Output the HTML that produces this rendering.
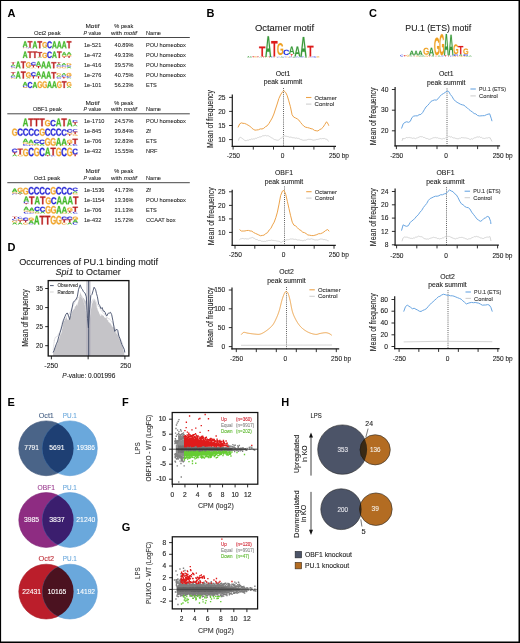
<!DOCTYPE html>
<html><head><meta charset="utf-8"><style>
html,body{margin:0;padding:0;background:#fff;width:520px;height:643px;overflow:hidden}
svg{display:block;will-change:transform}
text{font-family:"Liberation Sans", sans-serif}
</style></head><body>
<svg width="520" height="643" viewBox="0 0 520 643">
<defs><path id="gA" vector-effect="non-scaling-stroke" d="M1133 0 1008 360H471L346 0H51L565 1409H913L1425 0ZM739 1192 733 1170Q723 1134 709.0 1088.0Q695 1042 537 582H942L803 987L760 1123Z"/><path id="gC" vector-effect="non-scaling-stroke" d="M795 212Q1062 212 1166 480L1423 383Q1340 179 1179.5 79.5Q1019 -20 795 -20Q455 -20 269.5 172.5Q84 365 84 711Q84 1058 263.0 1244.0Q442 1430 782 1430Q1030 1430 1186.0 1330.5Q1342 1231 1405 1038L1145 967Q1112 1073 1015.5 1135.5Q919 1198 788 1198Q588 1198 484.5 1074.0Q381 950 381 711Q381 468 487.5 340.0Q594 212 795 212Z"/><path id="gG" vector-effect="non-scaling-stroke" d="M806 211Q921 211 1029.0 244.5Q1137 278 1196 330V525H852V743H1466V225Q1354 110 1174.5 45.0Q995 -20 798 -20Q454 -20 269.0 170.5Q84 361 84 711Q84 1059 270.0 1244.5Q456 1430 805 1430Q1301 1430 1436 1063L1164 981Q1120 1088 1026.0 1143.0Q932 1198 805 1198Q597 1198 489.0 1072.0Q381 946 381 711Q381 472 492.5 341.5Q604 211 806 211Z"/><path id="gT" vector-effect="non-scaling-stroke" d="M773 1181V0H478V1181H23V1409H1229V1181Z"/></defs>
<rect x="0" y="0" width="520" height="643" fill="#fff"/>
<text x="7.60" y="16.80" font-size="11" fill="#000" font-weight="bold">A</text>
<text x="34.00" y="35.20" font-size="5.8" fill="#222" stroke="#222" stroke-width="0.07" textLength="26.58" lengthAdjust="spacingAndGlyphs">Oct2 peak</text>
<text x="92.50" y="28.20" font-size="5.8" fill="#222" stroke="#222" stroke-width="0.07" text-anchor="middle" textLength="13.98" lengthAdjust="spacingAndGlyphs">Motif</text>
<text x="92.40" y="35.20" font-size="5.8" fill="#222" stroke="#222" stroke-width="0.07" text-anchor="middle" textLength="17.8" lengthAdjust="spacingAndGlyphs"><tspan font-style="italic">P</tspan> value</text>
<text x="123.80" y="28.20" font-size="5.8" fill="#222" stroke="#222" stroke-width="0.07" text-anchor="middle" textLength="18.88" lengthAdjust="spacingAndGlyphs">% peak</text>
<text x="124.00" y="35.20" font-size="5.8" fill="#222" stroke="#222" stroke-width="0.07" text-anchor="middle" textLength="26.0" lengthAdjust="spacingAndGlyphs">with <tspan font-style="italic">motif</tspan></text>
<text x="146.00" y="35.20" font-size="5.8" fill="#222" stroke="#222" stroke-width="0.07" textLength="14.98" lengthAdjust="spacingAndGlyphs">Name</text>
<line x1="7.30" y1="37.50" x2="189.80" y2="37.50" stroke="#333" stroke-width="0.9"/>
<text x="83.90" y="47.10" font-size="5.8" fill="#222" stroke="#222" stroke-width="0.07" textLength="17.46" lengthAdjust="spacingAndGlyphs">1e-521</text>
<text x="114.60" y="47.10" font-size="5.8" fill="#222" stroke="#222" stroke-width="0.07" textLength="18.88" lengthAdjust="spacingAndGlyphs">40.89%</text>
<text x="145.90" y="47.10" font-size="5.8" fill="#222" stroke="#222" stroke-width="0.07" textLength="39.90" lengthAdjust="spacingAndGlyphs">POU homeobox</text>
<text x="83.90" y="57.10" font-size="5.8" fill="#222" stroke="#222" stroke-width="0.07" textLength="17.46" lengthAdjust="spacingAndGlyphs">1e-472</text>
<text x="114.60" y="57.10" font-size="5.8" fill="#222" stroke="#222" stroke-width="0.07" textLength="18.88" lengthAdjust="spacingAndGlyphs">49.33%</text>
<text x="145.90" y="57.10" font-size="5.8" fill="#222" stroke="#222" stroke-width="0.07" textLength="39.90" lengthAdjust="spacingAndGlyphs">POU homeobox</text>
<text x="83.90" y="67.20" font-size="5.8" fill="#222" stroke="#222" stroke-width="0.07" textLength="17.46" lengthAdjust="spacingAndGlyphs">1e-416</text>
<text x="114.60" y="67.20" font-size="5.8" fill="#222" stroke="#222" stroke-width="0.07" textLength="18.88" lengthAdjust="spacingAndGlyphs">39.57%</text>
<text x="145.90" y="67.20" font-size="5.8" fill="#222" stroke="#222" stroke-width="0.07" textLength="39.90" lengthAdjust="spacingAndGlyphs">POU homeobox</text>
<text x="83.90" y="77.20" font-size="5.8" fill="#222" stroke="#222" stroke-width="0.07" textLength="17.46" lengthAdjust="spacingAndGlyphs">1e-276</text>
<text x="114.60" y="77.20" font-size="5.8" fill="#222" stroke="#222" stroke-width="0.07" textLength="18.88" lengthAdjust="spacingAndGlyphs">40.75%</text>
<text x="145.90" y="77.20" font-size="5.8" fill="#222" stroke="#222" stroke-width="0.07" textLength="39.90" lengthAdjust="spacingAndGlyphs">POU homeobox</text>
<text x="83.90" y="87.00" font-size="5.8" fill="#222" stroke="#222" stroke-width="0.07" textLength="17.46" lengthAdjust="spacingAndGlyphs">1e-101</text>
<text x="114.60" y="87.00" font-size="5.8" fill="#222" stroke="#222" stroke-width="0.07" textLength="18.88" lengthAdjust="spacingAndGlyphs">56.23%</text>
<text x="145.90" y="87.00" font-size="5.8" fill="#222" stroke="#222" stroke-width="0.07" textLength="10.91" lengthAdjust="spacingAndGlyphs">ETS</text>
<text x="32.70" y="111.30" font-size="5.8" fill="#222" stroke="#222" stroke-width="0.07" textLength="29.08" lengthAdjust="spacingAndGlyphs">OBF1 peak</text>
<text x="92.50" y="104.80" font-size="5.8" fill="#222" stroke="#222" stroke-width="0.07" text-anchor="middle" textLength="13.98" lengthAdjust="spacingAndGlyphs">Motif</text>
<text x="92.40" y="111.30" font-size="5.8" fill="#222" stroke="#222" stroke-width="0.07" text-anchor="middle" textLength="17.8" lengthAdjust="spacingAndGlyphs"><tspan font-style="italic">P</tspan> value</text>
<text x="123.80" y="104.80" font-size="5.8" fill="#222" stroke="#222" stroke-width="0.07" text-anchor="middle" textLength="18.88" lengthAdjust="spacingAndGlyphs">% peak</text>
<text x="124.00" y="111.30" font-size="5.8" fill="#222" stroke="#222" stroke-width="0.07" text-anchor="middle" textLength="26.0" lengthAdjust="spacingAndGlyphs">with <tspan font-style="italic">motif</tspan></text>
<text x="146.00" y="111.30" font-size="5.8" fill="#222" stroke="#222" stroke-width="0.07" textLength="14.98" lengthAdjust="spacingAndGlyphs">Name</text>
<line x1="7.30" y1="113.80" x2="189.80" y2="113.80" stroke="#333" stroke-width="0.9"/>
<text x="83.90" y="123.40" font-size="5.8" fill="#222" stroke="#222" stroke-width="0.07" textLength="20.58" lengthAdjust="spacingAndGlyphs">1e-1710</text>
<text x="114.60" y="123.40" font-size="5.8" fill="#222" stroke="#222" stroke-width="0.07" textLength="18.88" lengthAdjust="spacingAndGlyphs">24.57%</text>
<text x="145.90" y="123.40" font-size="5.8" fill="#222" stroke="#222" stroke-width="0.07" textLength="39.90" lengthAdjust="spacingAndGlyphs">POU homeobox</text>
<text x="83.90" y="133.20" font-size="5.8" fill="#222" stroke="#222" stroke-width="0.07" textLength="17.46" lengthAdjust="spacingAndGlyphs">1e-845</text>
<text x="114.60" y="133.20" font-size="5.8" fill="#222" stroke="#222" stroke-width="0.07" textLength="18.88" lengthAdjust="spacingAndGlyphs">39.84%</text>
<text x="145.90" y="133.20" font-size="5.8" fill="#222" stroke="#222" stroke-width="0.07" textLength="4.98" lengthAdjust="spacingAndGlyphs">Zf</text>
<text x="83.90" y="143.10" font-size="5.8" fill="#222" stroke="#222" stroke-width="0.07" textLength="17.46" lengthAdjust="spacingAndGlyphs">1e-706</text>
<text x="114.60" y="143.10" font-size="5.8" fill="#222" stroke="#222" stroke-width="0.07" textLength="18.88" lengthAdjust="spacingAndGlyphs">32.83%</text>
<text x="145.90" y="143.10" font-size="5.8" fill="#222" stroke="#222" stroke-width="0.07" textLength="10.91" lengthAdjust="spacingAndGlyphs">ETS</text>
<text x="83.90" y="152.80" font-size="5.8" fill="#222" stroke="#222" stroke-width="0.07" textLength="17.46" lengthAdjust="spacingAndGlyphs">1e-432</text>
<text x="114.60" y="152.80" font-size="5.8" fill="#222" stroke="#222" stroke-width="0.07" textLength="18.88" lengthAdjust="spacingAndGlyphs">15.55%</text>
<text x="145.90" y="152.80" font-size="5.8" fill="#222" stroke="#222" stroke-width="0.07" textLength="11.53" lengthAdjust="spacingAndGlyphs">NRF</text>
<text x="33.70" y="180.30" font-size="5.8" fill="#222" stroke="#222" stroke-width="0.07" textLength="26.48" lengthAdjust="spacingAndGlyphs">Oct1 peak</text>
<text x="92.50" y="173.20" font-size="5.8" fill="#222" stroke="#222" stroke-width="0.07" text-anchor="middle" textLength="13.98" lengthAdjust="spacingAndGlyphs">Motif</text>
<text x="92.40" y="180.30" font-size="5.8" fill="#222" stroke="#222" stroke-width="0.07" text-anchor="middle" textLength="17.8" lengthAdjust="spacingAndGlyphs"><tspan font-style="italic">P</tspan> value</text>
<text x="123.80" y="173.20" font-size="5.8" fill="#222" stroke="#222" stroke-width="0.07" text-anchor="middle" textLength="18.88" lengthAdjust="spacingAndGlyphs">% peak</text>
<text x="124.00" y="180.30" font-size="5.8" fill="#222" stroke="#222" stroke-width="0.07" text-anchor="middle" textLength="26.0" lengthAdjust="spacingAndGlyphs">with <tspan font-style="italic">motif</tspan></text>
<text x="146.00" y="180.30" font-size="5.8" fill="#222" stroke="#222" stroke-width="0.07" textLength="14.98" lengthAdjust="spacingAndGlyphs">Name</text>
<line x1="7.30" y1="182.70" x2="189.80" y2="182.70" stroke="#333" stroke-width="0.9"/>
<text x="83.90" y="191.70" font-size="5.8" fill="#222" stroke="#222" stroke-width="0.07" textLength="20.58" lengthAdjust="spacingAndGlyphs">1e-1536</text>
<text x="114.60" y="191.70" font-size="5.8" fill="#222" stroke="#222" stroke-width="0.07" textLength="18.88" lengthAdjust="spacingAndGlyphs">41.73%</text>
<text x="145.90" y="191.70" font-size="5.8" fill="#222" stroke="#222" stroke-width="0.07" textLength="4.98" lengthAdjust="spacingAndGlyphs">Zf</text>
<text x="83.90" y="201.80" font-size="5.8" fill="#222" stroke="#222" stroke-width="0.07" textLength="20.58" lengthAdjust="spacingAndGlyphs">1e-1154</text>
<text x="114.60" y="201.80" font-size="5.8" fill="#222" stroke="#222" stroke-width="0.07" textLength="18.88" lengthAdjust="spacingAndGlyphs">13.36%</text>
<text x="145.90" y="201.80" font-size="5.8" fill="#222" stroke="#222" stroke-width="0.07" textLength="39.90" lengthAdjust="spacingAndGlyphs">POU homeobox</text>
<text x="83.90" y="211.60" font-size="5.8" fill="#222" stroke="#222" stroke-width="0.07" textLength="17.46" lengthAdjust="spacingAndGlyphs">1e-706</text>
<text x="114.60" y="211.60" font-size="5.8" fill="#222" stroke="#222" stroke-width="0.07" textLength="18.88" lengthAdjust="spacingAndGlyphs">31.13%</text>
<text x="145.90" y="211.60" font-size="5.8" fill="#222" stroke="#222" stroke-width="0.07" textLength="10.91" lengthAdjust="spacingAndGlyphs">ETS</text>
<text x="83.90" y="221.60" font-size="5.8" fill="#222" stroke="#222" stroke-width="0.07" textLength="17.46" lengthAdjust="spacingAndGlyphs">1e-432</text>
<text x="114.60" y="221.60" font-size="5.8" fill="#222" stroke="#222" stroke-width="0.07" textLength="18.88" lengthAdjust="spacingAndGlyphs">15.72%</text>
<text x="145.90" y="221.60" font-size="5.8" fill="#222" stroke="#222" stroke-width="0.07" textLength="29.61" lengthAdjust="spacingAndGlyphs">CCAAT box</text>
<use href="#gA" transform="matrix(0.00334,0,0,-0.00397,22.676,46.900)" fill="#44b82a" stroke="#44b82a" stroke-width="0.3"/>
<use href="#gC" transform="matrix(0.00343,0,0,-0.00048,22.559,47.590)" fill="#2a2ad6"/>
<use href="#gG" transform="matrix(0.00332,0,0,-0.00048,22.568,48.290)" fill="#f0a62e"/>
<use href="#gT" transform="matrix(0.00380,0,0,-0.00447,27.639,47.600)" fill="#bb1e1e" stroke="#bb1e1e" stroke-width="0.3"/>
<use href="#gC" transform="matrix(0.00343,0,0,-0.00048,27.439,48.290)" fill="#2a2ad6"/>
<use href="#gA" transform="matrix(0.00334,0,0,-0.00497,32.436,48.300)" fill="#44b82a" stroke="#44b82a" stroke-width="0.3"/>
<use href="#gT" transform="matrix(0.00380,0,0,-0.00497,37.399,48.300)" fill="#bb1e1e" stroke="#bb1e1e" stroke-width="0.3"/>
<use href="#gG" transform="matrix(0.00332,0,0,-0.00386,42.088,47.523)" fill="#f0a62e" stroke="#f0a62e" stroke-width="0.3"/>
<use href="#gA" transform="matrix(0.00334,0,0,-0.00050,42.196,48.300)" fill="#44b82a"/>
<use href="#gC" transform="matrix(0.00343,0,0,-0.00483,46.959,48.203)" fill="#2a2ad6" stroke="#2a2ad6" stroke-width="0.3"/>
<use href="#gA" transform="matrix(0.00334,0,0,-0.00497,51.956,48.300)" fill="#44b82a" stroke="#44b82a" stroke-width="0.3"/>
<use href="#gA" transform="matrix(0.00334,0,0,-0.00497,56.836,48.300)" fill="#44b82a" stroke="#44b82a" stroke-width="0.3"/>
<use href="#gA" transform="matrix(0.00334,0,0,-0.00497,61.716,48.300)" fill="#44b82a" stroke="#44b82a" stroke-width="0.3"/>
<use href="#gT" transform="matrix(0.00380,0,0,-0.00497,66.679,48.300)" fill="#bb1e1e" stroke="#bb1e1e" stroke-width="0.3"/>
<use href="#gA" transform="matrix(0.00334,0,0,-0.00461,22.676,58.000)" fill="#44b82a" stroke="#44b82a" stroke-width="0.3"/>
<use href="#gT" transform="matrix(0.00380,0,0,-0.00461,27.639,58.000)" fill="#bb1e1e" stroke="#bb1e1e" stroke-width="0.3"/>
<use href="#gT" transform="matrix(0.00380,0,0,-0.00461,32.519,58.000)" fill="#bb1e1e" stroke="#bb1e1e" stroke-width="0.3"/>
<use href="#gT" transform="matrix(0.00380,0,0,-0.00323,37.399,56.700)" fill="#bb1e1e" stroke="#bb1e1e" stroke-width="0.3"/>
<use href="#gG" transform="matrix(0.00332,0,0,-0.00045,37.208,57.341)" fill="#f0a62e"/>
<use href="#gA" transform="matrix(0.00334,0,0,-0.00046,37.316,58.000)" fill="#44b82a"/>
<use href="#gG" transform="matrix(0.00332,0,0,-0.00359,42.088,57.928)" fill="#f0a62e" stroke="#f0a62e" stroke-width="0.3"/>
<use href="#gC" transform="matrix(0.00343,0,0,-0.00448,46.959,57.910)" fill="#2a2ad6" stroke="#2a2ad6" stroke-width="0.3"/>
<use href="#gA" transform="matrix(0.00334,0,0,-0.00461,51.956,58.000)" fill="#44b82a" stroke="#44b82a" stroke-width="0.3"/>
<use href="#gT" transform="matrix(0.00380,0,0,-0.00461,56.919,58.000)" fill="#bb1e1e" stroke="#bb1e1e" stroke-width="0.3"/>
<use href="#gA" transform="matrix(0.00334,0,0,-0.00231,61.716,55.400)" fill="#44b82a" stroke="#44b82a" stroke-width="0.3"/>
<use href="#gG" transform="matrix(0.00332,0,0,-0.00090,61.608,56.682)" fill="#f0a62e"/>
<use href="#gT" transform="matrix(0.00380,0,0,-0.00092,61.799,58.000)" fill="#bb1e1e"/>
<use href="#gA" transform="matrix(0.00334,0,0,-0.00185,66.596,54.750)" fill="#44b82a" stroke="#44b82a" stroke-width="0.3"/>
<use href="#gG" transform="matrix(0.00332,0,0,-0.00090,66.488,56.032)" fill="#f0a62e"/>
<use href="#gT" transform="matrix(0.00380,0,0,-0.00138,66.679,58.000)" fill="#bb1e1e"/>
<use href="#gT" transform="matrix(0.00396,0,0,-0.00161,10.661,64.522)" fill="#bb1e1e"/>
<use href="#gA" transform="matrix(0.00347,0,0,-0.00107,10.575,66.033)" fill="#44b82a"/>
<use href="#gC" transform="matrix(0.00356,0,0,-0.00104,10.453,67.524)" fill="#2a2ad6"/>
<use href="#gG" transform="matrix(0.00345,0,0,-0.00052,10.462,68.290)" fill="#f0a62e"/>
<use href="#gA" transform="matrix(0.00347,0,0,-0.00483,15.650,68.300)" fill="#44b82a" stroke="#44b82a" stroke-width="0.3"/>
<use href="#gT" transform="matrix(0.00396,0,0,-0.00483,20.811,68.300)" fill="#bb1e1e" stroke="#bb1e1e" stroke-width="0.3"/>
<use href="#gG" transform="matrix(0.00345,0,0,-0.00365,25.687,67.471)" fill="#f0a62e" stroke="#f0a62e" stroke-width="0.3"/>
<use href="#gA" transform="matrix(0.00347,0,0,-0.00054,25.800,68.300)" fill="#44b82a"/>
<use href="#gC" transform="matrix(0.00356,0,0,-0.00208,30.753,65.236)" fill="#2a2ad6" stroke="#2a2ad6" stroke-width="0.3"/>
<use href="#gT" transform="matrix(0.00396,0,0,-0.00161,30.961,67.544)" fill="#bb1e1e"/>
<use href="#gG" transform="matrix(0.00345,0,0,-0.00052,30.762,68.290)" fill="#f0a62e"/>
<use href="#gA" transform="matrix(0.00347,0,0,-0.00322,35.950,66.033)" fill="#44b82a" stroke="#44b82a" stroke-width="0.3"/>
<use href="#gT" transform="matrix(0.00396,0,0,-0.00161,36.036,68.300)" fill="#bb1e1e"/>
<use href="#gA" transform="matrix(0.00347,0,0,-0.00483,41.025,68.300)" fill="#44b82a" stroke="#44b82a" stroke-width="0.3"/>
<use href="#gA" transform="matrix(0.00347,0,0,-0.00483,46.100,68.300)" fill="#44b82a" stroke="#44b82a" stroke-width="0.3"/>
<use href="#gT" transform="matrix(0.00396,0,0,-0.00429,51.261,68.300)" fill="#bb1e1e" stroke="#bb1e1e" stroke-width="0.3"/>
<use href="#gT" transform="matrix(0.00396,0,0,-0.00107,56.336,63.767)" fill="#bb1e1e"/>
<use href="#gA" transform="matrix(0.00347,0,0,-0.00107,56.250,65.278)" fill="#44b82a"/>
<use href="#gC" transform="matrix(0.00356,0,0,-0.00104,56.128,66.768)" fill="#2a2ad6"/>
<use href="#gG" transform="matrix(0.00345,0,0,-0.00104,56.137,68.279)" fill="#f0a62e"/>
<use href="#gA" transform="matrix(0.00347,0,0,-0.00161,61.325,65.278)" fill="#44b82a"/>
<use href="#gC" transform="matrix(0.00356,0,0,-0.00104,61.203,66.768)" fill="#2a2ad6"/>
<use href="#gG" transform="matrix(0.00345,0,0,-0.00104,61.212,68.279)" fill="#f0a62e"/>
<use href="#gG" transform="matrix(0.00345,0,0,-0.00156,66.287,65.247)" fill="#f0a62e"/>
<use href="#gC" transform="matrix(0.00356,0,0,-0.00104,66.278,66.768)" fill="#2a2ad6"/>
<use href="#gA" transform="matrix(0.00347,0,0,-0.00107,66.400,68.300)" fill="#44b82a"/>
<use href="#gT" transform="matrix(0.00396,0,0,-0.00166,10.661,74.611)" fill="#bb1e1e"/>
<use href="#gA" transform="matrix(0.00347,0,0,-0.00110,10.575,76.167)" fill="#44b82a"/>
<use href="#gC" transform="matrix(0.00356,0,0,-0.00107,10.453,77.701)" fill="#2a2ad6"/>
<use href="#gG" transform="matrix(0.00345,0,0,-0.00054,10.462,78.489)" fill="#f0a62e"/>
<use href="#gA" transform="matrix(0.00347,0,0,-0.00497,15.650,78.500)" fill="#44b82a" stroke="#44b82a" stroke-width="0.3"/>
<use href="#gT" transform="matrix(0.00396,0,0,-0.00497,20.811,78.500)" fill="#bb1e1e" stroke="#bb1e1e" stroke-width="0.3"/>
<use href="#gG" transform="matrix(0.00345,0,0,-0.00375,25.687,77.647)" fill="#f0a62e" stroke="#f0a62e" stroke-width="0.3"/>
<use href="#gA" transform="matrix(0.00347,0,0,-0.00055,25.800,78.500)" fill="#44b82a"/>
<use href="#gC" transform="matrix(0.00356,0,0,-0.00268,30.753,76.113)" fill="#2a2ad6" stroke="#2a2ad6" stroke-width="0.3"/>
<use href="#gT" transform="matrix(0.00396,0,0,-0.00166,30.961,78.500)" fill="#bb1e1e"/>
<use href="#gA" transform="matrix(0.00347,0,0,-0.00331,35.950,76.167)" fill="#44b82a" stroke="#44b82a" stroke-width="0.3"/>
<use href="#gT" transform="matrix(0.00396,0,0,-0.00166,36.036,78.500)" fill="#bb1e1e"/>
<use href="#gA" transform="matrix(0.00347,0,0,-0.00497,41.025,78.500)" fill="#44b82a" stroke="#44b82a" stroke-width="0.3"/>
<use href="#gA" transform="matrix(0.00347,0,0,-0.00497,46.100,78.500)" fill="#44b82a" stroke="#44b82a" stroke-width="0.3"/>
<use href="#gT" transform="matrix(0.00396,0,0,-0.00442,51.261,78.500)" fill="#bb1e1e" stroke="#bb1e1e" stroke-width="0.3"/>
<use href="#gG" transform="matrix(0.00345,0,0,-0.00161,56.137,75.357)" fill="#f0a62e"/>
<use href="#gA" transform="matrix(0.00347,0,0,-0.00110,56.250,76.944)" fill="#44b82a"/>
<use href="#gC" transform="matrix(0.00356,0,0,-0.00107,56.128,78.479)" fill="#2a2ad6"/>
<use href="#gA" transform="matrix(0.00347,0,0,-0.00166,61.325,75.389)" fill="#44b82a"/>
<use href="#gC" transform="matrix(0.00356,0,0,-0.00107,61.203,76.923)" fill="#2a2ad6"/>
<use href="#gT" transform="matrix(0.00396,0,0,-0.00110,61.411,78.500)" fill="#bb1e1e"/>
<use href="#gG" transform="matrix(0.00345,0,0,-0.00215,66.287,76.124)" fill="#f0a62e" stroke="#f0a62e" stroke-width="0.3"/>
<use href="#gC" transform="matrix(0.00356,0,0,-0.00107,66.278,77.701)" fill="#2a2ad6"/>
<use href="#gA" transform="matrix(0.00347,0,0,-0.00055,66.400,78.500)" fill="#44b82a"/>
<use href="#gA" transform="matrix(0.00334,0,0,-0.00264,22.676,85.767)" fill="#44b82a" stroke="#44b82a" stroke-width="0.3"/>
<use href="#gC" transform="matrix(0.00343,0,0,-0.00103,22.559,87.235)" fill="#2a2ad6"/>
<use href="#gG" transform="matrix(0.00332,0,0,-0.00051,22.568,87.990)" fill="#f0a62e"/>
<use href="#gC" transform="matrix(0.00343,0,0,-0.00411,27.439,87.918)" fill="#2a2ad6" stroke="#2a2ad6" stroke-width="0.3"/>
<use href="#gA" transform="matrix(0.00334,0,0,-0.00423,32.436,88.000)" fill="#44b82a" stroke="#44b82a" stroke-width="0.3"/>
<use href="#gG" transform="matrix(0.00332,0,0,-0.00462,37.208,87.908)" fill="#f0a62e" stroke="#f0a62e" stroke-width="0.3"/>
<use href="#gG" transform="matrix(0.00332,0,0,-0.00462,42.088,87.908)" fill="#f0a62e" stroke="#f0a62e" stroke-width="0.3"/>
<use href="#gA" transform="matrix(0.00334,0,0,-0.00476,47.076,88.000)" fill="#44b82a" stroke="#44b82a" stroke-width="0.3"/>
<use href="#gA" transform="matrix(0.00334,0,0,-0.00476,51.956,88.000)" fill="#44b82a" stroke="#44b82a" stroke-width="0.3"/>
<use href="#gG" transform="matrix(0.00332,0,0,-0.00462,56.728,87.908)" fill="#f0a62e" stroke="#f0a62e" stroke-width="0.3"/>
<use href="#gT" transform="matrix(0.00380,0,0,-0.00476,61.799,88.000)" fill="#bb1e1e" stroke="#bb1e1e" stroke-width="0.3"/>
<use href="#gG" transform="matrix(0.00332,0,0,-0.00308,66.488,86.450)" fill="#f0a62e" stroke="#f0a62e" stroke-width="0.3"/>
<use href="#gA" transform="matrix(0.00334,0,0,-0.00106,66.596,88.000)" fill="#44b82a"/>
<use href="#gA" transform="matrix(0.00378,0,0,-0.00546,22.673,126.200)" fill="#44b82a" stroke="#44b82a" stroke-width="0.3"/>
<use href="#gT" transform="matrix(0.00430,0,0,-0.00546,28.287,126.200)" fill="#bb1e1e" stroke="#bb1e1e" stroke-width="0.3"/>
<use href="#gT" transform="matrix(0.00430,0,0,-0.00546,33.807,126.200)" fill="#bb1e1e" stroke="#bb1e1e" stroke-width="0.3"/>
<use href="#gT" transform="matrix(0.00430,0,0,-0.00546,39.327,126.200)" fill="#bb1e1e" stroke="#bb1e1e" stroke-width="0.3"/>
<use href="#gG" transform="matrix(0.00375,0,0,-0.00425,44.630,126.115)" fill="#f0a62e" stroke="#f0a62e" stroke-width="0.3"/>
<use href="#gC" transform="matrix(0.00388,0,0,-0.00425,50.140,126.115)" fill="#2a2ad6" stroke="#2a2ad6" stroke-width="0.3"/>
<use href="#gA" transform="matrix(0.00378,0,0,-0.00546,55.793,126.200)" fill="#44b82a" stroke="#44b82a" stroke-width="0.3"/>
<use href="#gT" transform="matrix(0.00430,0,0,-0.00546,61.407,126.200)" fill="#bb1e1e" stroke="#bb1e1e" stroke-width="0.3"/>
<use href="#gA" transform="matrix(0.00378,0,0,-0.00492,66.833,126.200)" fill="#44b82a" stroke="#44b82a" stroke-width="0.3"/>
<use href="#gC" transform="matrix(0.00388,0,0,-0.00159,72.220,122.318)" fill="#2a2ad6"/>
<use href="#gT" transform="matrix(0.00430,0,0,-0.00164,72.447,124.660)" fill="#bb1e1e"/>
<use href="#gA" transform="matrix(0.00378,0,0,-0.00109,72.353,126.200)" fill="#44b82a"/>
<use href="#gG" transform="matrix(0.00374,0,0,-0.00503,11.751,135.699)" fill="#f0a62e" stroke="#f0a62e" stroke-width="0.3"/>
<use href="#gC" transform="matrix(0.00386,0,0,-0.00503,17.241,135.699)" fill="#2a2ad6" stroke="#2a2ad6" stroke-width="0.3"/>
<use href="#gC" transform="matrix(0.00386,0,0,-0.00503,22.741,135.699)" fill="#2a2ad6" stroke="#2a2ad6" stroke-width="0.3"/>
<use href="#gC" transform="matrix(0.00386,0,0,-0.00503,28.241,135.699)" fill="#2a2ad6" stroke="#2a2ad6" stroke-width="0.3"/>
<use href="#gC" transform="matrix(0.00386,0,0,-0.00448,33.741,135.710)" fill="#2a2ad6" stroke="#2a2ad6" stroke-width="0.3"/>
<use href="#gG" transform="matrix(0.00374,0,0,-0.00503,39.251,135.699)" fill="#f0a62e" stroke="#f0a62e" stroke-width="0.3"/>
<use href="#gC" transform="matrix(0.00386,0,0,-0.00503,44.741,135.699)" fill="#2a2ad6" stroke="#2a2ad6" stroke-width="0.3"/>
<use href="#gC" transform="matrix(0.00386,0,0,-0.00503,50.241,135.699)" fill="#2a2ad6" stroke="#2a2ad6" stroke-width="0.3"/>
<use href="#gC" transform="matrix(0.00386,0,0,-0.00503,55.741,135.699)" fill="#2a2ad6" stroke="#2a2ad6" stroke-width="0.3"/>
<use href="#gC" transform="matrix(0.00386,0,0,-0.00448,61.241,135.710)" fill="#2a2ad6" stroke="#2a2ad6" stroke-width="0.3"/>
<use href="#gC" transform="matrix(0.00386,0,0,-0.00224,66.741,132.511)" fill="#2a2ad6" stroke="#2a2ad6" stroke-width="0.3"/>
<use href="#gG" transform="matrix(0.00374,0,0,-0.00112,66.751,134.155)" fill="#f0a62e"/>
<use href="#gT" transform="matrix(0.00429,0,0,-0.00115,66.966,135.800)" fill="#bb1e1e"/>
<use href="#gC" transform="matrix(0.00386,0,0,-0.00168,72.241,131.711)" fill="#2a2ad6"/>
<use href="#gT" transform="matrix(0.00429,0,0,-0.00173,72.466,134.178)" fill="#bb1e1e"/>
<use href="#gG" transform="matrix(0.00374,0,0,-0.00112,72.251,135.778)" fill="#f0a62e"/>
<use href="#gA" transform="matrix(0.00378,0,0,-0.00246,22.673,142.333)" fill="#44b82a" stroke="#44b82a" stroke-width="0.3"/>
<use href="#gG" transform="matrix(0.00375,0,0,-0.00120,22.550,144.043)" fill="#f0a62e"/>
<use href="#gC" transform="matrix(0.00388,0,0,-0.00120,22.540,145.776)" fill="#2a2ad6"/>
<use href="#gA" transform="matrix(0.00378,0,0,-0.00246,28.193,143.200)" fill="#44b82a" stroke="#44b82a" stroke-width="0.3"/>
<use href="#gG" transform="matrix(0.00375,0,0,-0.00120,28.070,144.909)" fill="#f0a62e"/>
<use href="#gC" transform="matrix(0.00388,0,0,-0.00060,28.060,145.788)" fill="#2a2ad6"/>
<use href="#gC" transform="matrix(0.00388,0,0,-0.00239,33.580,143.152)" fill="#2a2ad6" stroke="#2a2ad6" stroke-width="0.3"/>
<use href="#gA" transform="matrix(0.00378,0,0,-0.00123,33.713,144.933)" fill="#44b82a"/>
<use href="#gG" transform="matrix(0.00375,0,0,-0.00060,33.590,145.788)" fill="#f0a62e"/>
<use href="#gC" transform="matrix(0.00388,0,0,-0.00299,39.100,144.007)" fill="#2a2ad6" stroke="#2a2ad6" stroke-width="0.3"/>
<use href="#gA" transform="matrix(0.00378,0,0,-0.00123,39.233,145.800)" fill="#44b82a"/>
<use href="#gG" transform="matrix(0.00375,0,0,-0.00538,44.630,145.692)" fill="#f0a62e" stroke="#f0a62e" stroke-width="0.3"/>
<use href="#gG" transform="matrix(0.00375,0,0,-0.00538,50.150,145.692)" fill="#f0a62e" stroke="#f0a62e" stroke-width="0.3"/>
<use href="#gA" transform="matrix(0.00378,0,0,-0.00554,55.793,145.800)" fill="#44b82a" stroke="#44b82a" stroke-width="0.3"/>
<use href="#gA" transform="matrix(0.00378,0,0,-0.00431,61.313,144.933)" fill="#44b82a" stroke="#44b82a" stroke-width="0.3"/>
<use href="#gG" transform="matrix(0.00375,0,0,-0.00060,61.190,145.788)" fill="#f0a62e"/>
<use href="#gG" transform="matrix(0.00375,0,0,-0.00239,66.710,143.152)" fill="#f0a62e" stroke="#f0a62e" stroke-width="0.3"/>
<use href="#gT" transform="matrix(0.00430,0,0,-0.00123,66.927,144.933)" fill="#bb1e1e"/>
<use href="#gA" transform="matrix(0.00378,0,0,-0.00062,66.833,145.800)" fill="#44b82a"/>
<use href="#gT" transform="matrix(0.00430,0,0,-0.00369,72.447,144.067)" fill="#bb1e1e" stroke="#bb1e1e" stroke-width="0.3"/>
<use href="#gC" transform="matrix(0.00388,0,0,-0.00120,72.220,145.776)" fill="#2a2ad6"/>
<use href="#gC" transform="matrix(0.00386,0,0,-0.00264,11.741,152.425)" fill="#2a2ad6" stroke="#2a2ad6" stroke-width="0.3"/>
<use href="#gT" transform="matrix(0.00429,0,0,-0.00136,11.966,154.389)" fill="#bb1e1e"/>
<use href="#gA" transform="matrix(0.00376,0,0,-0.00136,11.873,156.300)" fill="#44b82a"/>
<use href="#gT" transform="matrix(0.00429,0,0,-0.00407,17.466,154.389)" fill="#bb1e1e" stroke="#bb1e1e" stroke-width="0.3"/>
<use href="#gG" transform="matrix(0.00374,0,0,-0.00132,17.251,156.274)" fill="#f0a62e"/>
<use href="#gG" transform="matrix(0.00374,0,0,-0.00527,22.751,156.195)" fill="#f0a62e" stroke="#f0a62e" stroke-width="0.3"/>
<use href="#gC" transform="matrix(0.00386,0,0,-0.00593,28.241,156.181)" fill="#2a2ad6" stroke="#2a2ad6" stroke-width="0.3"/>
<use href="#gG" transform="matrix(0.00374,0,0,-0.00593,33.751,156.181)" fill="#f0a62e" stroke="#f0a62e" stroke-width="0.3"/>
<use href="#gC" transform="matrix(0.00386,0,0,-0.00593,39.241,156.181)" fill="#2a2ad6" stroke="#2a2ad6" stroke-width="0.3"/>
<use href="#gA" transform="matrix(0.00376,0,0,-0.00543,44.873,155.344)" fill="#44b82a" stroke="#44b82a" stroke-width="0.3"/>
<use href="#gT" transform="matrix(0.00429,0,0,-0.00068,44.966,156.300)" fill="#bb1e1e"/>
<use href="#gT" transform="matrix(0.00429,0,0,-0.00543,50.466,155.344)" fill="#bb1e1e" stroke="#bb1e1e" stroke-width="0.3"/>
<use href="#gC" transform="matrix(0.00386,0,0,-0.00066,50.241,156.287)" fill="#2a2ad6"/>
<use href="#gG" transform="matrix(0.00374,0,0,-0.00593,55.751,156.181)" fill="#f0a62e" stroke="#f0a62e" stroke-width="0.3"/>
<use href="#gC" transform="matrix(0.00386,0,0,-0.00593,61.241,156.181)" fill="#2a2ad6" stroke="#2a2ad6" stroke-width="0.3"/>
<use href="#gG" transform="matrix(0.00374,0,0,-0.00593,66.751,156.181)" fill="#f0a62e" stroke="#f0a62e" stroke-width="0.3"/>
<use href="#gC" transform="matrix(0.00386,0,0,-0.00395,72.241,154.310)" fill="#2a2ad6" stroke="#2a2ad6" stroke-width="0.3"/>
<use href="#gT" transform="matrix(0.00429,0,0,-0.00136,72.466,156.300)" fill="#bb1e1e"/>
<use href="#gA" transform="matrix(0.00376,0,0,-0.00243,11.873,192.033)" fill="#44b82a" stroke="#44b82a" stroke-width="0.3"/>
<use href="#gG" transform="matrix(0.00374,0,0,-0.00118,11.751,193.721)" fill="#f0a62e"/>
<use href="#gC" transform="matrix(0.00386,0,0,-0.00059,11.741,194.588)" fill="#2a2ad6"/>
<use href="#gG" transform="matrix(0.00374,0,0,-0.00295,17.251,191.974)" fill="#f0a62e" stroke="#f0a62e" stroke-width="0.3"/>
<use href="#gA" transform="matrix(0.00376,0,0,-0.00121,17.373,193.744)" fill="#44b82a"/>
<use href="#gT" transform="matrix(0.00429,0,0,-0.00061,17.466,194.600)" fill="#bb1e1e"/>
<use href="#gG" transform="matrix(0.00374,0,0,-0.00472,22.751,194.506)" fill="#f0a62e" stroke="#f0a62e" stroke-width="0.3"/>
<use href="#gC" transform="matrix(0.00386,0,0,-0.00531,28.241,194.494)" fill="#2a2ad6" stroke="#2a2ad6" stroke-width="0.3"/>
<use href="#gC" transform="matrix(0.00386,0,0,-0.00531,33.741,194.494)" fill="#2a2ad6" stroke="#2a2ad6" stroke-width="0.3"/>
<use href="#gC" transform="matrix(0.00386,0,0,-0.00531,39.241,194.494)" fill="#2a2ad6" stroke="#2a2ad6" stroke-width="0.3"/>
<use href="#gC" transform="matrix(0.00386,0,0,-0.00472,44.741,194.506)" fill="#2a2ad6" stroke="#2a2ad6" stroke-width="0.3"/>
<use href="#gG" transform="matrix(0.00374,0,0,-0.00531,50.251,194.494)" fill="#f0a62e" stroke="#f0a62e" stroke-width="0.3"/>
<use href="#gC" transform="matrix(0.00386,0,0,-0.00531,55.741,194.494)" fill="#2a2ad6" stroke="#2a2ad6" stroke-width="0.3"/>
<use href="#gC" transform="matrix(0.00386,0,0,-0.00531,61.241,194.494)" fill="#2a2ad6" stroke="#2a2ad6" stroke-width="0.3"/>
<use href="#gC" transform="matrix(0.00386,0,0,-0.00472,66.741,194.506)" fill="#2a2ad6" stroke="#2a2ad6" stroke-width="0.3"/>
<use href="#gC" transform="matrix(0.00386,0,0,-0.00236,72.241,191.131)" fill="#2a2ad6" stroke="#2a2ad6" stroke-width="0.3"/>
<use href="#gA" transform="matrix(0.00376,0,0,-0.00121,72.373,192.889)" fill="#44b82a"/>
<use href="#gG" transform="matrix(0.00374,0,0,-0.00118,72.251,194.576)" fill="#f0a62e"/>
<use href="#gA" transform="matrix(0.00376,0,0,-0.00364,23.473,201.633)" fill="#44b82a" stroke="#44b82a" stroke-width="0.3"/>
<use href="#gC" transform="matrix(0.00386,0,0,-0.00118,23.341,203.321)" fill="#2a2ad6"/>
<use href="#gT" transform="matrix(0.00429,0,0,-0.00061,23.566,204.200)" fill="#bb1e1e"/>
<use href="#gT" transform="matrix(0.00429,0,0,-0.00546,29.066,204.200)" fill="#bb1e1e" stroke="#bb1e1e" stroke-width="0.3"/>
<use href="#gA" transform="matrix(0.00376,0,0,-0.00546,34.473,204.200)" fill="#44b82a" stroke="#44b82a" stroke-width="0.3"/>
<use href="#gT" transform="matrix(0.00429,0,0,-0.00546,40.066,204.200)" fill="#bb1e1e" stroke="#bb1e1e" stroke-width="0.3"/>
<use href="#gG" transform="matrix(0.00374,0,0,-0.00472,45.351,204.106)" fill="#f0a62e" stroke="#f0a62e" stroke-width="0.3"/>
<use href="#gC" transform="matrix(0.00386,0,0,-0.00472,50.841,204.106)" fill="#2a2ad6" stroke="#2a2ad6" stroke-width="0.3"/>
<use href="#gA" transform="matrix(0.00376,0,0,-0.00546,56.473,204.200)" fill="#44b82a" stroke="#44b82a" stroke-width="0.3"/>
<use href="#gA" transform="matrix(0.00376,0,0,-0.00546,61.973,204.200)" fill="#44b82a" stroke="#44b82a" stroke-width="0.3"/>
<use href="#gA" transform="matrix(0.00376,0,0,-0.00546,67.473,204.200)" fill="#44b82a" stroke="#44b82a" stroke-width="0.3"/>
<use href="#gT" transform="matrix(0.00429,0,0,-0.00546,73.066,204.200)" fill="#bb1e1e" stroke="#bb1e1e" stroke-width="0.3"/>
<use href="#gA" transform="matrix(0.00373,0,0,-0.00237,23.473,210.167)" fill="#44b82a" stroke="#44b82a" stroke-width="0.3"/>
<use href="#gG" transform="matrix(0.00371,0,0,-0.00115,23.352,211.810)" fill="#f0a62e"/>
<use href="#gC" transform="matrix(0.00383,0,0,-0.00115,23.342,213.477)" fill="#2a2ad6"/>
<use href="#gA" transform="matrix(0.00373,0,0,-0.00237,28.923,211.000)" fill="#44b82a" stroke="#44b82a" stroke-width="0.3"/>
<use href="#gG" transform="matrix(0.00371,0,0,-0.00115,28.802,212.644)" fill="#f0a62e"/>
<use href="#gC" transform="matrix(0.00383,0,0,-0.00057,28.792,213.489)" fill="#2a2ad6"/>
<use href="#gC" transform="matrix(0.00383,0,0,-0.00287,34.242,210.943)" fill="#2a2ad6" stroke="#2a2ad6" stroke-width="0.3"/>
<use href="#gA" transform="matrix(0.00373,0,0,-0.00118,34.373,212.667)" fill="#44b82a"/>
<use href="#gG" transform="matrix(0.00371,0,0,-0.00057,34.252,213.489)" fill="#f0a62e"/>
<use href="#gC" transform="matrix(0.00383,0,0,-0.00345,39.692,211.764)" fill="#2a2ad6" stroke="#2a2ad6" stroke-width="0.3"/>
<use href="#gA" transform="matrix(0.00373,0,0,-0.00118,39.823,213.500)" fill="#44b82a"/>
<use href="#gG" transform="matrix(0.00371,0,0,-0.00517,45.152,213.397)" fill="#f0a62e" stroke="#f0a62e" stroke-width="0.3"/>
<use href="#gG" transform="matrix(0.00371,0,0,-0.00517,50.602,213.397)" fill="#f0a62e" stroke="#f0a62e" stroke-width="0.3"/>
<use href="#gA" transform="matrix(0.00373,0,0,-0.00532,56.173,213.500)" fill="#44b82a" stroke="#44b82a" stroke-width="0.3"/>
<use href="#gA" transform="matrix(0.00373,0,0,-0.00414,61.623,212.667)" fill="#44b82a" stroke="#44b82a" stroke-width="0.3"/>
<use href="#gG" transform="matrix(0.00371,0,0,-0.00057,61.502,213.489)" fill="#f0a62e"/>
<use href="#gG" transform="matrix(0.00371,0,0,-0.00230,66.952,210.954)" fill="#f0a62e" stroke="#f0a62e" stroke-width="0.3"/>
<use href="#gT" transform="matrix(0.00425,0,0,-0.00118,67.166,212.667)" fill="#bb1e1e"/>
<use href="#gA" transform="matrix(0.00373,0,0,-0.00059,67.073,213.500)" fill="#44b82a"/>
<use href="#gT" transform="matrix(0.00425,0,0,-0.00355,72.616,211.833)" fill="#bb1e1e" stroke="#bb1e1e" stroke-width="0.3"/>
<use href="#gC" transform="matrix(0.00383,0,0,-0.00115,72.392,213.477)" fill="#2a2ad6"/>
<use href="#gT" transform="matrix(0.00429,0,0,-0.00136,11.967,218.667)" fill="#bb1e1e"/>
<use href="#gC" transform="matrix(0.00387,0,0,-0.00132,11.740,220.551)" fill="#2a2ad6"/>
<use href="#gG" transform="matrix(0.00375,0,0,-0.00132,11.751,222.463)" fill="#f0a62e"/>
<use href="#gA" transform="matrix(0.00377,0,0,-0.00136,11.873,224.400)" fill="#44b82a"/>
<use href="#gC" transform="matrix(0.00387,0,0,-0.00132,17.249,218.640)" fill="#2a2ad6"/>
<use href="#gG" transform="matrix(0.00375,0,0,-0.00132,17.259,220.551)" fill="#f0a62e"/>
<use href="#gT" transform="matrix(0.00429,0,0,-0.00136,17.475,222.489)" fill="#bb1e1e"/>
<use href="#gA" transform="matrix(0.00377,0,0,-0.00136,17.381,224.400)" fill="#44b82a"/>
<use href="#gC" transform="matrix(0.00387,0,0,-0.00198,22.757,220.538)" fill="#2a2ad6" stroke="#2a2ad6" stroke-width="0.3"/>
<use href="#gT" transform="matrix(0.00429,0,0,-0.00136,22.983,222.489)" fill="#bb1e1e"/>
<use href="#gG" transform="matrix(0.00375,0,0,-0.00132,22.767,224.374)" fill="#f0a62e"/>
<use href="#gG" transform="matrix(0.00375,0,0,-0.00198,28.276,220.538)" fill="#f0a62e" stroke="#f0a62e" stroke-width="0.3"/>
<use href="#gA" transform="matrix(0.00377,0,0,-0.00203,28.398,223.444)" fill="#44b82a" stroke="#44b82a" stroke-width="0.3"/>
<use href="#gC" transform="matrix(0.00387,0,0,-0.00066,28.265,224.387)" fill="#2a2ad6"/>
<use href="#gA" transform="matrix(0.00377,0,0,-0.00610,33.906,224.400)" fill="#44b82a" stroke="#44b82a" stroke-width="0.3"/>
<use href="#gT" transform="matrix(0.00429,0,0,-0.00610,39.508,224.400)" fill="#bb1e1e" stroke="#bb1e1e" stroke-width="0.3"/>
<use href="#gT" transform="matrix(0.00429,0,0,-0.00610,45.017,224.400)" fill="#bb1e1e" stroke="#bb1e1e" stroke-width="0.3"/>
<use href="#gG" transform="matrix(0.00375,0,0,-0.00593,50.309,224.281)" fill="#f0a62e" stroke="#f0a62e" stroke-width="0.3"/>
<use href="#gG" transform="matrix(0.00375,0,0,-0.00593,55.817,224.281)" fill="#f0a62e" stroke="#f0a62e" stroke-width="0.3"/>
<use href="#gC" transform="matrix(0.00387,0,0,-0.00198,61.315,219.583)" fill="#2a2ad6" stroke="#2a2ad6" stroke-width="0.3"/>
<use href="#gT" transform="matrix(0.00429,0,0,-0.00203,61.542,222.489)" fill="#bb1e1e" stroke="#bb1e1e" stroke-width="0.3"/>
<use href="#gG" transform="matrix(0.00375,0,0,-0.00132,61.326,224.374)" fill="#f0a62e"/>
<use href="#gC" transform="matrix(0.00387,0,0,-0.00198,66.824,219.583)" fill="#2a2ad6" stroke="#2a2ad6" stroke-width="0.3"/>
<use href="#gT" transform="matrix(0.00429,0,0,-0.00203,67.050,222.489)" fill="#bb1e1e" stroke="#bb1e1e" stroke-width="0.3"/>
<use href="#gA" transform="matrix(0.00377,0,0,-0.00136,66.956,224.400)" fill="#44b82a"/>
<use href="#gG" transform="matrix(0.00375,0,0,-0.00198,72.342,219.583)" fill="#f0a62e" stroke="#f0a62e" stroke-width="0.3"/>
<use href="#gA" transform="matrix(0.00377,0,0,-0.00203,72.465,222.489)" fill="#44b82a" stroke="#44b82a" stroke-width="0.3"/>
<use href="#gC" transform="matrix(0.00387,0,0,-0.00132,72.332,224.374)" fill="#2a2ad6"/>
<text x="206.60" y="17.00" font-size="11" fill="#000" font-weight="bold">B</text>
<text x="369.00" y="17.00" font-size="11" fill="#000" font-weight="bold">C</text>
<text x="284.50" y="30.60" font-size="8.6" fill="#222" stroke="#222" stroke-width="0.1" text-anchor="middle" textLength="59.16" lengthAdjust="spacingAndGlyphs">Octamer motif</text>
<text x="438.30" y="30.60" font-size="8.6" fill="#222" stroke="#222" stroke-width="0.1" text-anchor="middle" textLength="65.86" lengthAdjust="spacingAndGlyphs">PU.1 (ETS) motif</text>
<use href="#gA" transform="matrix(0.00159,0,0,-0.00107,247.219,57.600)" fill="#3a9a3a"/>
<use href="#gA" transform="matrix(0.00159,0,0,-0.00096,249.599,57.600)" fill="#3a9a3a"/>
<use href="#gT" transform="matrix(0.00181,0,0,-0.00109,252.018,57.600)" fill="#dd1c1c"/>
<use href="#gG" transform="matrix(0.00158,0,0,-0.00105,254.307,57.579)" fill="#eea020"/>
<use href="#gT" transform="matrix(0.00181,0,0,-0.00090,256.778,57.600)" fill="#dd1c1c"/>
<use href="#gA" transform="matrix(0.00205,0,0,-0.00067,259.095,57.600)" fill="#3a9a3a"/>
<use href="#gT" transform="matrix(0.00234,0,0,-0.00073,262.168,57.600)" fill="#dd1c1c"/>
<use href="#gG" transform="matrix(0.00204,0,0,-0.00056,265.073,57.589)" fill="#eea020"/>
<use href="#gT" transform="matrix(0.00234,0,0,-0.00076,268.213,57.600)" fill="#dd1c1c"/>
<use href="#gC" transform="matrix(0.00211,0,0,-0.00082,271.112,57.584)" fill="#1f2fe0"/>
<use href="#gG" transform="matrix(0.00204,0,0,-0.00062,274.140,57.588)" fill="#eea020"/>
<use href="#gC" transform="matrix(0.00211,0,0,-0.00064,277.156,57.587)" fill="#1f2fe0"/>
<use href="#gA" transform="matrix(0.00205,0,0,-0.00086,280.251,57.600)" fill="#3a9a3a"/>
<use href="#gC" transform="matrix(0.00211,0,0,-0.00061,283.201,57.588)" fill="#1f2fe0"/>
<use href="#gG" transform="matrix(0.00204,0,0,-0.00084,286.228,57.583)" fill="#eea020"/>
<use href="#gC" transform="matrix(0.00211,0,0,-0.00082,289.245,57.584)" fill="#1f2fe0"/>
<use href="#gA" transform="matrix(0.00205,0,0,-0.00061,292.340,57.600)" fill="#3a9a3a"/>
<use href="#gC" transform="matrix(0.00211,0,0,-0.00076,295.290,57.585)" fill="#1f2fe0"/>
<use href="#gC" transform="matrix(0.00211,0,0,-0.00057,298.312,57.589)" fill="#1f2fe0"/>
<use href="#gC" transform="matrix(0.00211,0,0,-0.00078,301.334,57.584)" fill="#1f2fe0"/>
<use href="#gA" transform="matrix(0.00205,0,0,-0.00062,304.429,57.600)" fill="#3a9a3a"/>
<use href="#gT" transform="matrix(0.00234,0,0,-0.00066,307.502,57.600)" fill="#dd1c1c"/>
<use href="#gC" transform="matrix(0.00211,0,0,-0.00054,310.401,57.589)" fill="#1f2fe0"/>
<use href="#gT" transform="matrix(0.00514,0,0,-0.00696,258.982,56.400)" fill="#dd1c1c" stroke="#dd1c1c" stroke-width="0.15"/>
<use href="#gA" transform="matrix(0.00429,0,0,-0.01476,265.081,57.000)" fill="#3a9a3a" stroke="#3a9a3a" stroke-width="0.15"/>
<use href="#gT" transform="matrix(0.00522,0,0,-0.01086,271.080,56.400)" fill="#dd1c1c" stroke="#dd1c1c" stroke-width="0.15"/>
<use href="#gG" transform="matrix(0.00434,0,0,-0.00821,276.835,54.836)" fill="#eea020" stroke="#eea020" stroke-width="0.15"/>
<use href="#gC" transform="matrix(0.00418,0,0,-0.00366,283.149,54.927)" fill="#1f2fe0" stroke="#1f2fe0" stroke-width="0.15"/>
<use href="#gA" transform="matrix(0.00393,0,0,-0.00525,288.800,54.000)" fill="#3a9a3a" stroke="#3a9a3a" stroke-width="0.15"/>
<use href="#gT" transform="matrix(0.00207,0,0,-0.00170,290.452,56.400)" fill="#dd1c1c"/>
<use href="#gA" transform="matrix(0.00422,0,0,-0.00696,294.285,56.400)" fill="#3a9a3a" stroke="#3a9a3a" stroke-width="0.15"/>
<use href="#gA" transform="matrix(0.00451,0,0,-0.01412,300.170,56.800)" fill="#3a9a3a" stroke="#3a9a3a" stroke-width="0.15"/>
<use href="#gT" transform="matrix(0.00514,0,0,-0.00752,307.182,56.400)" fill="#dd1c1c" stroke="#dd1c1c" stroke-width="0.15"/>
<use href="#gC" transform="matrix(0.00209,0,0,-0.00099,313.424,57.580)" fill="#1f2fe0"/>
<use href="#gG" transform="matrix(0.00203,0,0,-0.00103,316.430,57.579)" fill="#eea020"/>
<use href="#gC" transform="matrix(0.00214,0,0,-0.00122,400.120,56.476)" fill="#1f2fe0"/>
<use href="#gT" transform="matrix(0.00238,0,0,-0.00110,403.312,56.500)" fill="#dd1c1c"/>
<use href="#gG" transform="matrix(0.00207,0,0,-0.00115,406.259,56.477)" fill="#eea020"/>
<use href="#gA" transform="matrix(0.00213,0,0,-0.00064,409.391,56.500)" fill="#3a9a3a"/>
<use href="#gT" transform="matrix(0.00243,0,0,-0.00055,412.569,56.500)" fill="#dd1c1c"/>
<use href="#gG" transform="matrix(0.00212,0,0,-0.00052,415.572,56.490)" fill="#eea020"/>
<use href="#gA" transform="matrix(0.00213,0,0,-0.00079,418.766,56.500)" fill="#3a9a3a"/>
<use href="#gA" transform="matrix(0.00213,0,0,-0.00065,421.891,56.500)" fill="#3a9a3a"/>
<use href="#gG" transform="matrix(0.00212,0,0,-0.00065,424.947,56.487)" fill="#eea020"/>
<use href="#gT" transform="matrix(0.00243,0,0,-0.00064,428.194,56.500)" fill="#dd1c1c"/>
<use href="#gA" transform="matrix(0.00213,0,0,-0.00082,431.266,56.500)" fill="#3a9a3a"/>
<use href="#gT" transform="matrix(0.00243,0,0,-0.00054,434.444,56.500)" fill="#dd1c1c"/>
<use href="#gA" transform="matrix(0.00213,0,0,-0.00077,437.516,56.500)" fill="#3a9a3a"/>
<use href="#gC" transform="matrix(0.00218,0,0,-0.00067,440.567,56.487)" fill="#1f2fe0"/>
<use href="#gT" transform="matrix(0.00243,0,0,-0.00082,443.819,56.500)" fill="#dd1c1c"/>
<use href="#gT" transform="matrix(0.00243,0,0,-0.00076,446.944,56.500)" fill="#dd1c1c"/>
<use href="#gC" transform="matrix(0.00218,0,0,-0.00053,449.942,56.489)" fill="#1f2fe0"/>
<use href="#gG" transform="matrix(0.00212,0,0,-0.00062,453.072,56.488)" fill="#eea020"/>
<use href="#gT" transform="matrix(0.00243,0,0,-0.00055,456.319,56.500)" fill="#dd1c1c"/>
<use href="#gG" transform="matrix(0.00212,0,0,-0.00061,459.322,56.488)" fill="#eea020"/>
<use href="#gG" transform="matrix(0.00212,0,0,-0.00066,462.447,56.487)" fill="#eea020"/>
<use href="#gA" transform="matrix(0.00213,0,0,-0.00071,465.641,56.500)" fill="#3a9a3a"/>
<use href="#gA" transform="matrix(0.00213,0,0,-0.00072,468.766,56.500)" fill="#3a9a3a"/>
<use href="#gA" transform="matrix(0.00328,0,0,-0.00319,409.333,55.300)" fill="#3a9a3a" stroke="#3a9a3a" stroke-width="0.15"/>
<use href="#gA" transform="matrix(0.00284,0,0,-0.00319,413.955,55.300)" fill="#3a9a3a" stroke="#3a9a3a" stroke-width="0.15"/>
<use href="#gA" transform="matrix(0.00328,0,0,-0.00319,417.933,55.300)" fill="#3a9a3a" stroke="#3a9a3a" stroke-width="0.15"/>
<use href="#gG" transform="matrix(0.00391,0,0,-0.00483,423.072,54.603)" fill="#eea020" stroke="#eea020" stroke-width="0.15"/>
<use href="#gA" transform="matrix(0.00371,0,0,-0.00539,428.711,55.300)" fill="#3a9a3a" stroke="#3a9a3a" stroke-width="0.15"/>
<use href="#gG" transform="matrix(0.00376,0,0,-0.01221,433.884,55.056)" fill="#eea020" stroke="#eea020" stroke-width="0.15"/>
<use href="#gG" transform="matrix(0.00333,0,0,-0.01476,439.120,55.005)" fill="#eea020" stroke="#eea020" stroke-width="0.15"/>
<use href="#gA" transform="matrix(0.00342,0,0,-0.01519,443.826,55.300)" fill="#3a9a3a" stroke="#3a9a3a" stroke-width="0.15"/>
<use href="#gA" transform="matrix(0.00342,0,0,-0.01455,448.526,55.300)" fill="#3a9a3a" stroke="#3a9a3a" stroke-width="0.15"/>
<use href="#gG" transform="matrix(0.00340,0,0,-0.00683,453.214,54.063)" fill="#eea020" stroke="#eea020" stroke-width="0.15"/>
<use href="#gC" transform="matrix(0.00351,0,0,-0.00124,453.205,55.975)" fill="#1f2fe0"/>
<use href="#gT" transform="matrix(0.00415,0,0,-0.00582,458.105,54.200)" fill="#dd1c1c" stroke="#dd1c1c" stroke-width="0.15"/>
<use href="#gA" transform="matrix(0.00247,0,0,-0.00114,458.874,55.800)" fill="#3a9a3a"/>
<use href="#gG" transform="matrix(0.00355,0,0,-0.00386,463.002,54.123)" fill="#eea020" stroke="#eea020" stroke-width="0.15"/>
<use href="#gC" transform="matrix(0.00366,0,0,-0.00124,462.993,55.975)" fill="#1f2fe0"/>
<line x1="232.30" y1="94.50" x2="232.30" y2="146.90" stroke="#1a1a1a" stroke-width="1.2"/>
<line x1="231.70" y1="146.30" x2="336.00" y2="146.30" stroke="#1a1a1a" stroke-width="1.2"/>
<line x1="229.10" y1="97.40" x2="232.30" y2="97.40" stroke="#1a1a1a" stroke-width="0.9"/>
<text x="225.60" y="99.60" font-size="6.9" fill="#222" stroke="#222" stroke-width="0.1" text-anchor="end" textLength="7.44" lengthAdjust="spacingAndGlyphs">25</text>
<line x1="229.10" y1="111.40" x2="232.30" y2="111.40" stroke="#1a1a1a" stroke-width="0.9"/>
<text x="225.60" y="113.60" font-size="6.9" fill="#222" stroke="#222" stroke-width="0.1" text-anchor="end" textLength="7.44" lengthAdjust="spacingAndGlyphs">20</text>
<line x1="229.10" y1="125.50" x2="232.30" y2="125.50" stroke="#1a1a1a" stroke-width="0.9"/>
<text x="225.60" y="127.70" font-size="6.9" fill="#222" stroke="#222" stroke-width="0.1" text-anchor="end" textLength="7.44" lengthAdjust="spacingAndGlyphs">15</text>
<line x1="229.10" y1="139.60" x2="232.30" y2="139.60" stroke="#1a1a1a" stroke-width="0.9"/>
<text x="225.60" y="141.80" font-size="6.9" fill="#222" stroke="#222" stroke-width="0.1" text-anchor="end" textLength="7.44" lengthAdjust="spacingAndGlyphs">10</text>
<line x1="233.10" y1="146.30" x2="233.10" y2="149.60" stroke="#1a1a1a" stroke-width="0.9"/>
<line x1="253.30" y1="146.30" x2="253.30" y2="149.60" stroke="#1a1a1a" stroke-width="0.9"/>
<line x1="273.50" y1="146.30" x2="273.50" y2="149.60" stroke="#1a1a1a" stroke-width="0.9"/>
<line x1="293.70" y1="146.30" x2="293.70" y2="149.60" stroke="#1a1a1a" stroke-width="0.9"/>
<line x1="313.90" y1="146.30" x2="313.90" y2="149.60" stroke="#1a1a1a" stroke-width="0.9"/>
<line x1="334.10" y1="146.30" x2="334.10" y2="149.60" stroke="#1a1a1a" stroke-width="0.9"/>
<text x="233.40" y="158.20" font-size="6.9" fill="#222" stroke="#222" stroke-width="0.1" text-anchor="middle" textLength="13.12" lengthAdjust="spacingAndGlyphs">-250</text>
<text x="282.60" y="158.20" font-size="6.9" fill="#222" stroke="#222" stroke-width="0.1" text-anchor="middle" textLength="3.65" lengthAdjust="spacingAndGlyphs">0</text>
<text x="328.90" y="158.20" font-size="6.9" fill="#222" stroke="#222" stroke-width="0.1" textLength="20.05" lengthAdjust="spacingAndGlyphs">250 bp</text>
<text x="213.00" y="118.95" font-size="8.6" fill="#222" stroke="#222" stroke-width="0.1" text-anchor="middle" textLength="57.96" lengthAdjust="spacingAndGlyphs" transform="rotate(-90 213.00 118.95)">Mean of frequency</text>
<text x="283.00" y="76.00" font-size="7.4" fill="#222" stroke="#222" stroke-width="0.1" text-anchor="middle" textLength="14.53" lengthAdjust="spacingAndGlyphs">Oct1</text>
<text x="283.00" y="84.20" font-size="7.3" fill="#222" stroke="#222" stroke-width="0.1" text-anchor="middle" textLength="38.48" lengthAdjust="spacingAndGlyphs">peak summit</text>
<line x1="283.50" y1="88.00" x2="283.50" y2="146.30" stroke="#222" stroke-width="0.8" stroke-dasharray="0.9,1.2"/>
<polyline points="238.50,140.50 238.68,139.90 238.92,139.01 239.22,138.11 239.58,137.83 240.00,137.25 240.64,137.41 241.41,137.83 242.21,138.37 243.00,139.14 243.71,139.53 244.39,140.16 245.12,140.50 246.00,140.80 246.59,140.54 247.25,140.25 247.94,140.06 248.66,140.17 249.39,139.60 250.11,139.67 250.80,139.47 251.58,138.98 252.35,139.27 253.11,138.69 253.87,139.06 254.64,138.89 255.40,138.33 256.17,138.41 256.93,138.15 257.70,137.50 258.47,137.54 259.23,136.93 260.00,137.15 260.77,136.76 261.53,136.66 262.30,135.84 263.07,135.76 263.83,135.77 264.60,135.66 265.37,135.38 266.13,135.84 266.90,135.90 267.67,135.71 268.43,135.82 269.20,136.40 269.86,136.56 270.51,137.13 271.17,137.50 271.82,137.93 272.48,138.17 273.14,138.66 273.80,139.18 274.60,139.63 275.42,139.69 276.25,140.07 277.06,140.06 277.81,140.29 278.50,140.09 279.21,139.64 279.82,139.10 280.37,138.53 280.92,137.99 281.50,138.02 282.09,137.60 282.66,137.07 283.25,136.27 283.88,136.28 284.60,135.78 285.28,136.23 286.02,136.19 286.81,136.43 287.61,136.57 288.42,136.67 289.20,137.11 289.97,137.33 290.73,137.05 291.49,137.32 292.26,137.65 293.03,137.77 293.80,137.75 294.56,137.88 295.31,138.28 296.06,137.95 296.83,138.01 297.63,138.43 298.50,138.37 299.12,138.91 299.79,138.79 300.49,139.41 301.20,139.35 301.91,139.92 302.63,140.09 303.32,140.29 303.98,140.14 304.60,140.20 305.45,140.10 306.24,140.03 306.99,140.08 307.72,139.46 308.45,139.35 309.20,139.44 309.97,139.22 310.73,139.44 311.49,139.54 312.26,139.96 313.03,139.75 313.80,140.30 314.58,139.98 315.37,139.89 316.16,139.60 316.94,139.35 317.73,139.44 318.50,139.24 319.27,139.06 320.04,138.46 320.81,138.68 321.56,138.81 322.29,138.58 323.00,138.51 323.84,138.66 324.67,138.51 325.46,139.02 326.18,139.29 326.80,139.14 327.61,140.09 328.21,140.97 328.60,141.50" fill="none" stroke="#d0d0d0" stroke-width="0.9" stroke-linejoin="round"/>
<polyline points="238.00,127.40 239.69,123.90 241.34,122.86 243.00,123.34 244.68,123.46 246.47,124.25 248.07,125.18 249.75,126.06 251.57,127.91 253.26,129.25 254.98,130.16 256.70,129.98 258.48,129.75 260.27,128.89 262.01,128.99 263.74,128.29 265.45,126.73 267.10,125.89 268.87,123.60 270.51,120.92 272.17,118.04 273.87,114.04 275.51,109.01 277.18,104.00 278.83,98.62 280.52,94.90 282.14,92.25 283.83,90.63 285.54,92.31 287.16,95.46 288.79,100.88 290.43,106.72 292.08,114.79 293.83,117.21 295.47,117.92 297.24,118.88 298.84,120.08 300.54,122.41 302.15,124.32 303.85,126.17 305.66,127.24 307.49,127.59 309.26,128.04 311.05,128.69 312.68,129.04 314.39,130.35 316.15,130.76 317.90,130.96 319.68,129.63 321.40,128.82 323.11,127.20 324.80,124.47 326.56,121.74 328.22,124.16 328.80,125.70" fill="none" stroke="#eda34a" stroke-width="1.0" stroke-linejoin="round"/>
<line x1="306.00" y1="97.50" x2="311.40" y2="97.50" stroke="#eda34a" stroke-width="1.1"/>
<line x1="306.00" y1="104.10" x2="311.40" y2="104.10" stroke="#d0d0d0" stroke-width="1.1"/>
<text x="314.60" y="99.60" font-size="6.0" fill="#333" stroke="#333" stroke-width="0.1" textLength="22.20" lengthAdjust="spacingAndGlyphs">Octamer</text>
<text x="314.60" y="106.20" font-size="6.0" fill="#333" stroke="#333" stroke-width="0.1" textLength="19.50" lengthAdjust="spacingAndGlyphs">Control</text>
<line x1="232.20" y1="189.80" x2="232.20" y2="246.00" stroke="#1a1a1a" stroke-width="1.2"/>
<line x1="231.60" y1="245.40" x2="335.80" y2="245.40" stroke="#1a1a1a" stroke-width="1.2"/>
<line x1="229.00" y1="191.80" x2="232.20" y2="191.80" stroke="#1a1a1a" stroke-width="0.9"/>
<text x="225.50" y="194.00" font-size="6.9" fill="#222" stroke="#222" stroke-width="0.1" text-anchor="end" textLength="7.44" lengthAdjust="spacingAndGlyphs">25</text>
<line x1="229.00" y1="205.40" x2="232.20" y2="205.40" stroke="#1a1a1a" stroke-width="0.9"/>
<text x="225.50" y="207.60" font-size="6.9" fill="#222" stroke="#222" stroke-width="0.1" text-anchor="end" textLength="7.44" lengthAdjust="spacingAndGlyphs">20</text>
<line x1="229.00" y1="218.90" x2="232.20" y2="218.90" stroke="#1a1a1a" stroke-width="0.9"/>
<text x="225.50" y="221.10" font-size="6.9" fill="#222" stroke="#222" stroke-width="0.1" text-anchor="end" textLength="7.44" lengthAdjust="spacingAndGlyphs">15</text>
<line x1="229.00" y1="232.40" x2="232.20" y2="232.40" stroke="#1a1a1a" stroke-width="0.9"/>
<text x="225.50" y="234.60" font-size="6.9" fill="#222" stroke="#222" stroke-width="0.1" text-anchor="end" textLength="7.44" lengthAdjust="spacingAndGlyphs">10</text>
<line x1="235.00" y1="245.40" x2="235.00" y2="248.70" stroke="#1a1a1a" stroke-width="0.9"/>
<line x1="254.80" y1="245.40" x2="254.80" y2="248.70" stroke="#1a1a1a" stroke-width="0.9"/>
<line x1="274.60" y1="245.40" x2="274.60" y2="248.70" stroke="#1a1a1a" stroke-width="0.9"/>
<line x1="294.40" y1="245.40" x2="294.40" y2="248.70" stroke="#1a1a1a" stroke-width="0.9"/>
<line x1="314.20" y1="245.40" x2="314.20" y2="248.70" stroke="#1a1a1a" stroke-width="0.9"/>
<line x1="334.00" y1="245.40" x2="334.00" y2="248.70" stroke="#1a1a1a" stroke-width="0.9"/>
<text x="235.30" y="257.30" font-size="6.9" fill="#222" stroke="#222" stroke-width="0.1" text-anchor="middle" textLength="13.12" lengthAdjust="spacingAndGlyphs">-250</text>
<text x="283.50" y="257.30" font-size="6.9" fill="#222" stroke="#222" stroke-width="0.1" text-anchor="middle" textLength="3.65" lengthAdjust="spacingAndGlyphs">0</text>
<text x="328.80" y="257.30" font-size="6.9" fill="#222" stroke="#222" stroke-width="0.1" textLength="20.05" lengthAdjust="spacingAndGlyphs">250 bp</text>
<text x="213.50" y="216.25" font-size="8.6" fill="#222" stroke="#222" stroke-width="0.1" text-anchor="middle" textLength="57.96" lengthAdjust="spacingAndGlyphs" transform="rotate(-90 213.50 216.25)">Mean of frequency</text>
<text x="284.00" y="175.30" font-size="7.4" fill="#222" stroke="#222" stroke-width="0.1" text-anchor="middle" textLength="17.97" lengthAdjust="spacingAndGlyphs">OBF1</text>
<text x="284.00" y="183.80" font-size="7.3" fill="#222" stroke="#222" stroke-width="0.1" text-anchor="middle" textLength="38.48" lengthAdjust="spacingAndGlyphs">peak summit</text>
<line x1="284.50" y1="186.50" x2="284.50" y2="245.40" stroke="#222" stroke-width="0.8" stroke-dasharray="0.9,1.2"/>
<polyline points="239.40,239.60 239.89,239.51 240.57,238.87 241.38,238.74 242.24,238.46 243.10,238.64 243.81,238.63 244.57,238.89 245.34,238.58 246.13,238.95 246.92,238.82 247.70,238.93 248.48,238.94 249.29,238.36 250.09,238.11 250.88,238.05 251.62,237.73 252.30,237.43 253.15,237.82 253.85,238.34 254.55,238.35 255.40,239.28 256.08,239.49 256.82,239.57 257.61,239.75 258.41,240.51 259.22,240.39 260.00,240.46 260.77,240.63 261.53,241.24 262.30,241.22 263.07,241.44 263.83,241.44 264.60,241.32 265.37,241.49 266.13,240.96 266.90,240.84 267.67,240.79 268.43,240.48 269.20,240.52 269.97,240.33 270.73,240.44 271.49,240.13 272.26,240.34 273.03,240.48 273.80,240.45 274.60,240.62 275.42,240.63 276.25,240.84 277.06,241.15 277.81,241.10 278.50,241.22 279.37,241.40 280.10,241.77 280.78,242.43 281.50,242.29 282.09,242.05 282.66,241.40 283.25,241.26 283.88,240.46 284.60,240.23 285.28,240.38 286.02,239.99 286.81,239.78 287.61,239.73 288.42,239.71 289.20,239.57 289.97,239.14 290.73,238.93 291.49,239.03 292.26,238.95 293.03,238.90 293.80,239.37 294.58,239.41 295.36,239.21 296.15,239.59 296.94,239.62 297.72,240.10 298.50,239.98 299.27,240.00 300.04,240.14 300.81,240.47 301.57,240.40 302.33,240.66 303.10,240.84 303.87,240.43 304.63,240.13 305.40,240.35 306.17,239.81 306.93,239.32 307.70,239.13 308.47,239.05 309.23,239.27 310.00,239.29 310.77,239.03 311.53,238.81 312.30,239.03 313.07,239.50 313.83,239.40 314.60,239.87 315.37,240.01 316.13,239.65 316.90,240.13 317.67,240.04 318.43,239.79 319.19,239.41 319.96,239.42 320.73,238.93 321.50,239.06 322.30,239.12 323.14,239.54 323.99,239.67 324.80,239.50 325.55,239.84 326.20,239.81 327.26,240.55 328.06,240.82 328.60,240.80" fill="none" stroke="#d0d0d0" stroke-width="0.9" stroke-linejoin="round"/>
<polyline points="239.60,229.60 241.28,231.03 243.13,231.04 245.00,230.96 246.76,230.50 248.41,230.44 250.05,230.93 251.83,231.17 253.53,232.44 255.38,233.39 257.06,234.11 258.81,234.97 260.60,235.78 262.29,235.43 263.94,235.16 265.77,233.60 267.47,232.72 269.18,230.00 270.88,228.44 272.56,224.92 274.19,222.11 275.80,217.69 277.42,212.12 279.04,204.11 280.65,195.47 282.44,191.09 284.11,190.41 285.73,194.37 287.37,201.40 289.00,208.72 290.63,215.77 292.26,222.20 293.88,225.11 295.73,226.02 297.50,227.78 299.18,229.55 300.95,230.50 302.80,232.25 304.48,232.63 306.15,233.61 307.83,234.96 309.55,235.20 311.34,235.53 313.19,235.62 314.94,235.20 316.83,234.63 318.72,233.70 320.48,233.70 322.25,232.99 324.01,231.88 325.61,230.56 327.61,229.51 329.20,231.30" fill="none" stroke="#eda34a" stroke-width="1.0" stroke-linejoin="round"/>
<line x1="306.20" y1="191.70" x2="311.60" y2="191.70" stroke="#eda34a" stroke-width="1.1"/>
<line x1="306.20" y1="198.10" x2="311.60" y2="198.10" stroke="#d0d0d0" stroke-width="1.1"/>
<text x="314.80" y="193.80" font-size="6.0" fill="#333" stroke="#333" stroke-width="0.1" textLength="22.20" lengthAdjust="spacingAndGlyphs">Octamer</text>
<text x="314.80" y="200.20" font-size="6.0" fill="#333" stroke="#333" stroke-width="0.1" textLength="19.50" lengthAdjust="spacingAndGlyphs">Control</text>
<line x1="232.00" y1="287.60" x2="232.00" y2="349.40" stroke="#1a1a1a" stroke-width="1.2"/>
<line x1="231.40" y1="348.80" x2="339.20" y2="348.80" stroke="#1a1a1a" stroke-width="1.2"/>
<line x1="228.80" y1="290.00" x2="232.00" y2="290.00" stroke="#1a1a1a" stroke-width="0.9"/>
<text x="225.30" y="292.20" font-size="6.9" fill="#222" stroke="#222" stroke-width="0.1" text-anchor="end" textLength="11.17" lengthAdjust="spacingAndGlyphs">150</text>
<line x1="228.80" y1="308.80" x2="232.00" y2="308.80" stroke="#1a1a1a" stroke-width="0.9"/>
<text x="225.30" y="311.00" font-size="6.9" fill="#222" stroke="#222" stroke-width="0.1" text-anchor="end" textLength="11.17" lengthAdjust="spacingAndGlyphs">100</text>
<line x1="228.80" y1="327.60" x2="232.00" y2="327.60" stroke="#1a1a1a" stroke-width="0.9"/>
<text x="225.30" y="329.80" font-size="6.9" fill="#222" stroke="#222" stroke-width="0.1" text-anchor="end" textLength="7.44" lengthAdjust="spacingAndGlyphs">50</text>
<line x1="228.80" y1="346.60" x2="232.00" y2="346.60" stroke="#1a1a1a" stroke-width="0.9"/>
<text x="225.30" y="348.80" font-size="6.9" fill="#222" stroke="#222" stroke-width="0.1" text-anchor="end" textLength="3.72" lengthAdjust="spacingAndGlyphs">0</text>
<line x1="236.30" y1="348.80" x2="236.30" y2="352.10" stroke="#1a1a1a" stroke-width="0.9"/>
<line x1="256.30" y1="348.80" x2="256.30" y2="352.10" stroke="#1a1a1a" stroke-width="0.9"/>
<line x1="276.30" y1="348.80" x2="276.30" y2="352.10" stroke="#1a1a1a" stroke-width="0.9"/>
<line x1="296.30" y1="348.80" x2="296.30" y2="352.10" stroke="#1a1a1a" stroke-width="0.9"/>
<line x1="316.30" y1="348.80" x2="316.30" y2="352.10" stroke="#1a1a1a" stroke-width="0.9"/>
<line x1="336.30" y1="348.80" x2="336.30" y2="352.10" stroke="#1a1a1a" stroke-width="0.9"/>
<text x="236.60" y="361.00" font-size="6.9" fill="#222" stroke="#222" stroke-width="0.1" text-anchor="middle" textLength="13.12" lengthAdjust="spacingAndGlyphs">-250</text>
<text x="285.30" y="361.00" font-size="6.9" fill="#222" stroke="#222" stroke-width="0.1" text-anchor="middle" textLength="3.65" lengthAdjust="spacingAndGlyphs">0</text>
<text x="331.10" y="361.00" font-size="6.9" fill="#222" stroke="#222" stroke-width="0.1" textLength="20.05" lengthAdjust="spacingAndGlyphs">250 bp</text>
<text x="212.80" y="317.10" font-size="8.6" fill="#222" stroke="#222" stroke-width="0.1" text-anchor="middle" textLength="59.66" lengthAdjust="spacingAndGlyphs" transform="rotate(-90 212.80 317.10)">Mean of frequency</text>
<text x="286.50" y="274.30" font-size="7.4" fill="#222" stroke="#222" stroke-width="0.1" text-anchor="middle" textLength="14.53" lengthAdjust="spacingAndGlyphs">Oct2</text>
<text x="286.50" y="282.80" font-size="7.3" fill="#222" stroke="#222" stroke-width="0.1" text-anchor="middle" textLength="38.48" lengthAdjust="spacingAndGlyphs">peak summit</text>
<line x1="286.50" y1="287.00" x2="286.50" y2="348.80" stroke="#222" stroke-width="0.8" stroke-dasharray="0.9,1.2"/>
<polyline points="241.00,345.30 332.00,345.00" fill="none" stroke="#d0d0d0" stroke-width="0.9" stroke-linejoin="round"/>
<polyline points="241.20,334.70 241.51,334.34 241.93,333.80 242.45,333.21 243.04,332.70 243.70,332.40 244.20,332.35 244.72,332.40 245.28,332.52 245.87,332.69 246.52,332.87 247.23,333.05 248.00,333.20 248.54,333.28 249.13,333.37 249.76,333.46 250.42,333.56 251.10,333.65 251.79,333.75 252.47,333.83 253.15,333.92 253.80,333.99 254.42,334.05 255.00,334.10 255.73,334.16 256.41,334.24 257.06,334.30 257.67,334.35 258.29,334.37 258.90,334.34 259.53,334.25 260.20,334.10 260.75,333.93 261.31,333.72 261.88,333.47 262.45,333.20 263.03,332.89 263.62,332.56 264.20,332.20 264.80,331.82 265.40,331.42 266.00,331.00 266.48,330.66 266.97,330.30 267.47,329.92 267.99,329.52 268.51,329.10 269.02,328.68 269.54,328.24 270.04,327.80 270.54,327.34 271.01,326.89 271.47,326.43 271.90,325.96 272.30,325.50 272.70,325.00 273.07,324.49 273.42,323.99 273.74,323.47 274.05,322.95 274.34,322.42 274.63,321.88 274.90,321.33 275.17,320.77 275.44,320.19 275.72,319.60 276.00,319.00 276.24,318.47 276.49,317.94 276.73,317.40 276.96,316.86 277.20,316.30 277.43,315.74 277.66,315.17 277.88,314.59 278.11,313.99 278.33,313.38 278.55,312.76 278.77,312.12 278.98,311.47 279.20,310.80 279.37,310.26 279.53,309.69 279.69,309.10 279.85,308.50 280.02,307.88 280.17,307.24 280.33,306.60 280.49,305.96 280.64,305.31 280.80,304.67 280.95,304.03 281.10,303.40 281.26,302.78 281.41,302.18 281.56,301.60 281.70,301.04 281.85,300.50 282.00,300.00 282.22,299.28 282.44,298.57 282.66,297.90 282.89,297.24 283.10,296.62 283.32,296.03 283.53,295.46 283.74,294.93 283.94,294.44 284.13,293.99 284.32,293.57 284.50,293.20 285.12,292.16 285.66,291.70 286.20,291.60 286.64,291.65 287.08,291.88 287.53,292.36 288.00,293.20 288.17,293.60 288.34,294.05 288.52,294.54 288.69,295.08 288.87,295.65 289.05,296.27 289.23,296.93 289.41,297.64 289.60,298.38 289.80,299.17 290.00,300.00 290.11,300.48 290.23,301.00 290.34,301.54 290.45,302.11 290.57,302.71 290.68,303.31 290.80,303.94 290.92,304.58 291.04,305.22 291.16,305.87 291.28,306.52 291.40,307.17 291.53,307.81 291.66,308.45 291.79,309.07 291.93,309.68 292.07,310.27 292.21,310.84 292.35,311.38 292.50,311.90 292.72,312.60 292.94,313.27 293.17,313.92 293.41,314.55 293.66,315.16 293.90,315.75 294.16,316.32 294.41,316.87 294.67,317.42 294.93,317.95 295.20,318.47 295.47,318.99 295.73,319.50 296.00,320.00 296.31,320.58 296.63,321.14 296.95,321.69 297.27,322.23 297.60,322.75 297.93,323.25 298.27,323.74 298.60,324.22 298.95,324.68 299.29,325.13 299.64,325.57 300.00,326.00 300.43,326.49 300.87,326.96 301.31,327.41 301.76,327.83 302.21,328.24 302.67,328.64 303.14,329.02 303.62,329.39 304.10,329.75 304.60,330.10 305.11,330.45 305.62,330.78 306.15,331.11 306.68,331.42 307.22,331.72 307.77,332.01 308.32,332.28 308.88,332.54 309.44,332.78 310.00,333.00 310.58,333.21 311.18,333.41 311.79,333.60 312.41,333.78 313.03,333.94 313.65,334.08 314.25,334.20 314.83,334.29 315.38,334.36 315.90,334.40 316.67,334.38 317.35,334.27 317.98,334.09 318.60,333.88 319.26,333.67 320.00,333.50 320.55,333.40 321.15,333.28 321.77,333.17 322.41,333.05 323.05,332.94 323.69,332.84 324.30,332.77 324.87,332.72 325.40,332.70 326.11,332.73 326.76,332.81 327.36,332.94 327.93,333.10 328.47,333.29 329.00,333.50 329.66,333.82 330.31,334.23 330.92,334.66 331.43,335.04 331.80,335.30" fill="none" stroke="#eda34a" stroke-width="1.0" stroke-linejoin="round"/>
<line x1="309.40" y1="289.80" x2="314.80" y2="289.80" stroke="#eda34a" stroke-width="1.1"/>
<line x1="309.40" y1="296.30" x2="314.80" y2="296.30" stroke="#d0d0d0" stroke-width="1.1"/>
<text x="318.00" y="291.90" font-size="6.0" fill="#333" stroke="#333" stroke-width="0.1" textLength="22.60" lengthAdjust="spacingAndGlyphs">Octamer</text>
<text x="318.00" y="298.40" font-size="6.0" fill="#333" stroke="#333" stroke-width="0.1" textLength="19.50" lengthAdjust="spacingAndGlyphs">Control</text>
<line x1="395.10" y1="86.90" x2="395.10" y2="146.40" stroke="#1a1a1a" stroke-width="1.2"/>
<line x1="394.50" y1="145.80" x2="500.10" y2="145.80" stroke="#1a1a1a" stroke-width="1.2"/>
<line x1="391.90" y1="89.50" x2="395.10" y2="89.50" stroke="#1a1a1a" stroke-width="0.9"/>
<text x="388.40" y="91.70" font-size="6.9" fill="#222" stroke="#222" stroke-width="0.1" text-anchor="end" textLength="7.44" lengthAdjust="spacingAndGlyphs">40</text>
<line x1="391.90" y1="110.20" x2="395.10" y2="110.20" stroke="#1a1a1a" stroke-width="0.9"/>
<text x="388.40" y="112.40" font-size="6.9" fill="#222" stroke="#222" stroke-width="0.1" text-anchor="end" textLength="7.44" lengthAdjust="spacingAndGlyphs">30</text>
<line x1="391.90" y1="130.80" x2="395.10" y2="130.80" stroke="#1a1a1a" stroke-width="0.9"/>
<text x="388.40" y="133.00" font-size="6.9" fill="#222" stroke="#222" stroke-width="0.1" text-anchor="end" textLength="7.44" lengthAdjust="spacingAndGlyphs">20</text>
<line x1="396.40" y1="145.80" x2="396.40" y2="149.10" stroke="#1a1a1a" stroke-width="0.9"/>
<line x1="416.70" y1="145.80" x2="416.70" y2="149.10" stroke="#1a1a1a" stroke-width="0.9"/>
<line x1="437.00" y1="145.80" x2="437.00" y2="149.10" stroke="#1a1a1a" stroke-width="0.9"/>
<line x1="457.30" y1="145.80" x2="457.30" y2="149.10" stroke="#1a1a1a" stroke-width="0.9"/>
<line x1="477.60" y1="145.80" x2="477.60" y2="149.10" stroke="#1a1a1a" stroke-width="0.9"/>
<line x1="497.90" y1="145.80" x2="497.90" y2="149.10" stroke="#1a1a1a" stroke-width="0.9"/>
<text x="396.70" y="158.20" font-size="6.9" fill="#222" stroke="#222" stroke-width="0.1" text-anchor="middle" textLength="13.12" lengthAdjust="spacingAndGlyphs">-250</text>
<text x="446.15" y="158.20" font-size="6.9" fill="#222" stroke="#222" stroke-width="0.1" text-anchor="middle" textLength="3.65" lengthAdjust="spacingAndGlyphs">0</text>
<text x="492.70" y="158.20" font-size="6.9" fill="#222" stroke="#222" stroke-width="0.1" textLength="20.05" lengthAdjust="spacingAndGlyphs">250 bp</text>
<text x="375.80" y="116.35" font-size="8.6" fill="#222" stroke="#222" stroke-width="0.1" text-anchor="middle" textLength="57.96" lengthAdjust="spacingAndGlyphs" transform="rotate(-90 375.80 116.35)">Mean of frequency</text>
<text x="446.20" y="76.20" font-size="7.4" fill="#222" stroke="#222" stroke-width="0.1" text-anchor="middle" textLength="14.53" lengthAdjust="spacingAndGlyphs">Oct1</text>
<text x="446.20" y="84.60" font-size="7.3" fill="#222" stroke="#222" stroke-width="0.1" text-anchor="middle" textLength="38.48" lengthAdjust="spacingAndGlyphs">peak summit</text>
<line x1="447.00" y1="88.50" x2="447.00" y2="145.80" stroke="#222" stroke-width="0.8" stroke-dasharray="0.9,1.2"/>
<polyline points="402.00,140.90 403.00,138.00 403.50,138.96 404.20,138.80 404.91,138.39 405.61,138.26 406.31,137.41 407.02,137.55 407.72,137.78 408.42,137.55 409.13,137.78 409.83,137.34 410.53,137.74 411.24,137.77 411.94,138.16 412.64,138.34 413.35,138.07 414.05,138.28 414.75,138.31 415.46,138.68 416.16,138.42 416.86,137.79 417.57,138.00 418.27,137.28 418.97,137.36 419.67,136.80 420.38,136.55 421.08,137.06 421.78,136.59 422.49,136.67 423.19,137.37 423.89,137.53 424.60,137.40 425.30,138.18 426.00,138.20 426.71,138.58 427.41,138.49 428.11,139.18 428.82,139.11 429.52,139.32 430.22,139.20 430.93,138.65 431.63,138.52 432.33,138.17 433.04,137.93 433.74,137.68 434.44,137.68 435.15,137.78 435.85,137.33 436.55,137.83 437.26,137.69 437.96,137.82 438.66,138.36 439.37,138.33 440.07,138.41 440.77,138.69 441.48,138.95 442.18,138.54 442.88,139.15 443.59,138.36 444.29,138.68 444.99,138.50 445.70,137.63 446.40,137.87 447.10,137.28 447.80,137.16 448.51,136.56 449.21,136.46 449.91,136.51 450.62,137.10 451.32,136.69 452.02,137.28 452.73,137.65 453.43,137.93 454.13,137.79 454.84,138.06 455.54,138.39 456.24,138.71 456.95,138.33 457.65,138.78 458.35,138.75 459.06,138.66 459.76,137.92 460.46,138.37 461.17,137.59 461.87,137.61 462.57,137.69 463.28,137.86 463.98,137.48 464.68,137.99 465.39,137.88 466.09,137.93 466.79,138.18 467.50,138.33 468.20,138.49 468.90,138.74 469.61,139.25 470.31,139.52 471.01,138.91 471.72,138.72 472.42,139.18 473.12,138.61 473.83,138.23 474.53,137.79 475.23,137.74 475.93,137.62 476.64,137.14 477.34,136.97 478.04,136.64 478.75,137.26 479.45,136.73 480.15,137.21 480.86,137.66 481.56,137.39 482.26,138.03 482.97,138.38 483.67,138.31 484.37,138.52 485.08,138.07 485.78,138.25 486.48,137.94 487.19,138.27 487.89,137.70 488.59,137.61 489.30,137.81 490.00,137.57 492.00,141.50" fill="none" stroke="#d0d0d0" stroke-width="0.9" stroke-linejoin="round"/>
<polyline points="401.50,128.50 403.24,123.76 405.01,122.40 406.73,121.76 408.56,122.33 410.30,121.30 411.91,117.60 413.70,116.11 415.62,115.82 417.28,115.89 419.07,114.73 420.85,114.46 422.62,112.58 424.27,109.74 426.00,106.92 427.73,105.40 429.38,103.51 431.06,101.34 432.70,100.59 434.53,99.91 436.30,100.14 438.09,98.76 439.87,96.39 441.57,94.61 443.44,93.58 445.28,92.38 447.14,91.00 448.76,91.52 450.36,94.49 451.96,96.39 453.57,99.17 455.34,101.10 457.08,102.31 458.92,103.32 460.57,104.26 462.24,104.82 463.97,105.23 465.72,106.81 467.45,107.99 469.06,109.64 470.70,110.83 472.40,112.06 474.23,113.56 475.88,113.95 477.51,115.48 479.30,115.94 480.91,115.86 482.73,115.70 484.45,115.66 486.33,114.76 487.96,114.21 489.70,113.82 491.36,118.80 492.00,121.20" fill="none" stroke="#6aa6e2" stroke-width="1.0" stroke-linejoin="round"/>
<line x1="470.40" y1="89.00" x2="475.80" y2="89.00" stroke="#6aa6e2" stroke-width="1.1"/>
<line x1="470.40" y1="95.90" x2="475.80" y2="95.90" stroke="#d0d0d0" stroke-width="1.1"/>
<text x="479.00" y="91.10" font-size="6.0" fill="#333" stroke="#333" stroke-width="0.1" textLength="26.90" lengthAdjust="spacingAndGlyphs">PU.1 (ETS)</text>
<text x="479.00" y="98.00" font-size="6.0" fill="#333" stroke="#333" stroke-width="0.1" textLength="18.70" lengthAdjust="spacingAndGlyphs">Control</text>
<line x1="395.10" y1="188.60" x2="395.10" y2="245.70" stroke="#1a1a1a" stroke-width="1.2"/>
<line x1="394.50" y1="245.10" x2="498.90" y2="245.10" stroke="#1a1a1a" stroke-width="1.2"/>
<line x1="391.90" y1="191.50" x2="395.10" y2="191.50" stroke="#1a1a1a" stroke-width="0.9"/>
<text x="388.40" y="193.70" font-size="6.9" fill="#222" stroke="#222" stroke-width="0.1" text-anchor="end" textLength="7.44" lengthAdjust="spacingAndGlyphs">24</text>
<line x1="391.90" y1="204.80" x2="395.10" y2="204.80" stroke="#1a1a1a" stroke-width="0.9"/>
<text x="388.40" y="207.00" font-size="6.9" fill="#222" stroke="#222" stroke-width="0.1" text-anchor="end" textLength="7.44" lengthAdjust="spacingAndGlyphs">20</text>
<line x1="391.90" y1="218.10" x2="395.10" y2="218.10" stroke="#1a1a1a" stroke-width="0.9"/>
<text x="388.40" y="220.30" font-size="6.9" fill="#222" stroke="#222" stroke-width="0.1" text-anchor="end" textLength="7.44" lengthAdjust="spacingAndGlyphs">16</text>
<line x1="391.90" y1="231.40" x2="395.10" y2="231.40" stroke="#1a1a1a" stroke-width="0.9"/>
<text x="388.40" y="233.60" font-size="6.9" fill="#222" stroke="#222" stroke-width="0.1" text-anchor="end" textLength="7.44" lengthAdjust="spacingAndGlyphs">12</text>
<line x1="391.90" y1="244.80" x2="395.10" y2="244.80" stroke="#1a1a1a" stroke-width="0.9"/>
<text x="388.40" y="247.00" font-size="6.9" fill="#222" stroke="#222" stroke-width="0.1" text-anchor="end" textLength="3.72" lengthAdjust="spacingAndGlyphs">8</text>
<line x1="396.60" y1="245.10" x2="396.60" y2="248.40" stroke="#1a1a1a" stroke-width="0.9"/>
<line x1="416.80" y1="245.10" x2="416.80" y2="248.40" stroke="#1a1a1a" stroke-width="0.9"/>
<line x1="437.00" y1="245.10" x2="437.00" y2="248.40" stroke="#1a1a1a" stroke-width="0.9"/>
<line x1="457.20" y1="245.10" x2="457.20" y2="248.40" stroke="#1a1a1a" stroke-width="0.9"/>
<line x1="477.40" y1="245.10" x2="477.40" y2="248.40" stroke="#1a1a1a" stroke-width="0.9"/>
<line x1="497.60" y1="245.10" x2="497.60" y2="248.40" stroke="#1a1a1a" stroke-width="0.9"/>
<text x="396.90" y="257.60" font-size="6.9" fill="#222" stroke="#222" stroke-width="0.1" text-anchor="middle" textLength="13.12" lengthAdjust="spacingAndGlyphs">-250</text>
<text x="446.10" y="257.60" font-size="6.9" fill="#222" stroke="#222" stroke-width="0.1" text-anchor="middle" textLength="3.65" lengthAdjust="spacingAndGlyphs">0</text>
<text x="492.40" y="257.60" font-size="6.9" fill="#222" stroke="#222" stroke-width="0.1" textLength="20.05" lengthAdjust="spacingAndGlyphs">250 bp</text>
<text x="376.30" y="217.15" font-size="8.6" fill="#222" stroke="#222" stroke-width="0.1" text-anchor="middle" textLength="57.96" lengthAdjust="spacingAndGlyphs" transform="rotate(-90 376.30 217.15)">Mean of frequency</text>
<text x="445.50" y="175.20" font-size="7.4" fill="#222" stroke="#222" stroke-width="0.1" text-anchor="middle" textLength="17.97" lengthAdjust="spacingAndGlyphs">OBF1</text>
<text x="445.50" y="183.80" font-size="7.3" fill="#222" stroke="#222" stroke-width="0.1" text-anchor="middle" textLength="38.48" lengthAdjust="spacingAndGlyphs">peak summit</text>
<line x1="446.50" y1="187.30" x2="446.50" y2="245.10" stroke="#222" stroke-width="0.8" stroke-dasharray="0.9,1.2"/>
<polyline points="402.00,241.30 403.00,238.00 403.50,237.61 404.20,237.20 404.91,236.84 405.61,237.21 406.31,237.08 407.02,237.38 407.72,237.27 408.42,237.76 409.13,237.64 409.83,238.23 410.53,238.37 411.24,238.28 411.94,238.41 412.64,238.47 413.35,237.99 414.05,238.03 414.75,237.93 415.46,237.24 416.16,237.30 416.86,236.91 417.57,236.78 418.27,236.25 418.97,236.01 419.67,236.54 420.38,236.69 421.08,236.68 421.78,236.75 422.49,237.19 423.19,237.89 423.89,238.03 424.60,238.84 425.30,238.85 426.00,238.77 426.71,239.17 427.41,238.94 428.11,239.22 428.82,239.01 429.52,238.49 430.22,238.30 430.93,238.07 431.63,237.91 432.33,237.85 433.04,237.08 433.74,237.29 434.44,237.53 435.15,237.47 435.85,237.88 436.55,237.77 437.26,238.58 437.96,238.56 438.66,238.45 439.37,238.93 440.07,238.70 440.77,238.54 441.48,238.55 442.18,238.05 442.88,237.76 443.59,237.85 444.29,237.36 444.99,236.52 445.70,236.76 446.40,236.01 447.10,236.11 447.80,236.51 448.51,236.41 449.21,236.38 449.91,236.71 450.62,237.05 451.32,237.22 452.02,238.17 452.73,237.81 453.43,238.31 454.13,238.69 454.84,238.51 455.54,238.89 456.24,238.26 456.95,238.60 457.65,238.31 458.35,237.92 459.06,237.86 459.76,237.37 460.46,237.53 461.17,237.48 461.87,237.35 462.57,237.47 463.28,237.86 463.98,237.93 464.68,238.01 465.39,238.78 466.09,238.72 466.79,239.09 467.50,239.42 468.20,239.02 468.90,238.84 469.61,238.73 470.31,238.78 471.01,238.28 471.72,237.82 472.42,237.56 473.12,237.52 473.83,236.73 474.53,236.60 475.23,236.78 475.93,236.55 476.64,236.37 477.34,236.66 478.04,236.89 478.75,236.92 479.45,237.38 480.15,237.60 480.86,238.18 481.56,238.02 482.26,238.34 482.97,238.56 483.67,238.44 484.37,237.89 485.08,237.84 485.78,237.40 486.48,237.21 487.19,237.07 487.89,237.13 488.59,237.15 489.30,236.72 490.00,236.64 491.00,241.00" fill="none" stroke="#d0d0d0" stroke-width="0.9" stroke-linejoin="round"/>
<polyline points="401.50,230.60 403.12,224.84 404.96,225.85 406.64,226.32 408.36,225.69 410.00,222.74 411.66,221.04 413.30,219.96 414.99,218.23 416.78,216.06 418.40,214.66 420.01,212.20 421.70,210.42 423.45,207.46 425.09,205.42 426.71,203.48 428.38,200.40 430.20,198.50 431.86,197.81 433.60,196.90 435.42,196.21 437.18,196.22 438.89,195.78 440.65,194.73 442.44,194.81 444.31,193.87 446.20,193.52 447.95,191.44 449.60,189.97 451.25,191.00 452.99,191.63 454.64,193.69 456.35,194.86 458.06,197.66 459.74,201.24 461.45,203.84 463.07,204.78 464.74,206.42 466.45,207.36 468.29,207.69 469.95,209.01 471.66,212.12 473.37,214.25 475.06,216.38 476.70,218.75 478.50,220.07 480.27,221.31 482.05,220.48 483.83,218.51 485.55,217.80 487.24,216.42 489.02,217.06 490.66,221.61 490.90,224.00" fill="none" stroke="#6aa6e2" stroke-width="1.0" stroke-linejoin="round"/>
<line x1="464.60" y1="191.20" x2="470.00" y2="191.20" stroke="#6aa6e2" stroke-width="1.1"/>
<line x1="464.60" y1="197.70" x2="470.00" y2="197.70" stroke="#d0d0d0" stroke-width="1.1"/>
<text x="473.20" y="193.30" font-size="6.0" fill="#333" stroke="#333" stroke-width="0.1" textLength="27.40" lengthAdjust="spacingAndGlyphs">PU.1 (ETS)</text>
<text x="473.20" y="199.80" font-size="6.0" fill="#333" stroke="#333" stroke-width="0.1" textLength="18.70" lengthAdjust="spacingAndGlyphs">Control</text>
<line x1="394.70" y1="296.30" x2="394.70" y2="349.20" stroke="#1a1a1a" stroke-width="1.2"/>
<line x1="394.10" y1="348.60" x2="499.60" y2="348.60" stroke="#1a1a1a" stroke-width="1.2"/>
<line x1="391.50" y1="299.50" x2="394.70" y2="299.50" stroke="#1a1a1a" stroke-width="0.9"/>
<text x="388.00" y="301.70" font-size="6.9" fill="#222" stroke="#222" stroke-width="0.1" text-anchor="end" textLength="7.44" lengthAdjust="spacingAndGlyphs">80</text>
<line x1="391.50" y1="311.20" x2="394.70" y2="311.20" stroke="#1a1a1a" stroke-width="0.9"/>
<text x="388.00" y="313.40" font-size="6.9" fill="#222" stroke="#222" stroke-width="0.1" text-anchor="end" textLength="7.44" lengthAdjust="spacingAndGlyphs">60</text>
<line x1="391.50" y1="323.00" x2="394.70" y2="323.00" stroke="#1a1a1a" stroke-width="0.9"/>
<text x="388.00" y="325.20" font-size="6.9" fill="#222" stroke="#222" stroke-width="0.1" text-anchor="end" textLength="7.44" lengthAdjust="spacingAndGlyphs">40</text>
<line x1="391.50" y1="334.80" x2="394.70" y2="334.80" stroke="#1a1a1a" stroke-width="0.9"/>
<text x="388.00" y="337.00" font-size="6.9" fill="#222" stroke="#222" stroke-width="0.1" text-anchor="end" textLength="7.44" lengthAdjust="spacingAndGlyphs">20</text>
<line x1="391.50" y1="346.50" x2="394.70" y2="346.50" stroke="#1a1a1a" stroke-width="0.9"/>
<text x="388.00" y="348.70" font-size="6.9" fill="#222" stroke="#222" stroke-width="0.1" text-anchor="end" textLength="3.72" lengthAdjust="spacingAndGlyphs">0</text>
<line x1="399.10" y1="348.60" x2="399.10" y2="351.90" stroke="#1a1a1a" stroke-width="0.9"/>
<line x1="418.85" y1="348.60" x2="418.85" y2="351.90" stroke="#1a1a1a" stroke-width="0.9"/>
<line x1="438.60" y1="348.60" x2="438.60" y2="351.90" stroke="#1a1a1a" stroke-width="0.9"/>
<line x1="458.35" y1="348.60" x2="458.35" y2="351.90" stroke="#1a1a1a" stroke-width="0.9"/>
<line x1="478.10" y1="348.60" x2="478.10" y2="351.90" stroke="#1a1a1a" stroke-width="0.9"/>
<line x1="497.85" y1="348.60" x2="497.85" y2="351.90" stroke="#1a1a1a" stroke-width="0.9"/>
<text x="399.40" y="361.00" font-size="6.9" fill="#222" stroke="#222" stroke-width="0.1" text-anchor="middle" textLength="13.12" lengthAdjust="spacingAndGlyphs">-250</text>
<text x="447.48" y="361.00" font-size="6.9" fill="#222" stroke="#222" stroke-width="0.1" text-anchor="middle" textLength="3.65" lengthAdjust="spacingAndGlyphs">0</text>
<text x="492.65" y="361.00" font-size="6.9" fill="#222" stroke="#222" stroke-width="0.1" textLength="20.05" lengthAdjust="spacingAndGlyphs">250 bp</text>
<text x="376.30" y="322.30" font-size="8.6" fill="#222" stroke="#222" stroke-width="0.1" text-anchor="middle" textLength="58.06" lengthAdjust="spacingAndGlyphs" transform="rotate(-90 376.30 322.30)">Mean of frequency</text>
<text x="447.50" y="278.70" font-size="7.4" fill="#222" stroke="#222" stroke-width="0.1" text-anchor="middle" textLength="14.53" lengthAdjust="spacingAndGlyphs">Oct2</text>
<text x="447.50" y="287.40" font-size="7.3" fill="#222" stroke="#222" stroke-width="0.1" text-anchor="middle" textLength="38.48" lengthAdjust="spacingAndGlyphs">peak summit</text>
<line x1="448.00" y1="290.20" x2="448.00" y2="348.60" stroke="#222" stroke-width="0.8" stroke-dasharray="0.9,1.2"/>
<polyline points="403.70,341.90 440.00,341.30 492.30,341.70" fill="none" stroke="#d0d0d0" stroke-width="0.9" stroke-linejoin="round"/>
<polyline points="403.70,311.60 405.38,306.96 407.29,304.99 408.90,306.23 410.67,307.32 412.34,308.76 414.17,308.25 416.00,309.30 417.65,310.09 419.30,311.20 421.01,311.46 422.74,310.45 424.52,309.71 426.27,308.80 428.00,306.74 429.73,304.82 431.45,303.01 433.09,301.73 434.83,300.01 436.50,298.59 438.30,296.80 439.93,296.28 441.75,294.96 443.38,294.25 445.16,294.65 446.90,295.22 448.74,295.26 450.60,295.81 452.21,295.79 454.02,296.19 455.86,297.01 457.66,297.73 459.49,298.44 461.20,299.19 462.81,300.83 464.51,302.18 466.30,303.96 468.10,303.25 470.00,302.71 471.64,302.43 473.49,302.71 475.19,302.47 476.97,302.84 478.73,303.17 480.56,304.15 482.34,305.20 484.04,305.04 485.74,305.01 487.63,304.62 489.25,305.03 490.87,307.33 492.30,311.60" fill="none" stroke="#6aa6e2" stroke-width="1.0" stroke-linejoin="round"/>
<line x1="465.50" y1="292.00" x2="470.90" y2="292.00" stroke="#6aa6e2" stroke-width="1.1"/>
<line x1="465.50" y1="298.40" x2="470.90" y2="298.40" stroke="#d0d0d0" stroke-width="1.1"/>
<text x="474.10" y="294.10" font-size="6.0" fill="#333" stroke="#333" stroke-width="0.1" textLength="27.10" lengthAdjust="spacingAndGlyphs">PU.1 (ETS)</text>
<text x="474.10" y="300.50" font-size="6.0" fill="#333" stroke="#333" stroke-width="0.1" textLength="18.70" lengthAdjust="spacingAndGlyphs">Control</text>
<text x="7.60" y="251.20" font-size="11" fill="#000" font-weight="bold">D</text>
<text x="19.20" y="265.20" font-size="8.6" fill="#222" stroke="#222" stroke-width="0.1" textLength="138.76" lengthAdjust="spacingAndGlyphs">Occurrences of PU.1 binding motif</text>
<text x="55.5" y="275.4" font-size="8.6" fill="#222" stroke="#222" stroke-width="0.1" textLength="65.2" lengthAdjust="spacingAndGlyphs"><tspan font-style="italic">Spi1</tspan> to Octamer</text>
<polygon points="53.10,356.00 53.10,351.43 53.21,352.86 53.33,352.41 53.46,351.60 53.61,350.42 53.76,351.90 53.93,351.57 54.11,350.21 54.30,349.76 54.50,348.45 54.70,347.23 54.91,347.93 55.13,348.12 55.35,345.96 55.58,347.75 55.81,345.42 56.04,344.89 56.28,343.73 56.52,346.24 56.76,344.86 57.00,344.75 57.23,343.37 57.47,340.96 57.70,341.36 57.93,341.36 58.16,339.60 58.38,341.76 58.59,339.38 58.80,338.20 59.00,339.83 59.19,337.15 59.37,339.26 59.55,337.31 59.71,337.22 59.86,336.16 60.00,336.25 60.26,334.60 60.50,333.46 60.71,335.49 60.90,332.89 61.07,334.08 61.23,331.73 61.37,333.67 61.50,332.95 61.61,332.05 61.72,331.64 61.82,330.63 61.92,330.69 62.01,328.34 62.11,329.06 62.20,329.78 62.30,327.36 62.40,329.25 62.54,328.55 62.66,326.44 62.76,325.74 62.84,325.48 62.92,324.74 63.00,326.18 63.08,323.75 63.16,322.12 63.24,321.87 63.34,323.43 63.46,323.89 63.60,321.89 63.84,321.28 64.10,320.88 64.39,320.96 64.69,318.76 65.00,319.54 65.33,318.99 65.66,318.90 66.00,317.28 66.48,317.24 67.00,318.08 67.54,320.34 68.07,318.88 68.56,319.90 69.00,318.88 69.23,317.99 69.43,317.53 69.61,319.50 69.78,318.90 69.94,317.07 70.10,317.49 70.26,316.89 70.43,317.03 70.61,316.67 70.80,314.40 71.01,315.78 71.23,315.19 71.45,313.49 71.68,313.92 71.91,312.16 72.15,311.29 72.39,310.40 72.63,311.95 72.86,309.23 73.10,308.52 73.44,310.35 73.80,309.79 74.15,308.43 74.51,309.16 74.86,306.26 75.19,306.53 75.50,306.23 75.84,306.18 76.15,304.94 76.45,304.18 76.74,304.59 77.02,305.87 77.30,305.55 77.47,304.39 77.64,303.11 77.80,301.94 77.96,303.74 78.13,301.88 78.28,302.03 78.44,299.28 78.60,299.35 78.75,300.82 78.90,300.14 79.02,299.94 79.14,298.50 79.26,297.35 79.38,297.24 79.49,297.48 79.61,295.14 79.72,295.28 79.83,293.91 79.95,295.00 80.06,292.16 80.18,294.00 80.30,294.65 80.59,291.60 80.89,293.80 81.20,294.61 81.50,296.03 81.80,295.87 82.01,295.30 82.22,296.31 82.43,298.65 82.64,299.06 82.85,297.14 83.07,297.50 83.30,297.90 83.74,298.09 84.22,299.63 84.69,298.84 85.10,301.58 85.30,301.09 85.46,299.41 85.61,300.72 85.75,300.20 85.91,301.25 86.09,301.39 86.30,302.93 86.33,303.29 86.36,304.24 86.40,305.66 86.43,305.54 86.47,304.34 86.50,306.90 86.54,307.88 86.58,308.05 86.61,308.60 86.65,306.62 86.69,308.62 86.73,307.90 86.77,310.71 86.81,309.41 86.85,311.73 86.89,310.87 86.93,312.91 86.97,312.32 87.01,312.08 87.06,313.84 87.10,314.23 87.14,316.78 87.18,315.49 87.23,316.81 87.27,317.61 87.31,319.54 87.36,317.47 87.40,319.72 87.44,320.06 87.49,321.42 87.53,322.78 87.57,321.29 87.62,323.14 87.66,323.17 87.70,323.86 87.75,322.83 87.79,325.77 87.83,326.82 87.87,325.33 87.92,325.70 87.96,328.32 88.00,325.93 88.04,326.24 88.08,326.62 88.13,329.35 88.17,329.51 88.21,328.82 88.25,329.64 88.29,327.96 88.32,330.16 88.36,329.68 88.40,330.06 88.47,329.81 88.54,329.91 88.61,329.31 88.67,328.63 88.74,329.66 88.81,328.78 88.87,329.90 88.94,329.85 89.00,329.08 89.06,327.70 89.13,326.42 89.19,326.29 89.26,325.96 89.32,325.75 89.38,326.10 89.44,322.57 89.51,323.10 89.57,322.40 89.63,322.38 89.69,322.19 89.76,321.11 89.82,319.91 89.88,319.64 89.95,318.69 90.01,318.68 90.07,317.57 90.14,316.98 90.20,315.08 90.27,316.69 90.35,314.44 90.42,314.61 90.49,314.73 90.56,314.61 90.64,314.13 90.71,310.43 90.78,310.86 90.85,310.30 90.92,310.01 90.99,308.68 91.06,309.45 91.13,307.41 91.21,307.61 91.28,309.16 91.36,308.02 91.43,306.65 91.51,305.05 91.59,307.31 91.67,306.08 91.75,304.07 91.83,304.09 91.91,304.70 92.00,304.48 92.24,302.28 92.50,303.73 92.78,301.04 93.06,300.25 93.34,301.67 93.62,299.08 93.90,300.50 94.16,298.79 94.40,300.01 94.63,299.07 94.84,299.62 95.04,301.78 95.24,300.72 95.43,301.16 95.62,302.34 95.81,301.90 96.00,302.21 96.20,303.53 96.33,303.60 96.45,303.81 96.57,306.78 96.70,304.35 96.82,307.39 96.94,308.36 97.06,308.19 97.19,306.57 97.31,308.68 97.44,307.74 97.57,310.09 97.71,310.88 97.85,309.86 98.00,309.52 98.27,311.88 98.56,311.01 98.86,312.21 99.17,313.13 99.48,314.95 99.79,313.64 100.10,313.22 100.40,315.63 100.86,316.13 101.29,315.45 101.73,314.09 102.20,314.70 102.70,315.59 103.17,316.24 103.67,315.33 104.19,317.32 104.72,317.62 105.23,318.12 105.70,318.33 106.03,315.90 106.36,318.12 106.67,316.98 106.97,320.10 107.27,320.12 107.56,320.66 107.83,319.29 108.10,319.29 108.43,322.17 108.72,321.89 109.00,322.29 109.28,322.17 109.57,323.61 109.90,322.58 110.17,322.75 110.46,323.43 110.76,323.68 111.06,325.18 111.37,326.48 111.69,324.32 112.00,324.77 112.30,326.64 112.60,327.61 112.90,326.50 113.20,327.21 113.50,326.98 113.80,327.36 114.10,329.28 114.40,330.33 114.70,330.69 115.00,329.55 115.30,329.81 115.60,332.88 115.90,332.05 116.20,332.07 116.50,333.43 116.80,334.02 117.10,333.88 117.34,332.88 117.58,335.71 117.82,334.20 118.06,334.11 118.30,335.58 118.54,336.64 118.78,337.44 119.02,336.50 119.26,338.74 119.50,338.58 119.70,337.98 119.91,340.65 120.11,341.00 120.32,341.81 120.53,341.59 120.74,340.62 120.94,342.93 121.14,343.84 121.34,343.18 121.53,344.89 121.72,345.60 121.90,344.25 122.07,346.53 122.25,347.05 122.42,347.14 122.59,345.19 122.75,346.83 122.91,348.22 123.07,348.73 123.21,349.72 123.35,349.86 123.48,348.75 123.59,351.62 123.70,350.72 124.01,352.83 124.19,351.22 124.30,354.09 124.50,356.00" fill="#c5c4c8"/>
<rect x="86.10" y="280.60" width="4.60" height="75.40" fill="#aeadba" fill-opacity="0.55"/>
<polyline points="53.10,350.00 53.14,349.13 53.18,348.91 53.23,348.85 53.29,348.75 53.35,347.61 53.41,347.05 53.48,346.64 53.55,346.69 53.63,345.37 53.71,345.48 53.79,344.78 53.87,343.54 53.95,343.42 54.03,342.74 54.11,342.14 54.19,342.31 54.27,340.73 54.35,340.19 54.43,340.88 54.50,339.88 54.74,338.71 54.99,338.20 55.24,337.78 55.50,338.14 55.75,336.96 56.00,336.66 56.52,336.66 57.04,336.39 57.50,336.54 57.77,335.98 58.00,334.89 58.23,334.17 58.50,334.40 58.77,334.27 59.06,332.88 59.38,333.44 59.69,333.16 60.00,332.18 60.11,331.31 60.21,331.59 60.32,331.05 60.43,329.91 60.54,329.92 60.64,328.86 60.75,328.07 60.86,327.86 60.96,327.28 61.07,326.80 61.18,326.57 61.29,326.29 61.39,325.97 61.50,325.57 61.68,324.94 61.86,324.10 62.04,322.98 62.22,322.33 62.40,322.41 62.59,321.88 62.79,321.62 63.00,320.51 63.30,320.13 63.63,320.56 63.97,319.78 64.31,319.51 64.66,318.41 65.00,318.38 65.33,318.57 65.67,317.83 66.00,317.81 66.33,316.43 66.67,316.33 67.00,316.36 67.40,315.53 67.80,315.61 68.20,314.99 68.60,314.06 69.00,313.52 69.25,314.18 69.50,312.68 69.75,312.28 70.00,311.93 70.25,311.84 70.50,311.47 70.75,310.48 71.00,310.00 71.25,309.85 71.50,308.73 71.75,308.35 72.00,308.14 72.25,307.66 72.50,306.45 72.75,306.03 73.00,305.57 73.25,305.76 73.50,305.20 73.75,305.00 74.00,304.23 74.25,303.10 74.50,303.21 74.75,303.01 75.00,301.82 75.33,300.91 75.67,300.91 76.00,300.40 76.33,299.89 76.67,299.35 77.00,299.05 77.33,299.50 77.67,298.05 78.00,298.26 78.33,297.33 78.67,296.93 79.00,297.38 79.51,296.45 80.03,296.12 80.54,296.38 81.00,296.73 81.41,296.71 81.78,297.40 82.14,297.28 82.50,298.03 82.69,298.63 82.88,298.75 83.06,299.53 83.25,299.74 83.44,299.88 83.62,300.42 83.81,301.77 84.00,302.29 84.15,302.99 84.31,303.16 84.47,303.52 84.62,303.53 84.78,304.86 84.94,304.49 85.09,305.38 85.23,305.55 85.37,306.35 85.50,306.77 85.62,307.41 85.72,308.24 85.81,308.52 85.89,308.64 85.97,309.77 86.05,310.21 86.14,310.82 86.24,310.38 86.36,311.60 86.50,312.47 86.63,312.23 86.78,312.79 86.93,314.23 87.09,314.43 87.26,315.22 87.44,316.44 87.62,316.59 87.80,316.93 87.98,317.40 88.16,317.84 88.33,318.36 88.50,317.84 88.58,318.16 88.67,317.09 88.75,317.01 88.84,317.11 88.93,316.53 89.01,316.10 89.10,316.13 89.19,314.81 89.27,314.13 89.36,313.36 89.45,313.29 89.53,312.44 89.62,312.02 89.70,310.82 89.79,310.18 89.87,310.00 89.95,309.84 90.04,308.69 90.12,308.85 90.20,307.90 90.27,307.17 90.35,307.14 90.43,306.06 90.50,306.13 90.67,305.62 90.82,304.55 90.97,303.67 91.11,302.87 91.25,302.96 91.39,302.07 91.53,301.91 91.68,301.75 91.83,301.88 92.00,301.21 92.37,300.35 92.76,300.17 93.18,299.07 93.59,298.90 94.00,299.21 94.29,299.23 94.57,299.14 94.86,299.80 95.14,300.81 95.43,300.65 95.71,301.75 96.00,301.46 96.25,302.96 96.50,303.07 96.75,303.09 97.00,304.33 97.25,304.56 97.50,304.12 97.75,304.78 98.00,305.49 98.29,306.55 98.57,305.96 98.86,306.28 99.14,307.02 99.43,307.11 99.71,307.97 100.00,308.55 100.29,308.87 100.57,308.96 100.86,309.27 101.14,310.65 101.43,310.64 101.71,311.10 102.00,311.47 102.40,312.18 102.80,312.83 103.20,313.10 103.60,313.36 104.00,313.31 104.33,313.50 104.67,313.82 105.00,315.18 105.33,314.65 105.67,315.69 106.00,316.49 106.40,316.23 106.80,316.73 107.20,317.16 107.60,318.17 108.00,318.22 108.40,318.72 108.80,318.03 109.20,319.13 109.60,319.09 110.00,319.38 110.33,320.22 110.67,320.49 111.00,321.09 111.33,321.30 111.67,321.98 112.00,321.91 112.25,322.50 112.50,323.24 112.75,323.33 113.00,323.47 113.25,324.54 113.50,325.41 113.75,325.93 114.00,325.55 114.25,326.36 114.50,326.67 114.75,327.31 115.00,328.55 115.25,328.41 115.50,328.78 115.75,329.23 116.00,329.93 116.25,330.70 116.50,330.80 116.75,331.10 117.00,331.64 117.25,332.18 117.50,333.45 117.75,333.08 118.00,334.30 118.22,334.02 118.45,335.35 118.69,335.26 118.92,336.41 119.15,336.53 119.37,336.62 119.59,337.14 119.80,338.44 120.00,338.55 120.34,339.11 120.66,339.47 120.96,340.33 121.24,340.51 121.50,340.47 121.73,341.59 121.94,341.68 122.12,342.77 122.31,342.93 122.50,343.83 122.61,343.46 122.72,344.62 122.83,345.00 122.94,345.81 123.06,346.39 123.17,346.52 123.28,347.11 123.39,347.83 123.50,347.72 123.63,348.61 123.77,349.47 123.92,349.83 124.06,350.33 124.20,351.24 124.32,351.86 124.42,351.41 124.50,352.00" fill="none" stroke="#dcdbe0" stroke-width="0.9" stroke-linejoin="round"/>
<polyline points="53.10,352.50 54.15,350.22 55.20,347.10 56.40,343.86 57.60,341.10 58.80,336.54 60.00,332.70 61.20,328.95 62.40,324.30 63.30,320.76 64.20,318.30 65.10,316.17 66.00,314.10 67.20,312.90 68.40,315.30 69.60,319.50 70.50,315.38 71.40,311.10 72.25,307.11 73.10,302.80 74.30,301.00 75.80,299.80 77.30,296.80 78.50,289.60 80.10,284.80 81.50,288.40 82.40,289.40 83.30,291.40 84.20,292.48 85.10,293.20 86.30,296.80 87.50,318.30 88.40,327.80 89.60,309.90 90.80,295.60 92.00,294.40 93.05,290.80 94.10,287.20 95.60,289.60 96.50,293.64 97.40,296.70 98.60,303.90 99.80,305.70 101.00,308.70 102.10,307.50 103.30,311.10 104.20,311.04 105.10,312.30 106.00,314.74 106.90,315.90 107.80,313.94 108.70,312.90 109.60,313.04 110.50,312.30 111.70,314.70 112.90,320.70 113.80,326.06 114.70,331.40 115.60,330.67 116.50,329.00 117.70,330.20 118.90,336.20 119.80,338.16 120.70,341.00 121.90,344.60 123.10,347.00 124.30,349.40 124.80,352.50" fill="none" stroke="#3a4562" stroke-width="0.85" stroke-linejoin="round"/>
<line x1="88.70" y1="280.60" x2="88.70" y2="356.00" stroke="#3a4562" stroke-width="0.9"/>
<rect x="48.20" y="280.60" width="80.70" height="75.40" fill="none" stroke="#111" stroke-width="1.3"/>
<line x1="45.20" y1="288.50" x2="48.20" y2="288.50" stroke="#111" stroke-width="0.9"/>
<text x="43.00" y="290.90" font-size="6.6" fill="#222" stroke="#222" stroke-width="0.1" text-anchor="end" textLength="6.97" lengthAdjust="spacingAndGlyphs">35</text>
<line x1="45.20" y1="307.57" x2="48.20" y2="307.57" stroke="#111" stroke-width="0.9"/>
<text x="43.00" y="309.97" font-size="6.6" fill="#222" stroke="#222" stroke-width="0.1" text-anchor="end" textLength="6.97" lengthAdjust="spacingAndGlyphs">30</text>
<line x1="45.20" y1="326.63" x2="48.20" y2="326.63" stroke="#111" stroke-width="0.9"/>
<text x="43.00" y="329.03" font-size="6.6" fill="#222" stroke="#222" stroke-width="0.1" text-anchor="end" textLength="6.97" lengthAdjust="spacingAndGlyphs">25</text>
<line x1="45.20" y1="345.70" x2="48.20" y2="345.70" stroke="#111" stroke-width="0.9"/>
<text x="43.00" y="348.10" font-size="6.6" fill="#222" stroke="#222" stroke-width="0.1" text-anchor="end" textLength="6.97" lengthAdjust="spacingAndGlyphs">20</text>
<line x1="51.40" y1="356.00" x2="51.40" y2="359.30" stroke="#111" stroke-width="0.9"/>
<line x1="88.15" y1="356.00" x2="88.15" y2="359.30" stroke="#111" stroke-width="0.9"/>
<line x1="124.90" y1="356.00" x2="124.90" y2="359.30" stroke="#111" stroke-width="0.9"/>
<text x="51.20" y="368.00" font-size="6.8" fill="#222" stroke="#222" stroke-width="0.1" text-anchor="middle" textLength="13.68" lengthAdjust="spacingAndGlyphs">-250</text>
<text x="125.70" y="368.00" font-size="6.8" fill="#222" stroke="#222" stroke-width="0.1" text-anchor="middle" textLength="11.08" lengthAdjust="spacingAndGlyphs">250</text>
<text x="28.40" y="318.10" font-size="8.4" fill="#222" stroke="#222" stroke-width="0.1" text-anchor="middle" textLength="57.44" lengthAdjust="spacingAndGlyphs" transform="rotate(-90 28.40 318.10)">Mean of frequency</text>
<text x="62.3" y="378.0" font-size="6.8" fill="#222" stroke="#222" stroke-width="0.1" textLength="53.0" lengthAdjust="spacingAndGlyphs"><tspan font-style="italic">P</tspan>-value: 0.001996</text>
<line x1="50.00" y1="285.60" x2="53.70" y2="285.60" stroke="#3b4664" stroke-width="0.9"/>
<text x="57.40" y="287.10" font-size="4.6" fill="#333" stroke="#333" stroke-width="0.1" textLength="20.56" lengthAdjust="spacingAndGlyphs">Observed</text>
<line x1="50.00" y1="292.00" x2="53.70" y2="292.00" stroke="#d0d0d0" stroke-width="0.9"/>
<text x="57.40" y="293.50" font-size="4.6" fill="#333" stroke="#333" stroke-width="0.1" textLength="16.96" lengthAdjust="spacingAndGlyphs">Random</text>
<text x="7.60" y="405.80" font-size="11" fill="#000" font-weight="bold">E</text>
<circle cx="46.2" cy="448.3" r="27.4" fill="#4a6488" stroke="#3f5679" stroke-width="0.6"/>
<circle cx="69.9" cy="448.3" r="27.4" fill="#6aa8dc" stroke="#5d9bd4" stroke-width="0.6"/>
<clipPath id="vc1"><circle cx="46.2" cy="448.3" r="27.4"/></clipPath>
<circle cx="69.9" cy="448.3" r="27.4" fill="#1e3f73" stroke="#1e3f73" stroke-width="0.6" clip-path="url(#vc1)"/>
<text x="31.60" y="450.40" font-size="6.9" fill="#fff" stroke="#fff" stroke-width="0.1" text-anchor="middle" textLength="14.59" lengthAdjust="spacingAndGlyphs">7791</text>
<text x="56.90" y="450.40" font-size="6.9" fill="#fff" stroke="#fff" stroke-width="0.1" text-anchor="middle" textLength="15.09" lengthAdjust="spacingAndGlyphs">5691</text>
<text x="85.80" y="450.40" font-size="6.9" fill="#fff" stroke="#fff" stroke-width="0.1" text-anchor="middle" textLength="18.39" lengthAdjust="spacingAndGlyphs">19386</text>
<text x="46.30" y="418.00" font-size="7.0" fill="#4a6488" stroke="#4a6488" stroke-width="0.1" text-anchor="middle" textLength="15.20" lengthAdjust="spacingAndGlyphs">Oct1</text>
<text x="69.80" y="418.00" font-size="7.0" fill="#6aa8dc" stroke="#6aa8dc" stroke-width="0.1" text-anchor="middle" textLength="14.10" lengthAdjust="spacingAndGlyphs">PU.1</text>
<circle cx="46.2" cy="520.0" r="27.4" fill="#8e2c82" stroke="#7e2474" stroke-width="0.6"/>
<circle cx="69.9" cy="520.0" r="27.4" fill="#6aa8dc" stroke="#5d9bd4" stroke-width="0.6"/>
<clipPath id="vc2"><circle cx="46.2" cy="520.0" r="27.4"/></clipPath>
<circle cx="69.9" cy="520.0" r="27.4" fill="#3b1e6e" stroke="#3b1e6e" stroke-width="0.6" clip-path="url(#vc2)"/>
<text x="31.60" y="522.10" font-size="6.9" fill="#fff" stroke="#fff" stroke-width="0.1" text-anchor="middle" textLength="15.09" lengthAdjust="spacingAndGlyphs">3985</text>
<text x="56.90" y="522.10" font-size="6.9" fill="#fff" stroke="#fff" stroke-width="0.1" text-anchor="middle" textLength="15.49" lengthAdjust="spacingAndGlyphs">3837</text>
<text x="85.80" y="522.10" font-size="6.9" fill="#fff" stroke="#fff" stroke-width="0.1" text-anchor="middle" textLength="18.99" lengthAdjust="spacingAndGlyphs">21240</text>
<text x="46.30" y="489.70" font-size="7.0" fill="#9a3a8e" stroke="#9a3a8e" stroke-width="0.1" text-anchor="middle" textLength="17.40" lengthAdjust="spacingAndGlyphs">OBF1</text>
<text x="69.80" y="489.70" font-size="7.0" fill="#6aa8dc" stroke="#6aa8dc" stroke-width="0.1" text-anchor="middle" textLength="14.10" lengthAdjust="spacingAndGlyphs">PU.1</text>
<circle cx="46.2" cy="591.6" r="27.4" fill="#bb1e2b" stroke="#a81824" stroke-width="0.6"/>
<circle cx="69.9" cy="591.6" r="27.4" fill="#6aa8dc" stroke="#5d9bd4" stroke-width="0.6"/>
<clipPath id="vc3"><circle cx="46.2" cy="591.6" r="27.4"/></clipPath>
<circle cx="69.9" cy="591.6" r="27.4" fill="#4b1220" stroke="#4b1220" stroke-width="0.6" clip-path="url(#vc3)"/>
<text x="31.60" y="593.70" font-size="6.9" fill="#fff" stroke="#fff" stroke-width="0.1" text-anchor="middle" textLength="18.79" lengthAdjust="spacingAndGlyphs">22431</text>
<text x="56.90" y="593.70" font-size="6.9" fill="#fff" stroke="#fff" stroke-width="0.1" text-anchor="middle" textLength="18.99" lengthAdjust="spacingAndGlyphs">10165</text>
<text x="85.80" y="593.70" font-size="6.9" fill="#fff" stroke="#fff" stroke-width="0.1" text-anchor="middle" textLength="18.59" lengthAdjust="spacingAndGlyphs">14192</text>
<text x="46.30" y="561.30" font-size="7.0" fill="#c0303a" stroke="#c0303a" stroke-width="0.1" text-anchor="middle" textLength="15.50" lengthAdjust="spacingAndGlyphs">Oct2</text>
<text x="69.80" y="561.30" font-size="7.0" fill="#6aa8dc" stroke="#6aa8dc" stroke-width="0.1" text-anchor="middle" textLength="14.10" lengthAdjust="spacingAndGlyphs">PU.1</text>
<text x="122.00" y="405.80" font-size="11" fill="#000" font-weight="bold">F</text>
<polygon points="175.80,445.09 176.60,444.23 177.40,442.65 178.20,441.39 179.00,440.33 179.80,441.13 180.60,440.21 181.40,440.41 182.20,439.40 183.00,439.97 183.80,438.75 184.50,439.60 184.50,456.96 183.80,456.23 183.00,456.36 182.20,456.54 181.40,455.44 180.60,455.97 179.80,456.21 179.00,454.86 178.20,455.67 177.40,454.96 176.60,454.73 175.80,453.17" fill="#8c8c8c"/>
<path d="M180.2 456.7h1.35v1.35h-1.35zM181.3 460.5h1.35v1.35h-1.35zM174.4 440.3h1.35v1.35h-1.35zM182.9 437.3h1.35v1.35h-1.35zM178.7 437.2h1.35v1.35h-1.35zM174.3 442.9h1.35v1.35h-1.35zM176.8 454.1h1.35v1.35h-1.35zM181.9 437.4h1.35v1.35h-1.35zM180.1 434.2h1.35v1.35h-1.35zM176.2 442.6h1.35v1.35h-1.35zM183.7 457.2h1.35v1.35h-1.35zM179.4 460.4h1.35v1.35h-1.35zM176.1 455.6h1.35v1.35h-1.35zM182.8 432.3h1.35v1.35h-1.35zM177.6 440.5h1.35v1.35h-1.35zM177.0 454.8h1.35v1.35h-1.35zM174.2 453.8h1.35v1.35h-1.35zM182.1 436.9h1.35v1.35h-1.35zM177.2 441.2h1.35v1.35h-1.35zM183.6 437.5h1.35v1.35h-1.35zM181.4 459.3h1.35v1.35h-1.35zM177.7 454.9h1.35v1.35h-1.35zM174.2 441.1h1.35v1.35h-1.35zM176.0 458.4h1.35v1.35h-1.35zM183.1 456.9h1.35v1.35h-1.35zM179.2 456.7h1.35v1.35h-1.35zM175.2 454.1h1.35v1.35h-1.35zM174.5 457.0h1.35v1.35h-1.35zM175.0 439.4h1.35v1.35h-1.35zM177.4 457.5h1.35v1.35h-1.35zM179.4 439.3h1.35v1.35h-1.35zM174.9 442.3h1.35v1.35h-1.35zM180.8 455.8h1.35v1.35h-1.35zM183.7 437.7h1.35v1.35h-1.35zM178.1 436.8h1.35v1.35h-1.35zM178.5 437.8h1.35v1.35h-1.35zM174.7 455.3h1.35v1.35h-1.35zM182.3 438.2h1.35v1.35h-1.35zM181.2 458.1h1.35v1.35h-1.35zM175.2 440.4h1.35v1.35h-1.35zM175.6 453.8h1.35v1.35h-1.35zM183.8 458.1h1.35v1.35h-1.35zM183.6 434.2h1.35v1.35h-1.35zM178.8 440.0h1.35v1.35h-1.35zM178.0 435.3h1.35v1.35h-1.35zM183.4 460.4h1.35v1.35h-1.35zM179.0 438.5h1.35v1.35h-1.35zM181.7 456.5h1.35v1.35h-1.35zM177.6 455.0h1.35v1.35h-1.35zM180.6 458.7h1.35v1.35h-1.35zM177.7 454.9h1.35v1.35h-1.35zM181.6 458.0h1.35v1.35h-1.35zM177.0 455.8h1.35v1.35h-1.35zM174.2 441.1h1.35v1.35h-1.35zM176.6 457.7h1.35v1.35h-1.35zM180.4 456.3h1.35v1.35h-1.35zM177.5 454.7h1.35v1.35h-1.35zM177.5 458.5h1.35v1.35h-1.35zM182.6 461.1h1.35v1.35h-1.35zM179.2 439.1h1.35v1.35h-1.35zM175.7 455.6h1.35v1.35h-1.35zM180.8 456.4h1.35v1.35h-1.35zM181.2 438.4h1.35v1.35h-1.35zM180.6 435.9h1.35v1.35h-1.35zM180.2 457.6h1.35v1.35h-1.35zM174.4 440.7h1.35v1.35h-1.35zM178.4 455.3h1.35v1.35h-1.35zM180.2 435.5h1.35v1.35h-1.35zM178.7 439.1h1.35v1.35h-1.35zM177.2 441.0h1.35v1.35h-1.35zM176.0 440.3h1.35v1.35h-1.35zM180.1 455.7h1.35v1.35h-1.35zM176.4 456.0h1.35v1.35h-1.35zM176.8 441.9h1.35v1.35h-1.35zM175.2 453.3h1.35v1.35h-1.35zM180.1 439.0h1.35v1.35h-1.35zM179.4 434.2h1.35v1.35h-1.35zM182.1 435.6h1.35v1.35h-1.35zM182.0 456.4h1.35v1.35h-1.35zM179.9 456.1h1.35v1.35h-1.35zM183.4 457.4h1.35v1.35h-1.35zM182.8 437.1h1.35v1.35h-1.35zM175.2 453.8h1.35v1.35h-1.35zM180.2 456.1h1.35v1.35h-1.35zM177.8 440.7h1.35v1.35h-1.35zM183.6 436.3h1.35v1.35h-1.35zM183.4 457.2h1.35v1.35h-1.35zM183.6 437.2h1.35v1.35h-1.35zM178.2 437.8h1.35v1.35h-1.35zM176.9 441.5h1.35v1.35h-1.35zM175.3 454.7h1.35v1.35h-1.35zM181.7 456.2h1.35v1.35h-1.35zM174.3 442.9h1.35v1.35h-1.35zM181.7 432.9h1.35v1.35h-1.35zM176.7 439.9h1.35v1.35h-1.35zM180.0 439.4h1.35v1.35h-1.35zM180.4 455.4h1.35v1.35h-1.35zM181.5 437.7h1.35v1.35h-1.35zM179.3 439.1h1.35v1.35h-1.35zM178.6 437.4h1.35v1.35h-1.35zM181.4 457.1h1.35v1.35h-1.35zM178.5 455.1h1.35v1.35h-1.35zM182.7 434.1h1.35v1.35h-1.35zM178.3 455.0h1.35v1.35h-1.35zM181.0 460.2h1.35v1.35h-1.35zM177.9 440.3h1.35v1.35h-1.35zM182.4 437.3h1.35v1.35h-1.35zM174.8 456.8h1.35v1.35h-1.35zM180.9 438.1h1.35v1.35h-1.35zM183.0 434.2h1.35v1.35h-1.35zM178.8 438.0h1.35v1.35h-1.35zM175.6 453.2h1.35v1.35h-1.35zM182.0 438.2h1.35v1.35h-1.35zM181.8 459.6h1.35v1.35h-1.35zM174.4 460.6h1.35v1.35h-1.35zM180.9 437.9h1.35v1.35h-1.35zM182.3 434.9h1.35v1.35h-1.35zM181.0 434.0h1.35v1.35h-1.35zM177.0 455.9h1.35v1.35h-1.35zM178.1 437.9h1.35v1.35h-1.35zM180.2 437.5h1.35v1.35h-1.35zM174.8 442.2h1.35v1.35h-1.35zM179.7 456.0h1.35v1.35h-1.35zM178.3 439.7h1.35v1.35h-1.35zM179.9 437.2h1.35v1.35h-1.35zM174.7 453.6h1.35v1.35h-1.35zM175.6 458.0h1.35v1.35h-1.35zM179.5 455.2h1.35v1.35h-1.35zM176.7 454.0h1.35v1.35h-1.35zM179.1 435.8h1.35v1.35h-1.35zM176.4 442.2h1.35v1.35h-1.35zM181.0 456.8h1.35v1.35h-1.35zM175.0 453.8h1.35v1.35h-1.35zM179.9 438.9h1.35v1.35h-1.35zM182.6 436.6h1.35v1.35h-1.35zM174.4 456.3h1.35v1.35h-1.35zM174.6 440.1h1.35v1.35h-1.35zM176.3 441.3h1.35v1.35h-1.35zM183.6 456.3h1.35v1.35h-1.35zM180.2 438.1h1.35v1.35h-1.35zM176.4 440.6h1.35v1.35h-1.35zM177.9 439.4h1.35v1.35h-1.35zM182.2 456.4h1.35v1.35h-1.35zM182.4 436.1h1.35v1.35h-1.35zM179.9 455.3h1.35v1.35h-1.35zM175.1 441.2h1.35v1.35h-1.35zM176.1 440.4h1.35v1.35h-1.35zM181.5 437.1h1.35v1.35h-1.35zM178.7 456.5h1.35v1.35h-1.35zM178.6 438.6h1.35v1.35h-1.35zM175.6 441.4h1.35v1.35h-1.35zM182.7 436.8h1.35v1.35h-1.35zM176.6 441.0h1.35v1.35h-1.35zM176.4 440.6h1.35v1.35h-1.35zM174.4 456.4h1.35v1.35h-1.35zM180.8 459.2h1.35v1.35h-1.35zM178.7 457.2h1.35v1.35h-1.35zM176.9 456.3h1.35v1.35h-1.35zM181.2 438.9h1.35v1.35h-1.35zM176.4 441.9h1.35v1.35h-1.35zM178.0 455.8h1.35v1.35h-1.35zM178.7 438.7h1.35v1.35h-1.35zM181.2 456.3h1.35v1.35h-1.35zM180.6 456.8h1.35v1.35h-1.35zM180.4 439.0h1.35v1.35h-1.35zM174.7 452.9h1.35v1.35h-1.35zM178.1 433.3h1.35v1.35h-1.35zM179.2 437.7h1.35v1.35h-1.35zM175.0 441.4h1.35v1.35h-1.35zM183.2 436.7h1.35v1.35h-1.35zM174.8 461.3h1.35v1.35h-1.35zM180.3 462.8h1.35v1.35h-1.35zM176.6 465.2h1.35v1.35h-1.35zM183.5 465.2h1.35v1.35h-1.35zM180.6 476.3h1.35v1.35h-1.35zM178.1 481.3h1.35v1.35h-1.35zM175.8 424.3h1.35v1.35h-1.35zM176.5 422.5h1.35v1.35h-1.35zM177.5 420.8h1.35v1.35h-1.35zM178.3 418.9h1.35v1.35h-1.35zM175.3 427.8h1.35v1.35h-1.35zM176.9 429.5h1.35v1.35h-1.35zM178.3 430.9h1.35v1.35h-1.35zM179.9 429.1h1.35v1.35h-1.35zM180.6 430.5h1.35v1.35h-1.35zM174.9 432.5h1.35v1.35h-1.35zM176.5 433.9h1.35v1.35h-1.35zM177.8 432.8h1.35v1.35h-1.35zM179.3 434.1h1.35v1.35h-1.35zM181.3 432.9h1.35v1.35h-1.35zM175.6 435.6h1.35v1.35h-1.35zM174.7 437.9h1.35v1.35h-1.35z" fill="#808080"/>
<polygon points="178.00,445.48 178.80,445.36 179.60,445.71 180.40,445.30 181.20,445.63 182.00,445.51 182.80,445.29 183.60,445.61 184.40,445.29 185.20,445.58 186.00,445.35 186.80,445.38 187.60,445.64 188.40,445.94 189.20,445.47 190.00,445.56 190.80,445.86 191.60,446.10 192.40,445.86 193.20,445.76 194.00,446.18 194.80,445.55 195.60,446.14 196.40,445.76 197.20,445.68 198.00,445.68 198.80,445.84 199.60,446.21 200.40,445.79 201.20,446.11 202.00,446.18 202.80,446.02 203.60,446.18 204.40,445.87 205.20,445.90 206.00,446.03 206.80,446.40 207.60,446.25 208.40,446.21 209.20,446.43 210.00,446.37 210.80,446.29 211.60,446.67 212.40,446.64 213.20,446.35 214.00,446.61 214.80,446.61 215.60,446.89 216.40,446.82 217.20,446.54 218.00,447.06 218.80,446.48 219.60,446.73 220.40,447.00 221.20,446.60 222.00,446.87 222.80,446.59 223.60,447.06 224.40,447.16 225.20,447.06 226.00,447.30 226.80,446.94 227.60,447.24 228.40,447.20 229.20,447.22 230.00,447.17 230.80,447.49 231.60,447.61 232.40,447.33 233.20,447.51 234.00,447.13 234.80,447.63 235.60,447.64 236.40,447.93 237.20,447.86 238.00,447.53 238.80,447.65 239.60,447.89 240.40,447.50 241.20,447.87 242.00,447.73 242.80,447.77 243.60,447.79 244.40,448.35 245.20,447.97 246.00,448.12 246.00,450.02 245.20,450.43 244.40,449.94 243.60,450.26 242.80,450.40 242.00,450.70 241.20,450.72 240.40,450.82 239.60,450.47 238.80,450.61 238.00,450.62 237.20,451.04 236.40,451.14 235.60,450.62 234.80,450.69 234.00,450.77 233.20,450.82 232.40,451.05 231.60,451.17 230.80,450.99 230.00,450.85 229.20,451.18 228.40,451.17 227.60,451.34 226.80,451.65 226.00,451.49 225.20,451.40 224.40,451.51 223.60,451.58 222.80,451.18 222.00,451.80 221.20,451.75 220.40,451.85 219.60,451.82 218.80,451.57 218.00,451.61 217.20,451.43 216.40,451.84 215.60,451.47 214.80,451.51 214.00,451.64 213.20,451.64 212.40,451.79 211.60,451.62 210.80,451.62 210.00,451.76 209.20,451.75 208.40,451.97 207.60,451.76 206.80,452.39 206.00,452.24 205.20,451.95 204.40,452.05 203.60,452.15 202.80,452.19 202.00,452.06 201.20,452.60 200.40,452.73 199.60,452.39 198.80,452.42 198.00,452.16 197.20,452.19 196.40,452.38 195.60,452.35 194.80,452.76 194.00,452.31 193.20,452.24 192.40,452.91 191.60,452.63 190.80,452.38 190.00,452.68 189.20,452.34 188.40,452.71 187.60,453.04 186.80,452.98 186.00,452.89 185.20,452.60 184.40,452.70 183.60,452.57 182.80,452.99 182.00,452.82 181.20,453.00 180.40,452.68 179.60,452.61 178.80,453.02 178.00,453.14" fill="#737373"/>
<polygon points="176.00,448.11 176.80,448.22 177.60,448.28 178.40,448.02 179.20,448.21 180.00,448.18 180.80,448.16 181.60,447.94 182.40,447.91 183.20,448.05 184.00,448.20 184.80,448.00 185.60,448.10 186.40,448.03 187.20,448.24 188.00,448.28 188.80,448.06 189.60,448.30 190.40,447.92 191.20,448.23 192.00,448.25 192.80,447.96 193.60,448.18 194.40,448.12 195.20,448.28 196.00,447.98 196.80,448.12 197.60,448.25 198.40,448.16 199.20,448.02 200.00,447.93 200.80,448.28 201.60,448.09 202.40,448.30 203.20,447.96 204.00,448.22 204.80,448.23 205.60,448.27 206.40,447.91 207.20,448.05 208.00,447.92 208.80,448.20 209.60,448.04 210.40,448.28 211.20,448.05 212.00,448.21 212.80,448.25 213.60,448.00 214.40,448.12 215.20,448.28 216.00,448.11 216.80,448.04 217.60,448.01 218.40,448.21 219.20,447.98 220.00,448.14 220.80,448.12 221.60,448.12 222.40,447.95 223.20,448.16 224.00,448.27 224.80,448.03 225.60,448.03 226.40,448.26 227.20,448.13 228.00,448.01 228.80,447.90 229.60,448.20 230.40,448.04 231.20,448.09 232.00,448.01 232.80,448.15 233.60,448.19 234.40,448.02 235.20,447.93 236.00,448.29 236.00,450.46 235.20,450.11 234.40,450.33 233.60,450.37 232.80,450.26 232.00,450.39 231.20,450.48 230.40,450.34 229.60,450.26 228.80,450.18 228.00,450.20 227.20,450.16 226.40,450.14 225.60,450.18 224.80,450.44 224.00,450.31 223.20,450.42 222.40,450.47 221.60,450.42 220.80,450.12 220.00,450.47 219.20,450.14 218.40,450.41 217.60,450.44 216.80,450.36 216.00,450.26 215.20,450.13 214.40,450.13 213.60,450.35 212.80,450.20 212.00,450.31 211.20,450.21 210.40,450.17 209.60,450.22 208.80,450.39 208.00,450.29 207.20,450.26 206.40,450.29 205.60,450.32 204.80,450.31 204.00,450.28 203.20,450.49 202.40,450.40 201.60,450.19 200.80,450.23 200.00,450.18 199.20,450.25 198.40,450.11 197.60,450.40 196.80,450.33 196.00,450.27 195.20,450.46 194.40,450.23 193.60,450.33 192.80,450.47 192.00,450.32 191.20,450.35 190.40,450.25 189.60,450.50 188.80,450.40 188.00,450.22 187.20,450.24 186.40,450.34 185.60,450.31 184.80,450.31 184.00,450.18 183.20,450.33 182.40,450.38 181.60,450.41 180.80,450.28 180.00,450.28 179.20,450.30 178.40,450.31 177.60,450.29 176.80,450.10 176.00,450.21" fill="#5a5a5a"/>
<polygon points="184.00,436.76 184.80,438.02 185.60,436.76 186.40,437.77 187.20,436.86 188.00,437.20 188.80,438.48 189.60,437.30 190.40,438.07 191.20,437.85 192.00,437.93 192.80,438.07 193.60,437.67 194.40,438.77 195.20,437.68 196.00,438.04 196.80,437.84 197.60,438.37 198.40,438.73 199.20,439.66 200.00,438.96 200.80,438.67 201.60,439.04 202.40,440.34 203.20,438.99 204.00,440.02 204.80,439.77 205.60,440.38 206.40,440.02 207.20,440.75 208.00,440.60 208.80,441.00 209.60,441.56 210.40,441.21 211.20,440.67 212.00,440.70 212.80,442.27 213.60,441.70 214.40,441.39 215.20,442.76 216.00,442.35 216.80,442.76 217.60,443.18 218.40,442.41 219.20,442.69 220.00,443.70 220.80,442.69 221.60,443.87 222.40,442.98 223.20,444.11 224.00,444.30 224.80,444.88 225.60,444.91 226.40,444.58 227.20,444.30 228.00,444.44 228.80,445.26 229.50,445.42 229.50,446.21 228.80,447.55 228.00,446.91 227.20,447.22 226.40,446.45 225.60,446.49 224.80,446.12 224.00,446.65 223.20,446.53 222.40,446.78 221.60,446.70 220.80,447.43 220.00,447.53 219.20,446.38 218.40,446.73 217.60,446.37 216.80,447.16 216.00,447.66 215.20,446.42 214.40,447.33 213.60,446.58 212.80,446.12 212.00,447.32 211.20,446.65 210.40,446.37 209.60,446.80 208.80,446.47 208.00,446.76 207.20,446.81 206.40,446.77 205.60,447.04 204.80,446.56 204.00,446.25 203.20,446.24 202.40,446.27 201.60,446.93 200.80,446.68 200.00,447.39 199.20,446.91 198.40,447.23 197.60,447.67 196.80,446.20 196.00,446.13 195.20,446.32 194.40,446.72 193.60,447.02 192.80,447.29 192.00,446.66 191.20,447.64 190.40,446.10 189.60,447.44 188.80,446.44 188.00,447.50 187.20,446.15 186.40,447.64 185.60,447.32 184.80,447.68 184.00,447.03" fill="#e01b1b"/>
<polygon points="184.00,451.14 184.80,451.00 185.60,450.62 186.40,451.79 187.20,450.41 188.00,451.20 188.80,451.84 189.60,450.53 190.40,451.29 191.20,451.39 192.00,450.47 192.80,451.01 193.60,451.53 194.40,451.12 195.20,451.56 196.00,450.65 196.80,450.78 197.60,450.58 198.40,451.21 199.20,451.88 200.00,451.34 200.80,451.64 201.60,451.01 202.40,451.59 203.20,450.56 204.00,450.87 204.80,451.48 205.60,451.56 206.40,451.07 207.20,450.54 208.00,450.83 208.80,450.74 209.60,450.85 210.40,451.70 211.20,450.72 212.00,451.82 212.80,451.81 213.60,450.49 214.40,451.01 215.20,451.19 216.00,450.44 216.80,451.08 217.60,451.85 218.40,450.58 219.20,451.35 220.00,450.59 220.80,451.33 221.60,451.83 222.40,450.72 223.20,450.41 224.00,450.53 224.80,451.26 225.60,450.43 226.40,450.54 227.20,451.19 228.00,451.87 228.80,451.07 229.60,451.04 230.40,451.42 231.00,450.55 231.00,452.93 230.40,452.38 229.60,453.21 228.80,453.90 228.00,452.59 227.20,453.52 226.40,453.74 225.60,453.14 224.80,453.45 224.00,454.71 223.20,454.81 222.40,453.51 221.60,454.54 220.80,455.03 220.00,453.98 219.20,454.67 218.40,453.86 217.60,454.47 216.80,455.06 216.00,455.02 215.20,455.42 214.40,454.38 213.60,454.86 212.80,455.74 212.00,455.35 211.20,455.20 210.40,455.18 209.60,456.17 208.80,455.57 208.00,454.74 207.20,456.05 206.40,455.36 205.60,455.58 204.80,455.29 204.00,455.72 203.20,455.58 202.40,455.27 201.60,456.19 200.80,455.41 200.00,456.55 199.20,455.39 198.40,456.64 197.60,456.73 196.80,456.28 196.00,456.66 195.20,455.97 194.40,456.80 193.60,456.34 192.80,456.07 192.00,457.29 191.20,456.44 190.40,456.44 189.60,457.26 188.80,456.52 188.00,457.04 187.20,456.29 186.40,457.41 185.60,456.52 184.80,456.24 184.00,457.76" fill="#66cc33"/>
<path d="M194.0 436.1h1.35v1.35h-1.35zM186.0 436.3h1.35v1.35h-1.35zM194.6 436.5h1.35v1.35h-1.35zM185.6 436.0h1.35v1.35h-1.35zM185.0 435.7h1.35v1.35h-1.35zM205.7 439.4h1.35v1.35h-1.35zM201.0 438.1h1.35v1.35h-1.35zM197.1 438.0h1.35v1.35h-1.35zM188.1 433.5h1.35v1.35h-1.35zM209.6 439.5h1.35v1.35h-1.35zM221.0 442.7h1.35v1.35h-1.35zM207.1 439.6h1.35v1.35h-1.35zM204.7 438.0h1.35v1.35h-1.35zM210.8 440.0h1.35v1.35h-1.35zM215.3 440.4h1.35v1.35h-1.35zM203.1 438.4h1.35v1.35h-1.35zM219.7 442.4h1.35v1.35h-1.35zM197.0 437.3h1.35v1.35h-1.35zM187.2 436.5h1.35v1.35h-1.35zM197.1 435.2h1.35v1.35h-1.35zM189.0 436.1h1.35v1.35h-1.35zM187.0 436.3h1.35v1.35h-1.35zM202.2 437.9h1.35v1.35h-1.35zM186.0 436.2h1.35v1.35h-1.35zM214.2 440.3h1.35v1.35h-1.35zM195.9 437.6h1.35v1.35h-1.35zM199.8 437.2h1.35v1.35h-1.35zM197.1 437.1h1.35v1.35h-1.35zM216.4 438.6h1.35v1.35h-1.35zM212.1 439.7h1.35v1.35h-1.35zM216.8 440.3h1.35v1.35h-1.35zM219.3 441.6h1.35v1.35h-1.35zM212.2 438.4h1.35v1.35h-1.35zM214.2 440.6h1.35v1.35h-1.35zM195.1 437.2h1.35v1.35h-1.35zM189.1 435.6h1.35v1.35h-1.35zM186.2 436.2h1.35v1.35h-1.35zM213.1 440.0h1.35v1.35h-1.35zM195.9 435.4h1.35v1.35h-1.35zM207.8 439.0h1.35v1.35h-1.35zM184.5 435.8h1.35v1.35h-1.35zM199.0 438.2h1.35v1.35h-1.35zM221.2 440.7h1.35v1.35h-1.35zM193.5 436.9h1.35v1.35h-1.35zM202.2 438.0h1.35v1.35h-1.35zM183.9 435.5h1.35v1.35h-1.35zM209.0 439.1h1.35v1.35h-1.35zM187.5 434.7h1.35v1.35h-1.35zM206.7 438.6h1.35v1.35h-1.35zM203.0 436.9h1.35v1.35h-1.35zM224.6 443.4h1.35v1.35h-1.35zM197.3 437.4h1.35v1.35h-1.35zM223.6 441.7h1.35v1.35h-1.35zM202.7 438.6h1.35v1.35h-1.35zM217.1 440.1h1.35v1.35h-1.35zM226.0 443.2h1.35v1.35h-1.35zM209.5 438.0h1.35v1.35h-1.35zM201.8 437.1h1.35v1.35h-1.35zM185.6 436.3h1.35v1.35h-1.35zM208.7 440.1h1.35v1.35h-1.35zM204.5 438.2h1.35v1.35h-1.35zM192.8 436.4h1.35v1.35h-1.35zM195.5 437.2h1.35v1.35h-1.35zM199.0 436.5h1.35v1.35h-1.35zM216.4 441.7h1.35v1.35h-1.35zM194.2 436.1h1.35v1.35h-1.35zM226.6 442.4h1.35v1.35h-1.35zM210.5 437.9h1.35v1.35h-1.35zM201.0 436.9h1.35v1.35h-1.35zM204.9 437.1h1.35v1.35h-1.35zM185.0 436.3h1.35v1.35h-1.35zM214.9 440.8h1.35v1.35h-1.35zM222.9 442.3h1.35v1.35h-1.35zM197.6 435.5h1.35v1.35h-1.35zM213.4 439.7h1.35v1.35h-1.35zM218.5 440.6h1.35v1.35h-1.35zM199.9 436.7h1.35v1.35h-1.35zM209.1 440.2h1.35v1.35h-1.35zM191.5 436.3h1.35v1.35h-1.35zM184.5 435.7h1.35v1.35h-1.35zM197.1 436.7h1.35v1.35h-1.35zM214.3 440.1h1.35v1.35h-1.35zM200.9 435.8h1.35v1.35h-1.35zM224.0 443.1h1.35v1.35h-1.35zM213.8 440.3h1.35v1.35h-1.35zM218.5 440.5h1.35v1.35h-1.35zM199.3 436.5h1.35v1.35h-1.35zM206.3 438.4h1.35v1.35h-1.35zM195.8 437.3h1.35v1.35h-1.35zM199.0 438.1h1.35v1.35h-1.35zM208.9 440.1h1.35v1.35h-1.35zM196.8 435.5h1.35v1.35h-1.35zM224.2 443.1h1.35v1.35h-1.35zM186.5 434.3h1.35v1.35h-1.35zM216.5 439.9h1.35v1.35h-1.35zM222.8 439.7h1.35v1.35h-1.35zM213.6 439.8h1.35v1.35h-1.35zM210.2 438.3h1.35v1.35h-1.35zM192.5 434.1h1.35v1.35h-1.35zM193.8 437.2h1.35v1.35h-1.35zM226.2 442.5h1.35v1.35h-1.35zM183.5 436.1h1.35v1.35h-1.35zM200.5 437.7h1.35v1.35h-1.35zM222.9 441.1h1.35v1.35h-1.35zM223.4 442.1h1.35v1.35h-1.35zM188.1 436.0h1.35v1.35h-1.35zM213.6 438.8h1.35v1.35h-1.35zM199.8 437.7h1.35v1.35h-1.35zM222.3 442.8h1.35v1.35h-1.35zM195.1 436.4h1.35v1.35h-1.35zM210.7 439.8h1.35v1.35h-1.35zM211.2 440.1h1.35v1.35h-1.35zM217.1 441.8h1.35v1.35h-1.35zM208.2 439.5h1.35v1.35h-1.35zM219.9 440.7h1.35v1.35h-1.35zM201.7 437.1h1.35v1.35h-1.35zM202.0 435.5h1.35v1.35h-1.35zM196.6 437.4h1.35v1.35h-1.35zM195.7 434.6h1.35v1.35h-1.35zM191.6 434.8h1.35v1.35h-1.35zM184.7 435.1h1.35v1.35h-1.35zM209.9 439.1h1.35v1.35h-1.35zM191.4 436.5h1.35v1.35h-1.35zM211.8 438.8h1.35v1.35h-1.35zM213.7 441.1h1.35v1.35h-1.35zM204.7 438.8h1.35v1.35h-1.35zM220.0 441.2h1.35v1.35h-1.35zM220.7 442.4h1.35v1.35h-1.35zM211.7 439.8h1.35v1.35h-1.35zM214.0 440.7h1.35v1.35h-1.35zM220.3 441.9h1.35v1.35h-1.35zM191.8 437.3h1.35v1.35h-1.35zM190.2 436.4h1.35v1.35h-1.35zM210.4 440.0h1.35v1.35h-1.35zM187.9 436.9h1.35v1.35h-1.35zM219.2 439.8h1.35v1.35h-1.35zM218.7 441.5h1.35v1.35h-1.35zM225.4 440.3h1.35v1.35h-1.35zM210.8 439.9h1.35v1.35h-1.35zM187.9 436.8h1.35v1.35h-1.35zM188.9 415.3h1.35v1.35h-1.35zM204.5 413.8h1.35v1.35h-1.35zM198.0 418.4h1.35v1.35h-1.35zM199.2 417.8h1.35v1.35h-1.35zM207.8 418.1h1.35v1.35h-1.35zM185.7 421.6h1.35v1.35h-1.35zM200.6 424.9h1.35v1.35h-1.35zM185.5 426.9h1.35v1.35h-1.35zM195.1 427.4h1.35v1.35h-1.35zM191.3 429.2h1.35v1.35h-1.35zM207.8 430.0h1.35v1.35h-1.35zM184.3 430.0h1.35v1.35h-1.35zM186.7 431.4h1.35v1.35h-1.35zM188.1 432.4h1.35v1.35h-1.35zM199.4 431.7h1.35v1.35h-1.35zM215.5 435.3h1.35v1.35h-1.35zM189.3 434.1h1.35v1.35h-1.35zM190.3 435.1h1.35v1.35h-1.35zM192.8 434.8h1.35v1.35h-1.35zM193.8 434.0h1.35v1.35h-1.35zM194.8 433.1h1.35v1.35h-1.35zM202.3 436.3h1.35v1.35h-1.35zM205.7 436.6h1.35v1.35h-1.35zM210.2 437.7h1.35v1.35h-1.35zM213.1 438.9h1.35v1.35h-1.35zM222.8 441.3h1.35v1.35h-1.35zM251.1 444.7h1.35v1.35h-1.35z" fill="#e01b1b"/>
<path d="M186.4 456.5h1.35v1.35h-1.35zM204.9 456.1h1.35v1.35h-1.35zM215.3 454.2h1.35v1.35h-1.35zM202.3 455.7h1.35v1.35h-1.35zM208.9 455.2h1.35v1.35h-1.35zM211.4 455.0h1.35v1.35h-1.35zM200.9 455.9h1.35v1.35h-1.35zM228.6 453.7h1.35v1.35h-1.35zM227.7 454.4h1.35v1.35h-1.35zM217.2 454.9h1.35v1.35h-1.35zM197.2 456.6h1.35v1.35h-1.35zM200.0 456.3h1.35v1.35h-1.35zM218.0 454.9h1.35v1.35h-1.35zM197.0 456.1h1.35v1.35h-1.35zM206.8 455.6h1.35v1.35h-1.35zM210.4 456.6h1.35v1.35h-1.35zM197.2 456.8h1.35v1.35h-1.35zM207.7 456.8h1.35v1.35h-1.35zM185.7 457.0h1.35v1.35h-1.35zM214.6 454.7h1.35v1.35h-1.35zM186.8 456.2h1.35v1.35h-1.35zM205.8 455.5h1.35v1.35h-1.35zM229.6 453.4h1.35v1.35h-1.35zM227.2 452.9h1.35v1.35h-1.35zM187.6 457.4h1.35v1.35h-1.35zM183.6 458.0h1.35v1.35h-1.35zM219.3 453.9h1.35v1.35h-1.35zM195.1 455.8h1.35v1.35h-1.35zM204.9 456.1h1.35v1.35h-1.35zM185.8 457.2h1.35v1.35h-1.35zM193.6 457.0h1.35v1.35h-1.35zM205.5 455.2h1.35v1.35h-1.35zM187.3 456.6h1.35v1.35h-1.35zM215.6 457.1h1.35v1.35h-1.35zM207.2 456.0h1.35v1.35h-1.35zM219.9 454.0h1.35v1.35h-1.35zM203.8 457.3h1.35v1.35h-1.35zM213.6 455.8h1.35v1.35h-1.35zM213.2 454.7h1.35v1.35h-1.35zM219.5 453.8h1.35v1.35h-1.35zM202.7 456.8h1.35v1.35h-1.35zM226.3 454.4h1.35v1.35h-1.35zM201.1 457.3h1.35v1.35h-1.35zM225.2 453.0h1.35v1.35h-1.35zM190.3 456.2h1.35v1.35h-1.35zM229.0 453.6h1.35v1.35h-1.35zM230.1 452.4h1.35v1.35h-1.35zM196.1 456.8h1.35v1.35h-1.35zM205.4 455.4h1.35v1.35h-1.35zM189.1 457.7h1.35v1.35h-1.35zM191.3 456.3h1.35v1.35h-1.35zM201.2 455.4h1.35v1.35h-1.35zM225.5 453.5h1.35v1.35h-1.35zM184.2 456.8h1.35v1.35h-1.35zM222.3 454.9h1.35v1.35h-1.35zM189.7 456.4h1.35v1.35h-1.35zM194.4 458.2h1.35v1.35h-1.35zM184.8 457.6h1.35v1.35h-1.35zM192.0 456.7h1.35v1.35h-1.35zM218.8 454.2h1.35v1.35h-1.35zM200.9 455.4h1.35v1.35h-1.35zM207.7 455.5h1.35v1.35h-1.35zM229.1 452.5h1.35v1.35h-1.35zM188.5 456.5h1.35v1.35h-1.35zM213.6 455.2h1.35v1.35h-1.35zM205.8 455.8h1.35v1.35h-1.35zM210.7 455.5h1.35v1.35h-1.35zM210.1 454.8h1.35v1.35h-1.35zM195.7 457.5h1.35v1.35h-1.35zM189.6 456.5h1.35v1.35h-1.35zM205.9 455.0h1.35v1.35h-1.35zM219.6 453.8h1.35v1.35h-1.35zM203.0 456.8h1.35v1.35h-1.35zM220.6 453.6h1.35v1.35h-1.35zM186.0 456.5h1.35v1.35h-1.35zM201.4 455.3h1.35v1.35h-1.35zM199.6 456.4h1.35v1.35h-1.35zM204.5 455.2h1.35v1.35h-1.35zM214.1 455.4h1.35v1.35h-1.35zM208.2 455.3h1.35v1.35h-1.35zM216.8 456.7h1.35v1.35h-1.35zM229.8 453.3h1.35v1.35h-1.35zM197.5 456.9h1.35v1.35h-1.35zM187.0 458.5h1.35v1.35h-1.35zM204.4 455.2h1.35v1.35h-1.35zM201.6 456.7h1.35v1.35h-1.35zM226.8 453.2h1.35v1.35h-1.35zM222.3 454.8h1.35v1.35h-1.35zM189.8 456.8h1.35v1.35h-1.35zM209.9 455.8h1.35v1.35h-1.35zM183.8 459.3h1.35v1.35h-1.35zM188.3 461.0h1.35v1.35h-1.35zM191.8 460.3h1.35v1.35h-1.35zM191.8 462.8h1.35v1.35h-1.35zM195.1 462.6h1.35v1.35h-1.35zM209.3 456.8h1.35v1.35h-1.35zM231.3 451.3h1.35v1.35h-1.35zM230.3 455.3h1.35v1.35h-1.35zM243.8 453.8h1.35v1.35h-1.35zM236.3 451.8h1.35v1.35h-1.35z" fill="#66cc33"/>
<path d="M236.3 448.2h1.35v1.35h-1.35zM233.4 448.6h1.35v1.35h-1.35zM239.5 450.1h1.35v1.35h-1.35zM237.6 450.6h1.35v1.35h-1.35zM237.9 448.9h1.35v1.35h-1.35zM237.6 446.9h1.35v1.35h-1.35zM251.2 447.8h1.35v1.35h-1.35zM246.4 447.8h1.35v1.35h-1.35zM237.2 448.4h1.35v1.35h-1.35zM241.9 450.6h1.35v1.35h-1.35zM252.9 448.8h1.35v1.35h-1.35zM232.6 449.0h1.35v1.35h-1.35zM249.1 448.4h1.35v1.35h-1.35zM232.4 448.5h1.35v1.35h-1.35zM251.1 446.5h1.35v1.35h-1.35zM232.3 448.6h1.35v1.35h-1.35zM245.5 449.7h1.35v1.35h-1.35zM246.0 449.6h1.35v1.35h-1.35zM246.0 449.0h1.35v1.35h-1.35zM234.0 450.9h1.35v1.35h-1.35zM232.9 448.3h1.35v1.35h-1.35zM232.9 448.1h1.35v1.35h-1.35zM242.4 447.3h1.35v1.35h-1.35zM248.6 446.8h1.35v1.35h-1.35zM233.0 447.3h1.35v1.35h-1.35zM234.2 447.0h1.35v1.35h-1.35zM249.4 448.5h1.35v1.35h-1.35zM231.4 449.4h1.35v1.35h-1.35zM249.5 446.4h1.35v1.35h-1.35zM242.5 448.3h1.35v1.35h-1.35zM235.1 448.7h1.35v1.35h-1.35zM254.0 449.3h1.35v1.35h-1.35zM236.3 449.3h1.35v1.35h-1.35zM233.2 449.0h1.35v1.35h-1.35zM241.5 447.5h1.35v1.35h-1.35zM227.8 445.0h1.35v1.35h-1.35zM227.3 444.5h1.35v1.35h-1.35zM231.6 445.9h1.35v1.35h-1.35zM233.4 445.5h1.35v1.35h-1.35zM229.1 445.7h1.35v1.35h-1.35zM232.2 443.9h1.35v1.35h-1.35zM233.1 445.5h1.35v1.35h-1.35zM234.6 444.5h1.35v1.35h-1.35zM237.0 445.2h1.35v1.35h-1.35zM229.4 445.4h1.35v1.35h-1.35zM230.3 445.5h1.35v1.35h-1.35zM237.8 445.9h1.35v1.35h-1.35zM234.3 444.6h1.35v1.35h-1.35zM238.7 444.7h1.35v1.35h-1.35z" fill="#808080"/>
<line x1="172.20" y1="449.20" x2="257.80" y2="449.20" stroke="#222" stroke-width="0.8"/>
<rect x="172.20" y="412.50" width="85.60" height="71.70" fill="none" stroke="#111" stroke-width="1.25"/>
<line x1="169.00" y1="419.20" x2="172.20" y2="419.20" stroke="#111" stroke-width="0.9"/>
<text x="166.00" y="421.10" font-size="6.6" fill="#333" stroke="#333" text-anchor="end" textLength="7.34" lengthAdjust="spacingAndGlyphs" stroke-width="0.2">10</text>
<line x1="169.00" y1="434.20" x2="172.20" y2="434.20" stroke="#111" stroke-width="0.9"/>
<text x="166.00" y="436.10" font-size="6.6" fill="#333" stroke="#333" text-anchor="end" textLength="3.67" lengthAdjust="spacingAndGlyphs" stroke-width="0.2">5</text>
<line x1="169.00" y1="449.20" x2="172.20" y2="449.20" stroke="#111" stroke-width="0.9"/>
<text x="166.00" y="451.10" font-size="6.6" fill="#333" stroke="#333" text-anchor="end" textLength="3.67" lengthAdjust="spacingAndGlyphs" stroke-width="0.2">0</text>
<line x1="169.00" y1="464.20" x2="172.20" y2="464.20" stroke="#111" stroke-width="0.9"/>
<text x="166.00" y="466.10" font-size="6.6" fill="#333" stroke="#333" text-anchor="end" textLength="5.87" lengthAdjust="spacingAndGlyphs" stroke-width="0.2">-5</text>
<line x1="169.00" y1="479.20" x2="172.20" y2="479.20" stroke="#111" stroke-width="0.9"/>
<text x="166.00" y="481.10" font-size="6.6" fill="#333" stroke="#333" text-anchor="end" textLength="9.54" lengthAdjust="spacingAndGlyphs" stroke-width="0.2">-10</text>
<line x1="172.40" y1="484.20" x2="172.40" y2="487.40" stroke="#111" stroke-width="0.9"/>
<text x="172.40" y="496.50" font-size="6.6" fill="#333" stroke="#333" text-anchor="middle" textLength="3.67" lengthAdjust="spacingAndGlyphs" stroke-width="0.2">0</text>
<line x1="184.94" y1="484.20" x2="184.94" y2="487.40" stroke="#111" stroke-width="0.9"/>
<text x="184.94" y="496.50" font-size="6.6" fill="#333" stroke="#333" text-anchor="middle" textLength="3.67" lengthAdjust="spacingAndGlyphs" stroke-width="0.2">2</text>
<line x1="197.48" y1="484.20" x2="197.48" y2="487.40" stroke="#111" stroke-width="0.9"/>
<text x="197.48" y="496.50" font-size="6.6" fill="#333" stroke="#333" text-anchor="middle" textLength="3.67" lengthAdjust="spacingAndGlyphs" stroke-width="0.2">4</text>
<line x1="210.02" y1="484.20" x2="210.02" y2="487.40" stroke="#111" stroke-width="0.9"/>
<text x="210.02" y="496.50" font-size="6.6" fill="#333" stroke="#333" text-anchor="middle" textLength="3.67" lengthAdjust="spacingAndGlyphs" stroke-width="0.2">6</text>
<line x1="222.56" y1="484.20" x2="222.56" y2="487.40" stroke="#111" stroke-width="0.9"/>
<text x="222.56" y="496.50" font-size="6.6" fill="#333" stroke="#333" text-anchor="middle" textLength="3.67" lengthAdjust="spacingAndGlyphs" stroke-width="0.2">8</text>
<line x1="235.10" y1="484.20" x2="235.10" y2="487.40" stroke="#111" stroke-width="0.9"/>
<text x="235.10" y="496.50" font-size="6.6" fill="#333" stroke="#333" text-anchor="middle" textLength="7.34" lengthAdjust="spacingAndGlyphs" stroke-width="0.2">10</text>
<line x1="247.64" y1="484.20" x2="247.64" y2="487.40" stroke="#111" stroke-width="0.9"/>
<text x="247.64" y="496.50" font-size="6.6" fill="#333" stroke="#333" text-anchor="middle" textLength="7.34" lengthAdjust="spacingAndGlyphs" stroke-width="0.2">12</text>
<text x="197.90" y="508.30" font-size="7.8" fill="#333" stroke="#333" stroke-width="0.1" textLength="35.98" lengthAdjust="spacingAndGlyphs">CPM (log2)</text>
<text x="140.20" y="448.20" font-size="7.2" fill="#333" stroke="#333" stroke-width="0.1" text-anchor="middle" textLength="11.92" lengthAdjust="spacingAndGlyphs" transform="rotate(-90 140.20 448.20)">LPS</text>
<text x="150.60" y="448.10" font-size="7.2" fill="#333" stroke="#333" stroke-width="0.1" text-anchor="middle" textLength="66.72" lengthAdjust="spacingAndGlyphs" transform="rotate(-90 150.60 448.10)">OBF1KO - WT (LogFC)</text>
<text x="221.10" y="421.00" font-size="5.3" fill="#d0202e" stroke="#d0202e" stroke-width="0.1" textLength="5.76" lengthAdjust="spacingAndGlyphs">Up</text>
<text x="236.00" y="421.00" font-size="5.3" fill="#d0202e" stroke="#d0202e" stroke-width="0.1" textLength="15.65" lengthAdjust="spacingAndGlyphs">(n=360)</text>
<text x="221.10" y="427.00" font-size="5.3" fill="#888" stroke="#888" stroke-width="0.1" textLength="11.52" lengthAdjust="spacingAndGlyphs">Equal</text>
<text x="236.00" y="427.00" font-size="5.3" fill="#888" stroke="#888" stroke-width="0.1" textLength="18.16" lengthAdjust="spacingAndGlyphs">(n=9917)</text>
<text x="221.10" y="432.80" font-size="5.3" fill="#5cb82e" stroke="#5cb82e" stroke-width="0.1" textLength="11.52" lengthAdjust="spacingAndGlyphs">Down</text>
<text x="236.00" y="432.80" font-size="5.3" fill="#5cb82e" stroke="#5cb82e" stroke-width="0.1" textLength="15.65" lengthAdjust="spacingAndGlyphs">(n=202)</text>
<text x="121.70" y="530.80" font-size="11" fill="#000" font-weight="bold">G</text>
<polygon points="176.50,585.93 177.30,585.60 178.10,585.11 178.90,583.63 179.70,584.11 180.50,584.03 181.30,583.97 182.10,583.30 182.90,583.20 183.70,583.62 184.50,584.04 185.30,583.44 186.10,583.73 186.90,583.51 187.70,584.13 188.50,584.24 189.30,583.58 190.10,584.29 190.90,583.16 191.70,584.05 192.50,584.12 193.30,583.24 194.10,583.90 194.90,583.72 195.70,584.19 196.50,583.29 197.30,583.67 198.10,584.08 198.90,583.78 199.70,583.37 200.50,583.12 201.30,584.18 202.10,583.65 202.90,584.31 203.70,583.32 204.50,584.15 205.30,584.19 206.10,584.35 206.90,583.30 207.70,583.75 208.50,583.40 209.30,584.27 210.10,583.83 210.90,584.59 211.70,583.92 212.50,584.43 213.30,584.57 214.10,583.85 214.90,584.26 215.70,584.82 216.50,584.38 217.30,584.26 218.10,584.23 218.90,584.93 219.70,584.30 220.50,584.87 221.30,584.90 222.10,584.97 222.90,584.55 223.70,585.26 224.50,585.65 225.30,585.03 226.10,585.19 226.90,586.02 227.70,585.76 228.50,585.53 229.30,585.35 230.10,586.38 230.90,586.03 231.70,586.31 232.50,586.20 233.30,586.75 234.10,586.99 234.90,586.61 235.70,586.45 236.50,587.66 237.30,587.69 238.10,586.74 238.90,587.51 239.70,587.78 240.50,587.57 241.30,588.09 242.10,588.50 242.90,588.19 243.70,588.09 244.50,587.98 245.30,588.19 246.00,588.18 246.00,589.73 245.30,589.97 244.50,590.86 243.70,590.63 242.90,591.08 242.10,591.35 241.30,591.36 240.50,590.58 239.70,591.76 238.90,590.88 238.10,591.81 237.30,592.01 236.50,591.91 235.70,591.73 234.90,591.46 234.10,591.59 233.30,592.37 232.50,592.02 231.70,592.49 230.90,592.31 230.10,592.32 229.30,592.62 228.50,593.27 227.70,593.12 226.90,593.15 226.10,593.40 225.30,593.61 224.50,593.67 223.70,593.66 222.90,594.37 222.10,594.19 221.30,593.64 220.50,593.83 219.70,593.76 218.90,594.05 218.10,593.72 217.30,594.66 216.50,594.53 215.70,594.44 214.90,595.08 214.10,594.43 213.30,594.76 212.50,595.22 211.70,594.80 210.90,594.90 210.10,594.64 209.30,595.43 208.50,595.17 207.70,594.66 206.90,594.75 206.10,595.07 205.30,595.01 204.50,595.05 203.70,594.68 202.90,595.17 202.10,595.36 201.30,595.47 200.50,595.12 199.70,595.13 198.90,595.19 198.10,595.23 197.30,595.14 196.50,594.58 195.70,594.88 194.90,595.74 194.10,595.54 193.30,595.10 192.50,595.43 191.70,594.77 190.90,594.83 190.10,595.13 189.30,595.34 188.50,594.52 187.70,595.05 186.90,595.56 186.10,595.20 185.30,595.65 184.50,594.57 183.70,595.54 182.90,595.44 182.10,594.46 181.30,595.07 180.50,595.33 179.70,594.67 178.90,595.10 178.10,594.66 177.30,593.92 176.50,592.81" fill="#7c7c7c"/>
<polygon points="177.00,587.21 177.80,587.48 178.60,587.26 179.40,587.16 180.20,587.31 181.00,587.29 181.80,587.26 182.60,587.23 183.40,587.09 184.20,587.06 185.00,587.31 185.80,587.07 186.60,587.25 187.40,587.30 188.20,587.33 189.00,587.35 189.80,586.91 190.60,586.89 191.40,587.17 192.20,587.05 193.00,586.80 193.80,587.07 194.60,587.16 195.40,587.12 196.20,586.73 197.00,586.76 197.80,586.56 198.60,587.12 199.40,586.65 200.20,586.94 201.00,586.84 201.80,586.89 202.60,586.87 203.40,587.06 204.20,586.94 205.00,586.78 205.80,586.68 206.60,586.92 207.40,587.20 208.20,586.75 209.00,587.09 209.80,587.07 210.60,586.81 211.40,586.85 212.20,587.16 213.00,587.02 213.80,587.02 214.60,587.08 215.40,586.87 216.20,587.25 217.00,587.19 217.80,587.18 218.60,587.08 219.40,587.37 220.20,587.41 221.00,587.29 221.80,587.07 222.60,587.16 223.40,587.22 224.20,587.23 225.00,587.62 225.80,587.61 226.60,587.46 227.40,587.94 228.20,587.82 229.00,587.98 229.80,588.04 230.60,588.02 231.40,587.98 232.20,588.30 233.00,587.85 233.80,588.23 234.60,588.40 235.40,588.24 236.20,588.53 237.00,588.25 237.80,588.49 238.60,588.49 239.40,588.67 240.00,588.92 240.00,589.79 239.40,589.98 238.60,590.38 237.80,590.14 237.00,590.14 236.20,590.75 235.40,590.58 234.60,590.34 233.80,590.72 233.00,590.52 232.20,590.58 231.40,590.98 230.60,590.98 229.80,590.90 229.00,591.01 228.20,591.09 227.40,591.08 226.60,590.92 225.80,591.37 225.00,591.43 224.20,591.27 223.40,591.32 222.60,591.49 221.80,591.46 221.00,591.48 220.20,591.81 219.40,591.85 218.60,591.42 217.80,591.45 217.00,591.83 216.20,591.95 215.40,591.83 214.60,591.59 213.80,591.46 213.00,591.94 212.20,592.01 211.40,591.93 210.60,591.93 209.80,592.09 209.00,591.83 208.20,592.09 207.40,591.71 206.60,591.61 205.80,592.09 205.00,592.02 204.20,592.09 203.40,591.71 202.60,591.83 201.80,592.02 201.00,591.72 200.20,591.89 199.40,592.05 198.60,592.23 197.80,592.07 197.00,591.86 196.20,591.85 195.40,591.89 194.60,592.00 193.80,592.14 193.00,591.52 192.20,592.05 191.40,591.96 190.60,591.48 189.80,591.59 189.00,591.58 188.20,591.52 187.40,591.47 186.60,591.43 185.80,591.74 185.00,591.57 184.20,591.35 183.40,591.77 182.60,591.75 181.80,591.38 181.00,591.70 180.20,591.65 179.40,591.48 178.60,591.19 177.80,591.55 177.00,591.62" fill="#626262"/>
<path d="M244.8 589.7h1.35v1.35h-1.35zM246.3 590.1h1.35v1.35h-1.35zM238.6 584.2h1.35v1.35h-1.35zM192.6 597.7h1.35v1.35h-1.35zM226.3 592.6h1.35v1.35h-1.35zM237.1 585.9h1.35v1.35h-1.35zM232.8 592.6h1.35v1.35h-1.35zM192.0 595.0h1.35v1.35h-1.35zM205.6 595.1h1.35v1.35h-1.35zM216.3 583.4h1.35v1.35h-1.35zM221.8 595.3h1.35v1.35h-1.35zM210.6 580.9h1.35v1.35h-1.35zM176.7 594.0h1.35v1.35h-1.35zM225.0 582.6h1.35v1.35h-1.35zM196.0 594.8h1.35v1.35h-1.35zM183.7 594.7h1.35v1.35h-1.35zM209.1 582.4h1.35v1.35h-1.35zM211.5 594.4h1.35v1.35h-1.35zM243.6 589.9h1.35v1.35h-1.35zM234.7 592.1h1.35v1.35h-1.35zM240.5 590.7h1.35v1.35h-1.35zM240.7 587.0h1.35v1.35h-1.35zM209.5 595.1h1.35v1.35h-1.35zM235.8 586.4h1.35v1.35h-1.35zM228.7 594.2h1.35v1.35h-1.35zM243.3 590.4h1.35v1.35h-1.35zM211.3 594.3h1.35v1.35h-1.35zM179.8 583.1h1.35v1.35h-1.35zM216.3 594.0h1.35v1.35h-1.35zM225.2 594.1h1.35v1.35h-1.35zM181.4 595.1h1.35v1.35h-1.35zM202.7 595.6h1.35v1.35h-1.35zM219.9 583.4h1.35v1.35h-1.35zM234.5 585.7h1.35v1.35h-1.35zM239.7 585.5h1.35v1.35h-1.35zM200.4 594.6h1.35v1.35h-1.35zM212.6 594.0h1.35v1.35h-1.35zM199.2 580.0h1.35v1.35h-1.35zM224.6 593.4h1.35v1.35h-1.35zM225.9 593.9h1.35v1.35h-1.35zM179.6 595.4h1.35v1.35h-1.35zM183.1 581.8h1.35v1.35h-1.35zM216.8 594.1h1.35v1.35h-1.35zM182.4 594.7h1.35v1.35h-1.35zM228.4 583.1h1.35v1.35h-1.35zM203.7 582.9h1.35v1.35h-1.35zM175.7 584.4h1.35v1.35h-1.35zM235.7 585.2h1.35v1.35h-1.35zM217.0 583.8h1.35v1.35h-1.35zM192.1 582.0h1.35v1.35h-1.35zM212.8 595.1h1.35v1.35h-1.35zM186.6 582.8h1.35v1.35h-1.35zM231.4 593.7h1.35v1.35h-1.35zM223.0 595.3h1.35v1.35h-1.35zM194.9 595.0h1.35v1.35h-1.35zM179.7 579.5h1.35v1.35h-1.35zM225.5 583.6h1.35v1.35h-1.35zM190.1 582.2h1.35v1.35h-1.35zM232.5 583.9h1.35v1.35h-1.35zM191.8 594.9h1.35v1.35h-1.35zM237.6 591.7h1.35v1.35h-1.35zM238.5 591.2h1.35v1.35h-1.35zM216.3 582.6h1.35v1.35h-1.35zM209.0 583.2h1.35v1.35h-1.35zM206.5 596.7h1.35v1.35h-1.35zM193.1 581.7h1.35v1.35h-1.35zM177.0 593.7h1.35v1.35h-1.35zM223.5 584.1h1.35v1.35h-1.35zM219.4 594.5h1.35v1.35h-1.35zM208.7 583.1h1.35v1.35h-1.35zM203.4 581.9h1.35v1.35h-1.35zM230.0 592.8h1.35v1.35h-1.35zM244.0 592.4h1.35v1.35h-1.35zM216.4 583.4h1.35v1.35h-1.35zM190.7 594.5h1.35v1.35h-1.35zM222.7 583.2h1.35v1.35h-1.35zM224.5 593.6h1.35v1.35h-1.35zM188.0 582.2h1.35v1.35h-1.35zM240.2 591.5h1.35v1.35h-1.35zM194.8 582.0h1.35v1.35h-1.35zM241.7 590.5h1.35v1.35h-1.35zM186.1 582.4h1.35v1.35h-1.35zM247.0 587.7h1.35v1.35h-1.35zM206.2 582.2h1.35v1.35h-1.35zM233.9 584.7h1.35v1.35h-1.35zM204.3 582.9h1.35v1.35h-1.35zM237.9 586.3h1.35v1.35h-1.35zM245.9 590.4h1.35v1.35h-1.35zM223.2 593.5h1.35v1.35h-1.35zM223.8 593.5h1.35v1.35h-1.35zM222.6 593.7h1.35v1.35h-1.35zM193.8 595.9h1.35v1.35h-1.35zM193.4 594.8h1.35v1.35h-1.35zM233.2 585.3h1.35v1.35h-1.35zM186.9 581.7h1.35v1.35h-1.35zM215.6 581.6h1.35v1.35h-1.35zM230.9 585.3h1.35v1.35h-1.35zM233.7 592.7h1.35v1.35h-1.35zM230.6 592.5h1.35v1.35h-1.35zM212.8 582.7h1.35v1.35h-1.35zM217.6 594.5h1.35v1.35h-1.35zM242.4 591.1h1.35v1.35h-1.35zM175.9 583.7h1.35v1.35h-1.35zM221.1 594.5h1.35v1.35h-1.35zM180.0 582.6h1.35v1.35h-1.35zM220.3 593.5h1.35v1.35h-1.35zM203.3 582.8h1.35v1.35h-1.35zM189.4 595.3h1.35v1.35h-1.35zM234.4 591.9h1.35v1.35h-1.35zM243.9 587.0h1.35v1.35h-1.35zM245.0 590.1h1.35v1.35h-1.35zM217.5 583.8h1.35v1.35h-1.35zM210.0 582.9h1.35v1.35h-1.35zM203.4 595.4h1.35v1.35h-1.35zM227.2 582.8h1.35v1.35h-1.35zM236.4 586.0h1.35v1.35h-1.35zM211.0 594.2h1.35v1.35h-1.35zM242.3 586.8h1.35v1.35h-1.35zM195.7 582.9h1.35v1.35h-1.35zM183.1 596.2h1.35v1.35h-1.35zM186.5 583.0h1.35v1.35h-1.35zM229.5 593.1h1.35v1.35h-1.35zM220.8 582.5h1.35v1.35h-1.35zM223.5 582.9h1.35v1.35h-1.35zM228.0 584.1h1.35v1.35h-1.35zM243.2 591.8h1.35v1.35h-1.35zM201.8 595.3h1.35v1.35h-1.35zM206.5 595.2h1.35v1.35h-1.35zM210.0 582.4h1.35v1.35h-1.35zM222.8 583.3h1.35v1.35h-1.35zM247.2 587.6h1.35v1.35h-1.35zM199.3 594.8h1.35v1.35h-1.35zM236.7 592.4h1.35v1.35h-1.35zM208.5 582.7h1.35v1.35h-1.35zM222.8 584.0h1.35v1.35h-1.35zM224.9 593.5h1.35v1.35h-1.35zM217.1 583.0h1.35v1.35h-1.35zM201.7 596.1h1.35v1.35h-1.35zM195.3 582.9h1.35v1.35h-1.35zM180.3 582.6h1.35v1.35h-1.35zM190.4 594.6h1.35v1.35h-1.35zM227.9 584.9h1.35v1.35h-1.35zM205.8 581.4h1.35v1.35h-1.35zM221.6 584.0h1.35v1.35h-1.35zM185.6 581.9h1.35v1.35h-1.35zM198.4 582.8h1.35v1.35h-1.35zM226.3 595.0h1.35v1.35h-1.35zM226.3 593.2h1.35v1.35h-1.35zM240.8 586.0h1.35v1.35h-1.35zM197.0 594.7h1.35v1.35h-1.35zM202.0 582.5h1.35v1.35h-1.35zM180.2 594.8h1.35v1.35h-1.35zM202.3 582.0h1.35v1.35h-1.35zM213.4 594.0h1.35v1.35h-1.35zM243.8 590.8h1.35v1.35h-1.35zM235.7 592.1h1.35v1.35h-1.35zM221.0 595.9h1.35v1.35h-1.35zM180.2 582.9h1.35v1.35h-1.35zM177.6 595.9h1.35v1.35h-1.35zM233.2 591.7h1.35v1.35h-1.35zM175.9 585.1h1.35v1.35h-1.35zM184.9 580.7h1.35v1.35h-1.35zM219.8 583.1h1.35v1.35h-1.35zM236.5 592.3h1.35v1.35h-1.35zM246.4 587.5h1.35v1.35h-1.35zM212.5 583.1h1.35v1.35h-1.35zM244.9 587.7h1.35v1.35h-1.35zM182.8 594.5h1.35v1.35h-1.35zM238.3 584.8h1.35v1.35h-1.35zM212.4 595.0h1.35v1.35h-1.35zM243.2 585.8h1.35v1.35h-1.35zM211.6 583.4h1.35v1.35h-1.35zM184.9 594.6h1.35v1.35h-1.35zM181.7 580.6h1.35v1.35h-1.35zM214.1 594.3h1.35v1.35h-1.35zM203.3 581.5h1.35v1.35h-1.35zM179.0 582.7h1.35v1.35h-1.35zM195.3 582.4h1.35v1.35h-1.35zM187.8 582.3h1.35v1.35h-1.35zM187.6 582.6h1.35v1.35h-1.35zM179.2 581.5h1.35v1.35h-1.35zM202.4 582.2h1.35v1.35h-1.35zM222.6 583.2h1.35v1.35h-1.35zM192.4 582.4h1.35v1.35h-1.35zM198.2 595.0h1.35v1.35h-1.35zM184.3 595.0h1.35v1.35h-1.35zM214.0 583.4h1.35v1.35h-1.35zM241.9 591.0h1.35v1.35h-1.35zM206.1 582.2h1.35v1.35h-1.35zM223.1 593.7h1.35v1.35h-1.35zM190.6 595.2h1.35v1.35h-1.35zM216.2 594.0h1.35v1.35h-1.35zM205.8 594.7h1.35v1.35h-1.35zM222.5 593.4h1.35v1.35h-1.35zM241.9 591.5h1.35v1.35h-1.35zM242.7 586.5h1.35v1.35h-1.35zM239.4 590.6h1.35v1.35h-1.35zM221.1 583.4h1.35v1.35h-1.35zM205.9 594.9h1.35v1.35h-1.35zM192.6 582.4h1.35v1.35h-1.35zM231.2 585.3h1.35v1.35h-1.35zM220.1 594.7h1.35v1.35h-1.35zM187.9 581.7h1.35v1.35h-1.35zM198.2 581.9h1.35v1.35h-1.35zM240.0 585.0h1.35v1.35h-1.35zM192.0 594.8h1.35v1.35h-1.35zM246.3 586.9h1.35v1.35h-1.35zM194.0 581.3h1.35v1.35h-1.35zM234.0 591.5h1.35v1.35h-1.35zM185.6 582.6h1.35v1.35h-1.35zM177.6 593.8h1.35v1.35h-1.35zM208.4 583.1h1.35v1.35h-1.35zM241.2 587.0h1.35v1.35h-1.35zM228.7 592.3h1.35v1.35h-1.35zM210.6 583.1h1.35v1.35h-1.35zM244.4 590.4h1.35v1.35h-1.35zM238.1 592.0h1.35v1.35h-1.35zM229.2 585.0h1.35v1.35h-1.35zM180.0 581.2h1.35v1.35h-1.35zM226.1 593.6h1.35v1.35h-1.35zM207.2 594.4h1.35v1.35h-1.35zM236.9 585.4h1.35v1.35h-1.35zM245.8 591.0h1.35v1.35h-1.35zM238.8 585.9h1.35v1.35h-1.35zM192.1 583.0h1.35v1.35h-1.35zM217.8 582.9h1.35v1.35h-1.35zM228.5 593.2h1.35v1.35h-1.35zM197.7 595.2h1.35v1.35h-1.35zM194.1 596.4h1.35v1.35h-1.35zM190.0 581.0h1.35v1.35h-1.35zM177.4 580.8h1.35v1.35h-1.35zM179.6 580.6h1.35v1.35h-1.35zM183.8 579.5h1.35v1.35h-1.35zM183.1 574.8h1.35v1.35h-1.35zM179.3 580.7h1.35v1.35h-1.35zM175.5 580.8h1.35v1.35h-1.35zM179.9 578.9h1.35v1.35h-1.35zM175.5 579.0h1.35v1.35h-1.35zM175.5 579.5h1.35v1.35h-1.35zM180.2 575.5h1.35v1.35h-1.35zM183.0 581.8h1.35v1.35h-1.35zM180.0 581.0h1.35v1.35h-1.35zM184.9 579.5h1.35v1.35h-1.35zM182.2 579.9h1.35v1.35h-1.35zM175.6 581.9h1.35v1.35h-1.35zM183.6 580.6h1.35v1.35h-1.35zM181.3 580.4h1.35v1.35h-1.35zM179.6 582.0h1.35v1.35h-1.35zM175.9 582.4h1.35v1.35h-1.35zM176.6 579.1h1.35v1.35h-1.35zM177.5 581.2h1.35v1.35h-1.35zM180.6 579.3h1.35v1.35h-1.35zM177.3 582.3h1.35v1.35h-1.35zM179.8 580.2h1.35v1.35h-1.35zM176.7 574.2h1.35v1.35h-1.35zM185.0 581.3h1.35v1.35h-1.35zM175.7 580.4h1.35v1.35h-1.35zM180.7 580.9h1.35v1.35h-1.35zM180.5 579.9h1.35v1.35h-1.35zM179.6 581.2h1.35v1.35h-1.35zM180.8 579.5h1.35v1.35h-1.35zM180.5 581.8h1.35v1.35h-1.35zM176.5 581.3h1.35v1.35h-1.35zM177.2 578.3h1.35v1.35h-1.35zM179.9 578.6h1.35v1.35h-1.35zM177.6 582.6h1.35v1.35h-1.35zM180.2 573.1h1.35v1.35h-1.35zM184.0 579.1h1.35v1.35h-1.35zM183.0 580.1h1.35v1.35h-1.35zM178.6 579.4h1.35v1.35h-1.35zM229.2 584.0h1.35v1.35h-1.35zM238.0 582.0h1.35v1.35h-1.35zM233.4 584.4h1.35v1.35h-1.35zM220.0 583.0h1.35v1.35h-1.35zM223.7 582.9h1.35v1.35h-1.35zM226.8 584.5h1.35v1.35h-1.35zM214.6 583.2h1.35v1.35h-1.35zM222.5 584.5h1.35v1.35h-1.35zM235.5 582.6h1.35v1.35h-1.35zM216.9 583.0h1.35v1.35h-1.35zM227.6 582.9h1.35v1.35h-1.35zM234.2 584.2h1.35v1.35h-1.35zM221.0 583.1h1.35v1.35h-1.35zM224.6 582.6h1.35v1.35h-1.35zM218.8 583.9h1.35v1.35h-1.35zM237.8 581.6h1.35v1.35h-1.35zM238.9 583.7h1.35v1.35h-1.35zM233.2 583.7h1.35v1.35h-1.35zM234.1 581.5h1.35v1.35h-1.35zM217.6 583.6h1.35v1.35h-1.35zM233.0 584.4h1.35v1.35h-1.35zM217.5 583.6h1.35v1.35h-1.35zM231.3 583.6h1.35v1.35h-1.35zM237.1 584.0h1.35v1.35h-1.35zM232.8 583.4h1.35v1.35h-1.35zM175.3 570.3h1.35v1.35h-1.35zM179.3 568.3h1.35v1.35h-1.35zM175.8 584.3h1.35v1.35h-1.35zM175.3 598.3h1.35v1.35h-1.35zM177.3 603.8h1.35v1.35h-1.35zM173.8 579.3h1.35v1.35h-1.35zM174.8 591.3h1.35v1.35h-1.35zM176.3 595.3h1.35v1.35h-1.35zM182.8 567.6h1.35v1.35h-1.35zM184.3 569.8h1.35v1.35h-1.35zM243.8 589.4h1.35v1.35h-1.35zM251.2 587.4h1.35v1.35h-1.35zM243.0 588.2h1.35v1.35h-1.35zM254.2 588.6h1.35v1.35h-1.35zM255.1 590.3h1.35v1.35h-1.35zM253.5 589.9h1.35v1.35h-1.35zM250.8 589.1h1.35v1.35h-1.35zM246.5 588.6h1.35v1.35h-1.35zM245.1 589.4h1.35v1.35h-1.35zM249.8 586.9h1.35v1.35h-1.35zM243.7 588.2h1.35v1.35h-1.35zM249.9 589.6h1.35v1.35h-1.35zM245.5 588.6h1.35v1.35h-1.35zM244.7 589.3h1.35v1.35h-1.35zM251.8 589.0h1.35v1.35h-1.35zM244.4 588.7h1.35v1.35h-1.35zM239.4 590.6h1.35v1.35h-1.35zM244.5 589.1h1.35v1.35h-1.35zM241.5 589.6h1.35v1.35h-1.35zM250.6 588.5h1.35v1.35h-1.35zM241.5 590.2h1.35v1.35h-1.35zM253.0 590.0h1.35v1.35h-1.35zM241.8 589.9h1.35v1.35h-1.35zM246.3 588.4h1.35v1.35h-1.35zM248.0 588.5h1.35v1.35h-1.35zM249.4 587.3h1.35v1.35h-1.35zM247.9 589.5h1.35v1.35h-1.35zM240.0 589.0h1.35v1.35h-1.35zM241.7 586.0h1.35v1.35h-1.35zM242.0 587.5h1.35v1.35h-1.35zM246.6 588.0h1.35v1.35h-1.35zM242.2 587.8h1.35v1.35h-1.35zM247.8 588.8h1.35v1.35h-1.35zM254.2 585.6h1.35v1.35h-1.35zM254.2 590.1h1.35v1.35h-1.35z" fill="#7f7f7f"/>
<path d="M184.0 575.4h1.35v1.35h-1.35zM185.0 580.3h1.35v1.35h-1.35zM183.8 582.2h1.35v1.35h-1.35zM182.0 572.9h1.35v1.35h-1.35zM200.2 581.8h1.35v1.35h-1.35zM186.0 577.8h1.35v1.35h-1.35zM188.9 582.5h1.35v1.35h-1.35zM203.7 577.6h1.35v1.35h-1.35zM180.9 571.6h1.35v1.35h-1.35zM187.0 571.0h1.35v1.35h-1.35zM182.4 578.5h1.35v1.35h-1.35zM198.8 577.8h1.35v1.35h-1.35zM180.6 576.1h1.35v1.35h-1.35zM186.7 581.9h1.35v1.35h-1.35zM187.2 573.7h1.35v1.35h-1.35zM185.1 577.0h1.35v1.35h-1.35zM215.1 580.8h1.35v1.35h-1.35zM187.3 576.4h1.35v1.35h-1.35zM202.2 576.1h1.35v1.35h-1.35zM183.0 573.3h1.35v1.35h-1.35zM185.0 582.6h1.35v1.35h-1.35zM188.6 575.2h1.35v1.35h-1.35zM182.9 570.5h1.35v1.35h-1.35zM183.9 581.3h1.35v1.35h-1.35zM185.6 582.8h1.35v1.35h-1.35zM207.7 582.5h1.35v1.35h-1.35zM185.1 581.0h1.35v1.35h-1.35zM180.7 579.7h1.35v1.35h-1.35zM196.7 579.5h1.35v1.35h-1.35zM192.0 577.7h1.35v1.35h-1.35zM187.1 581.6h1.35v1.35h-1.35zM181.8 573.9h1.35v1.35h-1.35zM181.6 576.1h1.35v1.35h-1.35zM184.9 577.2h1.35v1.35h-1.35zM199.3 575.0h1.35v1.35h-1.35zM186.8 576.0h1.35v1.35h-1.35zM199.7 582.0h1.35v1.35h-1.35zM187.4 576.1h1.35v1.35h-1.35zM181.5 581.7h1.35v1.35h-1.35zM197.9 577.9h1.35v1.35h-1.35zM200.9 576.5h1.35v1.35h-1.35zM193.2 573.8h1.35v1.35h-1.35zM184.9 577.4h1.35v1.35h-1.35zM181.4 574.6h1.35v1.35h-1.35zM198.7 576.6h1.35v1.35h-1.35zM189.6 578.0h1.35v1.35h-1.35zM180.9 575.7h1.35v1.35h-1.35zM183.5 578.5h1.35v1.35h-1.35zM197.7 577.2h1.35v1.35h-1.35zM192.9 580.5h1.35v1.35h-1.35zM196.2 580.1h1.35v1.35h-1.35zM182.9 574.1h1.35v1.35h-1.35zM195.7 577.7h1.35v1.35h-1.35zM180.9 580.0h1.35v1.35h-1.35zM195.7 572.4h1.35v1.35h-1.35zM198.0 581.3h1.35v1.35h-1.35zM185.4 572.9h1.35v1.35h-1.35zM180.8 575.2h1.35v1.35h-1.35zM182.0 575.1h1.35v1.35h-1.35zM185.8 579.9h1.35v1.35h-1.35zM196.0 579.5h1.35v1.35h-1.35zM183.3 578.9h1.35v1.35h-1.35zM194.6 581.6h1.35v1.35h-1.35zM187.5 581.5h1.35v1.35h-1.35zM189.6 575.1h1.35v1.35h-1.35zM191.9 577.8h1.35v1.35h-1.35zM185.7 576.7h1.35v1.35h-1.35zM185.6 579.0h1.35v1.35h-1.35zM183.4 580.6h1.35v1.35h-1.35zM196.9 579.2h1.35v1.35h-1.35zM187.6 577.8h1.35v1.35h-1.35zM203.2 575.2h1.35v1.35h-1.35zM188.6 580.4h1.35v1.35h-1.35zM192.6 581.1h1.35v1.35h-1.35zM202.1 581.9h1.35v1.35h-1.35zM184.5 572.5h1.35v1.35h-1.35zM181.2 572.7h1.35v1.35h-1.35zM189.9 569.1h1.35v1.35h-1.35zM187.9 578.6h1.35v1.35h-1.35zM184.3 575.5h1.35v1.35h-1.35zM186.9 581.5h1.35v1.35h-1.35zM180.4 581.3h1.35v1.35h-1.35zM186.7 570.2h1.35v1.35h-1.35zM193.0 581.4h1.35v1.35h-1.35zM190.6 575.9h1.35v1.35h-1.35zM181.3 582.2h1.35v1.35h-1.35zM196.8 576.6h1.35v1.35h-1.35zM180.6 577.8h1.35v1.35h-1.35zM192.7 573.1h1.35v1.35h-1.35zM186.7 578.1h1.35v1.35h-1.35zM180.8 579.2h1.35v1.35h-1.35zM200.7 574.3h1.35v1.35h-1.35zM185.4 574.8h1.35v1.35h-1.35zM186.5 574.1h1.35v1.35h-1.35zM189.0 581.0h1.35v1.35h-1.35zM190.2 570.0h1.35v1.35h-1.35zM185.8 577.6h1.35v1.35h-1.35zM204.8 580.2h1.35v1.35h-1.35zM186.8 578.4h1.35v1.35h-1.35zM186.0 573.2h1.35v1.35h-1.35zM188.6 580.0h1.35v1.35h-1.35zM192.0 572.6h1.35v1.35h-1.35zM201.3 577.0h1.35v1.35h-1.35zM183.1 574.2h1.35v1.35h-1.35zM185.2 574.7h1.35v1.35h-1.35zM190.3 581.9h1.35v1.35h-1.35zM199.7 580.6h1.35v1.35h-1.35zM205.9 581.2h1.35v1.35h-1.35zM195.9 581.1h1.35v1.35h-1.35zM187.8 577.0h1.35v1.35h-1.35zM181.2 582.0h1.35v1.35h-1.35zM195.1 577.2h1.35v1.35h-1.35zM183.5 581.4h1.35v1.35h-1.35zM186.4 575.2h1.35v1.35h-1.35zM183.6 582.4h1.35v1.35h-1.35zM197.6 582.6h1.35v1.35h-1.35zM188.9 576.3h1.35v1.35h-1.35zM186.3 577.7h1.35v1.35h-1.35zM207.2 577.9h1.35v1.35h-1.35zM186.3 581.9h1.35v1.35h-1.35zM182.6 577.1h1.35v1.35h-1.35zM196.1 582.8h1.35v1.35h-1.35zM199.9 577.0h1.35v1.35h-1.35zM198.1 582.4h1.35v1.35h-1.35zM195.1 580.7h1.35v1.35h-1.35zM190.9 574.1h1.35v1.35h-1.35zM189.1 577.6h1.35v1.35h-1.35zM202.2 582.1h1.35v1.35h-1.35zM181.9 582.6h1.35v1.35h-1.35zM189.2 578.1h1.35v1.35h-1.35zM185.9 578.3h1.35v1.35h-1.35zM189.8 581.0h1.35v1.35h-1.35zM182.1 579.1h1.35v1.35h-1.35zM195.9 577.6h1.35v1.35h-1.35zM189.0 577.9h1.35v1.35h-1.35zM183.9 579.3h1.35v1.35h-1.35zM185.3 578.9h1.35v1.35h-1.35zM189.2 578.3h1.35v1.35h-1.35zM187.2 578.9h1.35v1.35h-1.35zM198.1 578.4h1.35v1.35h-1.35zM185.3 578.3h1.35v1.35h-1.35zM203.7 576.5h1.35v1.35h-1.35zM191.3 581.8h1.35v1.35h-1.35zM180.4 578.7h1.35v1.35h-1.35zM201.8 577.3h1.35v1.35h-1.35zM192.4 578.0h1.35v1.35h-1.35zM180.4 580.8h1.35v1.35h-1.35zM182.1 580.1h1.35v1.35h-1.35zM182.2 575.9h1.35v1.35h-1.35zM185.3 578.2h1.35v1.35h-1.35zM189.6 566.0h1.35v1.35h-1.35zM210.8 582.3h1.35v1.35h-1.35zM213.3 579.3h1.35v1.35h-1.35zM215.8 577.8h1.35v1.35h-1.35zM216.1 582.3h1.35v1.35h-1.35zM218.3 581.8h1.35v1.35h-1.35zM219.3 580.8h1.35v1.35h-1.35zM231.3 580.8h1.35v1.35h-1.35zM221.2 538.5h1.35v1.35h-1.35z" fill="#e01b1b"/>
<path d="M186.4 598.2h1.35v1.35h-1.35zM213.5 597.5h1.35v1.35h-1.35zM195.0 597.3h1.35v1.35h-1.35zM199.5 596.6h1.35v1.35h-1.35zM209.9 596.6h1.35v1.35h-1.35zM183.2 594.8h1.35v1.35h-1.35zM196.7 595.7h1.35v1.35h-1.35zM191.2 595.6h1.35v1.35h-1.35zM198.8 596.6h1.35v1.35h-1.35zM182.8 595.9h1.35v1.35h-1.35zM186.1 596.0h1.35v1.35h-1.35zM194.1 595.6h1.35v1.35h-1.35zM198.3 594.7h1.35v1.35h-1.35zM189.6 594.8h1.35v1.35h-1.35zM219.2 596.0h1.35v1.35h-1.35zM215.1 595.7h1.35v1.35h-1.35zM209.9 600.9h1.35v1.35h-1.35zM195.1 599.2h1.35v1.35h-1.35zM200.1 595.1h1.35v1.35h-1.35zM187.7 598.8h1.35v1.35h-1.35zM204.1 597.1h1.35v1.35h-1.35zM202.4 601.2h1.35v1.35h-1.35zM194.0 594.9h1.35v1.35h-1.35zM184.3 596.9h1.35v1.35h-1.35zM217.6 597.7h1.35v1.35h-1.35zM195.6 598.6h1.35v1.35h-1.35zM183.6 599.4h1.35v1.35h-1.35zM184.4 598.2h1.35v1.35h-1.35zM216.8 596.0h1.35v1.35h-1.35zM195.5 597.2h1.35v1.35h-1.35zM186.1 595.5h1.35v1.35h-1.35zM202.2 599.0h1.35v1.35h-1.35zM199.6 596.4h1.35v1.35h-1.35zM199.3 597.7h1.35v1.35h-1.35zM205.6 597.2h1.35v1.35h-1.35zM205.4 599.9h1.35v1.35h-1.35zM204.9 595.2h1.35v1.35h-1.35zM217.7 595.9h1.35v1.35h-1.35zM192.2 597.6h1.35v1.35h-1.35zM184.3 597.0h1.35v1.35h-1.35zM180.8 603.3h1.35v1.35h-1.35zM182.3 602.3h1.35v1.35h-1.35zM184.8 600.3h1.35v1.35h-1.35zM186.3 599.8h1.35v1.35h-1.35zM187.3 601.8h1.35v1.35h-1.35zM198.8 602.3h1.35v1.35h-1.35zM204.8 602.3h1.35v1.35h-1.35zM209.8 595.8h1.35v1.35h-1.35zM210.8 598.3h1.35v1.35h-1.35zM212.8 595.8h1.35v1.35h-1.35zM216.3 597.8h1.35v1.35h-1.35zM220.1 601.0h1.35v1.35h-1.35z" fill="#66cc33"/>
<line x1="172.30" y1="589.40" x2="257.60" y2="589.40" stroke="#333" stroke-width="0.6"/>
<rect x="172.30" y="536.80" width="85.30" height="72.10" fill="none" stroke="#111" stroke-width="1.25"/>
<line x1="169.10" y1="542.60" x2="172.30" y2="542.60" stroke="#111" stroke-width="0.9"/>
<text x="166.10" y="544.50" font-size="6.6" fill="#333" stroke="#333" text-anchor="end" textLength="3.67" lengthAdjust="spacingAndGlyphs" stroke-width="0.2">8</text>
<line x1="169.10" y1="554.30" x2="172.30" y2="554.30" stroke="#111" stroke-width="0.9"/>
<text x="166.10" y="556.20" font-size="6.6" fill="#333" stroke="#333" text-anchor="end" textLength="3.67" lengthAdjust="spacingAndGlyphs" stroke-width="0.2">6</text>
<line x1="169.10" y1="566.00" x2="172.30" y2="566.00" stroke="#111" stroke-width="0.9"/>
<text x="166.10" y="567.90" font-size="6.6" fill="#333" stroke="#333" text-anchor="end" textLength="3.67" lengthAdjust="spacingAndGlyphs" stroke-width="0.2">4</text>
<line x1="169.10" y1="577.70" x2="172.30" y2="577.70" stroke="#111" stroke-width="0.9"/>
<text x="166.10" y="579.60" font-size="6.6" fill="#333" stroke="#333" text-anchor="end" textLength="3.67" lengthAdjust="spacingAndGlyphs" stroke-width="0.2">2</text>
<line x1="169.10" y1="589.40" x2="172.30" y2="589.40" stroke="#111" stroke-width="0.9"/>
<text x="166.10" y="591.30" font-size="6.6" fill="#333" stroke="#333" text-anchor="end" textLength="3.67" lengthAdjust="spacingAndGlyphs" stroke-width="0.2">0</text>
<line x1="169.10" y1="601.10" x2="172.30" y2="601.10" stroke="#111" stroke-width="0.9"/>
<text x="166.10" y="603.00" font-size="6.6" fill="#333" stroke="#333" text-anchor="end" textLength="5.87" lengthAdjust="spacingAndGlyphs" stroke-width="0.2">-2</text>
<line x1="181.50" y1="608.90" x2="181.50" y2="612.10" stroke="#111" stroke-width="0.9"/>
<text x="181.50" y="621.20" font-size="6.6" fill="#333" stroke="#333" text-anchor="middle" textLength="3.67" lengthAdjust="spacingAndGlyphs" stroke-width="0.2">2</text>
<line x1="194.58" y1="608.90" x2="194.58" y2="612.10" stroke="#111" stroke-width="0.9"/>
<text x="194.58" y="621.20" font-size="6.6" fill="#333" stroke="#333" text-anchor="middle" textLength="3.67" lengthAdjust="spacingAndGlyphs" stroke-width="0.2">4</text>
<line x1="207.66" y1="608.90" x2="207.66" y2="612.10" stroke="#111" stroke-width="0.9"/>
<text x="207.66" y="621.20" font-size="6.6" fill="#333" stroke="#333" text-anchor="middle" textLength="3.67" lengthAdjust="spacingAndGlyphs" stroke-width="0.2">6</text>
<line x1="220.74" y1="608.90" x2="220.74" y2="612.10" stroke="#111" stroke-width="0.9"/>
<text x="220.74" y="621.20" font-size="6.6" fill="#333" stroke="#333" text-anchor="middle" textLength="3.67" lengthAdjust="spacingAndGlyphs" stroke-width="0.2">8</text>
<line x1="233.82" y1="608.90" x2="233.82" y2="612.10" stroke="#111" stroke-width="0.9"/>
<text x="233.82" y="621.20" font-size="6.6" fill="#333" stroke="#333" text-anchor="middle" textLength="7.34" lengthAdjust="spacingAndGlyphs" stroke-width="0.2">10</text>
<line x1="246.90" y1="608.90" x2="246.90" y2="612.10" stroke="#111" stroke-width="0.9"/>
<text x="246.90" y="621.20" font-size="6.6" fill="#333" stroke="#333" text-anchor="middle" textLength="7.34" lengthAdjust="spacingAndGlyphs" stroke-width="0.2">12</text>
<text x="197.90" y="633.00" font-size="7.8" fill="#333" stroke="#333" stroke-width="0.1" textLength="35.98" lengthAdjust="spacingAndGlyphs">CPM (log2)</text>
<text x="140.20" y="573.10" font-size="7.2" fill="#333" stroke="#333" stroke-width="0.1" text-anchor="middle" textLength="11.72" lengthAdjust="spacingAndGlyphs" transform="rotate(-90 140.20 573.10)">LPS</text>
<text x="150.90" y="573.00" font-size="7.2" fill="#333" stroke="#333" stroke-width="0.1" text-anchor="middle" textLength="62.22" lengthAdjust="spacingAndGlyphs" transform="rotate(-90 150.90 573.00)">PU1KO - WT (LogFC)</text>
<text x="221.10" y="545.80" font-size="5.3" fill="#d0202e" stroke="#d0202e" stroke-width="0.1" textLength="5.76" lengthAdjust="spacingAndGlyphs">Up</text>
<text x="236.00" y="545.80" font-size="5.3" fill="#d0202e" stroke="#d0202e" stroke-width="0.1" textLength="15.65" lengthAdjust="spacingAndGlyphs">(n=120)</text>
<text x="221.10" y="551.80" font-size="5.3" fill="#888" stroke="#888" stroke-width="0.1" textLength="11.52" lengthAdjust="spacingAndGlyphs">Equal</text>
<text x="236.00" y="551.80" font-size="5.3" fill="#888" stroke="#888" stroke-width="0.1" textLength="18.16" lengthAdjust="spacingAndGlyphs">(n=9917)</text>
<text x="221.10" y="557.60" font-size="5.3" fill="#5cb82e" stroke="#5cb82e" stroke-width="0.1" textLength="11.52" lengthAdjust="spacingAndGlyphs">Down</text>
<text x="236.00" y="557.60" font-size="5.3" fill="#5cb82e" stroke="#5cb82e" stroke-width="0.1" textLength="13.15" lengthAdjust="spacingAndGlyphs">(n=47)</text>
<text x="281.20" y="405.80" font-size="11" fill="#000" font-weight="bold">H</text>
<text x="310.40" y="417.80" font-size="6.6" fill="#222" stroke="#222" stroke-width="0.1" textLength="11.26" lengthAdjust="spacingAndGlyphs">LPS</text>
<line x1="311.00" y1="475.60" x2="311.00" y2="436.50" stroke="#111" stroke-width="0.8"/>
<polygon points="311.00,432.40 309.00,437.60 313.00,437.60" fill="#111"/>
<text x="299.30" y="454.00" font-size="6.6" fill="#222" stroke="#222" stroke-width="0.1" text-anchor="middle" textLength="38.16" lengthAdjust="spacingAndGlyphs" transform="rotate(-90 299.30 454.00)">Upregulated</text>
<text x="306.80" y="454.00" font-size="6.6" fill="#222" stroke="#222" stroke-width="0.1" text-anchor="middle" textLength="16.96" lengthAdjust="spacingAndGlyphs" transform="rotate(-90 306.80 454.00)">in KO</text>
<line x1="311.00" y1="491.90" x2="311.00" y2="531.00" stroke="#111" stroke-width="0.8"/>
<polygon points="311.00,535.00 309.00,529.80 313.00,529.80" fill="#111"/>
<text x="298.90" y="514.00" font-size="6.6" fill="#222" stroke="#222" stroke-width="0.1" text-anchor="middle" textLength="47.36" lengthAdjust="spacingAndGlyphs" transform="rotate(-90 298.90 514.00)">Downregulated</text>
<text x="306.40" y="513.50" font-size="6.6" fill="#222" stroke="#222" stroke-width="0.1" text-anchor="middle" textLength="17.56" lengthAdjust="spacingAndGlyphs" transform="rotate(-90 306.40 513.50)">in KO</text>
<circle cx="342.4" cy="449.6" r="24.7" fill="#4c5468" stroke="#2a2a2a" stroke-width="0.6"/>
<circle cx="375.2" cy="449.8" r="15.1" fill="#b36c22" stroke="#2a2a2a" stroke-width="0.6"/>
<clipPath id="hc1"><circle cx="342.4" cy="449.6" r="24.7"/></clipPath>
<circle cx="375.2" cy="449.8" r="15.1" fill="#3a2914" stroke="#1a1a1a" stroke-width="0.6" clip-path="url(#hc1)"/>
<text x="342.70" y="451.90" font-size="6.9" fill="#e8e8ee" stroke="#e8e8ee" stroke-width="0.1" text-anchor="middle" textLength="10.49" lengthAdjust="spacingAndGlyphs">353</text>
<text x="375.20" y="451.90" font-size="6.9" fill="#f5efe6" stroke="#f5efe6" stroke-width="0.1" text-anchor="middle" textLength="10.49" lengthAdjust="spacingAndGlyphs">136</text>
<text x="369.20" y="426.00" font-size="6.6" fill="#222" stroke="#222" stroke-width="0.1" text-anchor="middle" textLength="7.66" lengthAdjust="spacingAndGlyphs">24</text>
<line x1="368.10" y1="428.60" x2="365.80" y2="437.40" stroke="#222" stroke-width="0.6"/>
<circle cx="341.2" cy="509.2" r="20.4" fill="#4c5468" stroke="#2a2a2a" stroke-width="0.6"/>
<circle cx="375.9" cy="509.2" r="16.3" fill="#b36c22" stroke="#2a2a2a" stroke-width="0.6"/>
<clipPath id="hc2"><circle cx="341.2" cy="509.2" r="20.4"/></clipPath>
<circle cx="375.9" cy="509.2" r="16.3" fill="#3a2914" stroke="#1a1a1a" stroke-width="0.6" clip-path="url(#hc2)"/>
<text x="342.70" y="511.60" font-size="6.9" fill="#e8e8ee" stroke="#e8e8ee" stroke-width="0.1" text-anchor="middle" textLength="10.49" lengthAdjust="spacingAndGlyphs">200</text>
<text x="375.20" y="511.40" font-size="6.9" fill="#f5efe6" stroke="#f5efe6" stroke-width="0.1" text-anchor="middle" textLength="7.29" lengthAdjust="spacingAndGlyphs">39</text>
<text x="363.50" y="534.10" font-size="6.6" fill="#222" stroke="#222" stroke-width="0.1" text-anchor="middle" textLength="4.16" lengthAdjust="spacingAndGlyphs">5</text>
<line x1="360.80" y1="519.40" x2="361.90" y2="526.50" stroke="#222" stroke-width="0.6"/>
<rect x="295.10" y="551.30" width="6.60" height="6.60" fill="#4c5468" stroke="#222" stroke-width="0.5"/>
<rect x="295.10" y="562.30" width="6.60" height="6.60" fill="#b36c22" stroke="#222" stroke-width="0.5"/>
<text x="305.00" y="556.90" font-size="6.9" fill="#222" stroke="#222" stroke-width="0.1" textLength="46.89" lengthAdjust="spacingAndGlyphs">OBF1 knockout</text>
<text x="305.00" y="568.00" font-size="6.9" fill="#222" stroke="#222" stroke-width="0.1" textLength="44.19" lengthAdjust="spacingAndGlyphs">PU.1 knockout</text>
<rect x="0" y="0" width="520" height="1" fill="#000"/>
<rect x="0" y="0" width="1.1" height="643" fill="#000"/>
<rect x="518.5" y="0" width="1.5" height="643" fill="#000"/>
<rect x="0" y="641.5" width="520" height="1.5" fill="#000"/>
</svg>
</body></html>
